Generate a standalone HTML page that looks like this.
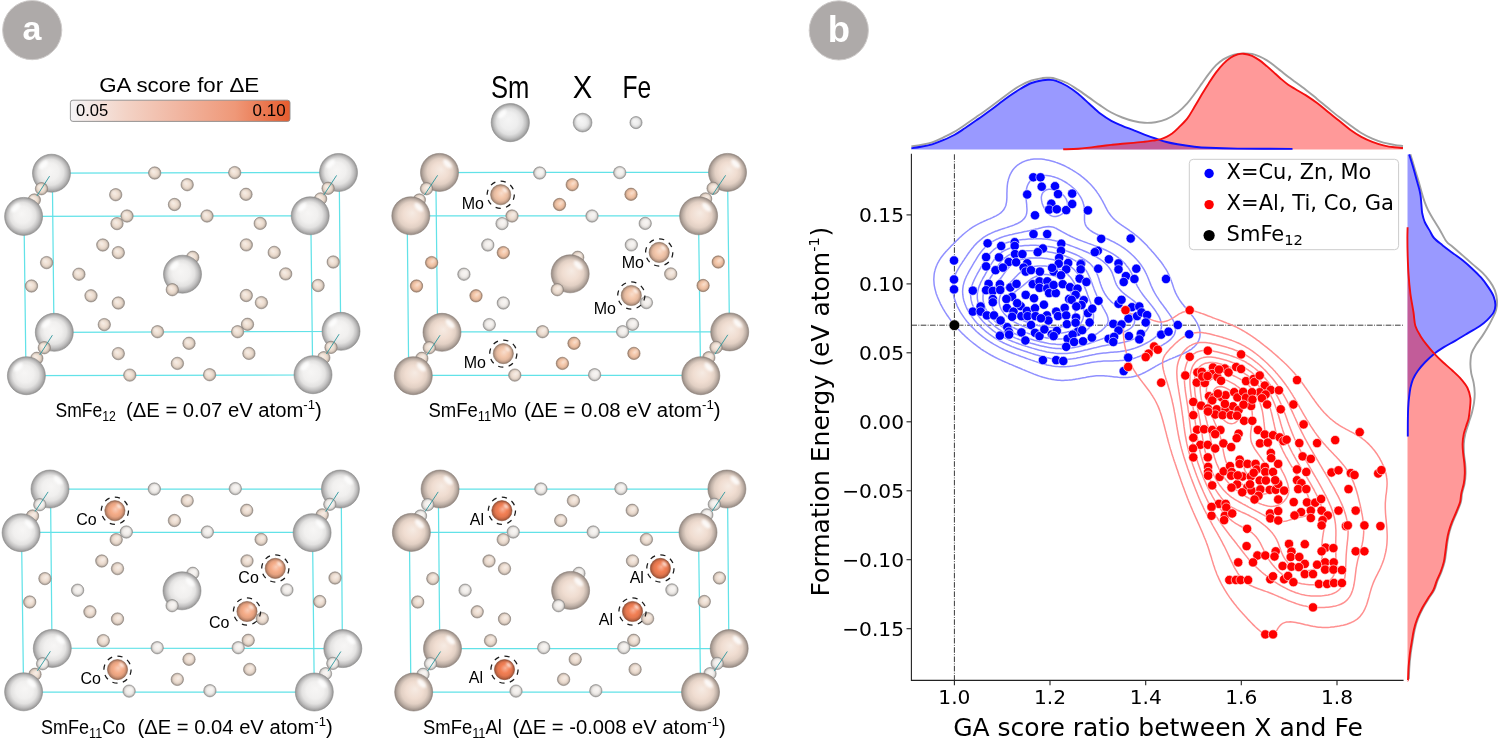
<!DOCTYPE html>
<html><head><meta charset="utf-8"><title>SmFe12 GA score figure</title>
<style>
html,body{margin:0;padding:0;background:#fff;}
body{width:1502px;height:742px;overflow:hidden;}
svg{display:block;}
.cm{font-family:"Liberation Sans","DejaVu Sans",sans-serif;fill:#000;}
.mpl{font-family:"DejaVu Sans","Liberation Sans",sans-serif;fill:#000;}
</style></head><body>
<svg width="1502" height="742" viewBox="0 0 1502 742">
<defs>
<clipPath id="axclip"><rect x="911.4" y="154.3" width="491.6" height="526.1"/></clipPath>
<filter id="blur1" x="-50%" y="-50%" width="200%" height="200%"><feGaussianBlur stdDeviation="0.8"/></filter>
<linearGradient id="cbar" x1="0" y1="0" x2="1" y2="0">
<stop offset="0" stop-color="#f5f5f7"/><stop offset="0.25" stop-color="#f3d3c6"/>
<stop offset="0.5" stop-color="#f1b5a0"/><stop offset="0.75" stop-color="#ef9878"/>
<stop offset="1" stop-color="#e65c2e"/></linearGradient>
<radialGradient id="g0" cx="0.5" cy="0.5" r="0.5" fx="0.44" fy="0.42"><stop offset="0" stop-color="#f7f6f5"/><stop offset="0.45" stop-color="#f1f0ef"/><stop offset="0.68" stop-color="#e3e2e1"/><stop offset="0.84" stop-color="#c3c2c2"/><stop offset="0.95" stop-color="#a4a3a3"/><stop offset="1" stop-color="#91908f"/></radialGradient>
<radialGradient id="g1" cx="0.5" cy="0.5" r="0.5" fx="0.44" fy="0.42"><stop offset="0" stop-color="#f5ece4"/><stop offset="0.45" stop-color="#efdfd2"/><stop offset="0.68" stop-color="#e1d2c5"/><stop offset="0.84" stop-color="#c2b5aa"/><stop offset="0.95" stop-color="#a3988f"/><stop offset="1" stop-color="#8f867e"/></radialGradient>
<radialGradient id="g2" cx="0.5" cy="0.5" r="0.5" fx="0.54" fy="0.42"><stop offset="0" stop-color="#f6ebe3"/><stop offset="0.45" stop-color="#f0ddd1"/><stop offset="0.68" stop-color="#e2d0c4"/><stop offset="0.84" stop-color="#c2b3a9"/><stop offset="0.95" stop-color="#a3968e"/><stop offset="1" stop-color="#90857d"/></radialGradient>
<radialGradient id="g3" cx="0.5" cy="0.5" r="0.5" fx="0.54" fy="0.42"><stop offset="0" stop-color="#f7f5f3"/><stop offset="0.45" stop-color="#f2eeeb"/><stop offset="0.68" stop-color="#e3e0dd"/><stop offset="0.84" stop-color="#c4c1be"/><stop offset="0.95" stop-color="#a5a2a0"/><stop offset="1" stop-color="#918f8d"/></radialGradient>
<radialGradient id="g4" cx="0.5" cy="0.5" r="0.5" fx="0.54" fy="0.42"><stop offset="0" stop-color="#f8ddcb"/><stop offset="0.45" stop-color="#f4c6a8"/><stop offset="0.68" stop-color="#e5ba9e"/><stop offset="0.84" stop-color="#c6a088"/><stop offset="0.95" stop-color="#a68772"/><stop offset="1" stop-color="#927765"/></radialGradient>
<radialGradient id="g5" cx="0.5" cy="0.5" r="0.5" fx="0.54" fy="0.42"><stop offset="0" stop-color="#f8ddcc"/><stop offset="0.45" stop-color="#f3c6aa"/><stop offset="0.68" stop-color="#e4baa0"/><stop offset="0.84" stop-color="#c5a08a"/><stop offset="0.95" stop-color="#a58774"/><stop offset="1" stop-color="#927766"/></radialGradient>
<radialGradient id="g6" cx="0.5" cy="0.5" r="0.5" fx="0.54" fy="0.42"><stop offset="0" stop-color="#f5ece5"/><stop offset="0.45" stop-color="#efdfd3"/><stop offset="0.68" stop-color="#e1d2c6"/><stop offset="0.84" stop-color="#c2b5ab"/><stop offset="0.95" stop-color="#a3988f"/><stop offset="1" stop-color="#8f867f"/></radialGradient>
<radialGradient id="g7" cx="0.5" cy="0.5" r="0.5" fx="0.54" fy="0.42"><stop offset="0" stop-color="#f7f6f5"/><stop offset="0.45" stop-color="#f1f0ef"/><stop offset="0.68" stop-color="#e3e2e1"/><stop offset="0.84" stop-color="#c3c2c2"/><stop offset="0.95" stop-color="#a4a3a3"/><stop offset="1" stop-color="#91908f"/></radialGradient>
<radialGradient id="g8" cx="0.5" cy="0.5" r="0.5" fx="0.54" fy="0.42"><stop offset="0" stop-color="#f9cdb8"/><stop offset="0.45" stop-color="#f5ac88"/><stop offset="0.68" stop-color="#e6a280"/><stop offset="0.84" stop-color="#c68b6e"/><stop offset="0.95" stop-color="#a7755c"/><stop offset="1" stop-color="#936752"/></radialGradient>
<radialGradient id="g9" cx="0.5" cy="0.5" r="0.5" fx="0.54" fy="0.42"><stop offset="0" stop-color="#f7b298"/><stop offset="0.45" stop-color="#f27f54"/><stop offset="0.68" stop-color="#e3774f"/><stop offset="0.84" stop-color="#c46744"/><stop offset="0.95" stop-color="#a55639"/><stop offset="1" stop-color="#914c32"/></radialGradient>
<radialGradient id="g10" cx="0.5" cy="0.5" r="0.5" fx="0.44" fy="0.42"><stop offset="0" stop-color="#f5f5f5"/><stop offset="0.45" stop-color="#eeeeee"/><stop offset="0.68" stop-color="#e0e0e0"/><stop offset="0.84" stop-color="#c1c1c1"/><stop offset="0.95" stop-color="#a2a2a2"/><stop offset="1" stop-color="#8f8f8f"/></radialGradient>
</defs>
<!-- panel labels -->
<circle cx="32.2" cy="30.1" r="29.6" fill="#aeaaa9" stroke="#cfcccb" stroke-width="1"/>
<text x="32" y="40" text-anchor="middle" font-family="Liberation Sans, DejaVu Sans, sans-serif" font-weight="bold" font-size="34" fill="#fff">a</text>
<circle cx="838.8" cy="30.4" r="29.6" fill="#aeaaa9" stroke="#cfcccb" stroke-width="1"/>
<text x="838.8" y="42.4" text-anchor="middle" font-family="Liberation Sans, DejaVu Sans, sans-serif" font-weight="bold" font-size="36.5" fill="#fff">b</text>
<!-- colorbar -->
<text x="99.2" y="91.6" class="cm" font-size="20.3" textLength="160" lengthAdjust="spacingAndGlyphs">GA score for ΔE</text>
<rect x="70.4" y="100.2" width="219.6" height="21.2" rx="2.5" fill="url(#cbar)" stroke="#8a8a8a" stroke-width="0.9"/>
<text x="76" y="116.3" class="cm" font-size="16.5" textLength="32.3" lengthAdjust="spacingAndGlyphs">0.05</text>
<text x="252.6" y="116.3" class="cm" font-size="16.5" textLength="33" lengthAdjust="spacingAndGlyphs">0.10</text>
<!-- element legend -->
<text x="491" y="97.7" class="cm" font-size="31.5" textLength="38.4" lengthAdjust="spacingAndGlyphs">Sm</text>
<text x="572.8" y="97.7" class="cm" font-size="31.5" textLength="19.5" lengthAdjust="spacingAndGlyphs">X</text>
<text x="622.4" y="97.7" class="cm" font-size="31.5" textLength="28.7" lengthAdjust="spacingAndGlyphs">Fe</text>

<path d="M52.3,173.0 L339.2,172.5 L340.7,331.5 L54.0,332.3 Z" fill="none" stroke="#62e2e8" stroke-width="1.25"/>
<path d="M24.0,216.3 L310.8,215.8 L312.7,375.0 L26.0,375.5 Z" fill="none" stroke="#62e2e8" stroke-width="1.25"/>
<circle cx="51.5" cy="173.2" r="19.0" fill="url(#g0)" stroke="#8c8b8b" stroke-width="0.6"/><ellipse cx="43.5" cy="164.6" rx="5.7" ry="2.9" transform="rotate(-45 43.5 164.6)" fill="#ffffff" opacity="0.85" filter="url(#blur1)"/>
<circle cx="338.5" cy="172.5" r="19.0" fill="url(#g0)" stroke="#8c8b8b" stroke-width="0.6"/><ellipse cx="330.5" cy="163.9" rx="5.7" ry="2.9" transform="rotate(-45 330.5 163.9)" fill="#ffffff" opacity="0.85" filter="url(#blur1)"/>
<circle cx="54.3" cy="332.3" r="19.0" fill="url(#g0)" stroke="#8c8b8b" stroke-width="0.6"/><ellipse cx="46.3" cy="323.8" rx="5.7" ry="2.9" transform="rotate(-45 46.3 323.8)" fill="#ffffff" opacity="0.85" filter="url(#blur1)"/>
<circle cx="341.0" cy="331.3" r="19.0" fill="url(#g0)" stroke="#8c8b8b" stroke-width="0.6"/><ellipse cx="333.0" cy="322.8" rx="5.7" ry="2.9" transform="rotate(-45 333.0 322.8)" fill="#ffffff" opacity="0.85" filter="url(#blur1)"/>
<circle cx="154.7" cy="173.0" r="6.2" fill="url(#g1)" stroke="#8b817a" stroke-width="0.6"/><circle cx="152.2" cy="170.5" r="1.4" fill="#ffffff" opacity="0.55" filter="url(#blur1)"/>
<circle cx="234.7" cy="172.6" r="6.2" fill="url(#g1)" stroke="#8b817a" stroke-width="0.6"/><circle cx="232.2" cy="170.1" r="1.4" fill="#ffffff" opacity="0.55" filter="url(#blur1)"/>
<circle cx="187.2" cy="184.7" r="6.2" fill="url(#g1)" stroke="#8b817a" stroke-width="0.6"/><circle cx="184.7" cy="182.2" r="1.4" fill="#ffffff" opacity="0.55" filter="url(#blur1)"/>
<circle cx="115.7" cy="194.7" r="6.2" fill="url(#g1)" stroke="#8b817a" stroke-width="0.6"/><circle cx="113.2" cy="192.2" r="1.4" fill="#ffffff" opacity="0.55" filter="url(#blur1)"/>
<circle cx="246.0" cy="194.3" r="6.2" fill="url(#g1)" stroke="#8b817a" stroke-width="0.6"/><circle cx="243.5" cy="191.8" r="1.4" fill="#ffffff" opacity="0.55" filter="url(#blur1)"/>
<circle cx="174.5" cy="204.5" r="6.2" fill="url(#g1)" stroke="#8b817a" stroke-width="0.6"/><circle cx="172.0" cy="202.0" r="1.4" fill="#ffffff" opacity="0.55" filter="url(#blur1)"/>
<circle cx="117.0" cy="223.6" r="6.2" fill="url(#g1)" stroke="#8b817a" stroke-width="0.6"/><circle cx="114.5" cy="221.1" r="1.4" fill="#ffffff" opacity="0.55" filter="url(#blur1)"/>
<circle cx="127.0" cy="216.0" r="6.2" fill="url(#g1)" stroke="#8b817a" stroke-width="0.6"/><circle cx="124.5" cy="213.5" r="1.4" fill="#ffffff" opacity="0.55" filter="url(#blur1)"/>
<circle cx="207.0" cy="216.0" r="6.2" fill="url(#g1)" stroke="#8b817a" stroke-width="0.6"/><circle cx="204.5" cy="213.5" r="1.4" fill="#ffffff" opacity="0.55" filter="url(#blur1)"/>
<circle cx="260.2" cy="223.4" r="6.2" fill="url(#g1)" stroke="#8b817a" stroke-width="0.6"/><circle cx="257.7" cy="220.9" r="1.4" fill="#ffffff" opacity="0.55" filter="url(#blur1)"/>
<circle cx="102.8" cy="245.0" r="6.2" fill="url(#g1)" stroke="#8b817a" stroke-width="0.6"/><circle cx="100.3" cy="242.5" r="1.4" fill="#ffffff" opacity="0.55" filter="url(#blur1)"/>
<circle cx="118.3" cy="252.6" r="6.2" fill="url(#g1)" stroke="#8b817a" stroke-width="0.6"/><circle cx="115.8" cy="250.1" r="1.4" fill="#ffffff" opacity="0.55" filter="url(#blur1)"/>
<circle cx="246.3" cy="244.9" r="6.2" fill="url(#g1)" stroke="#8b817a" stroke-width="0.6"/><circle cx="243.8" cy="242.4" r="1.4" fill="#ffffff" opacity="0.55" filter="url(#blur1)"/>
<circle cx="274.2" cy="252.4" r="6.2" fill="url(#g1)" stroke="#8b817a" stroke-width="0.6"/><circle cx="271.7" cy="249.9" r="1.4" fill="#ffffff" opacity="0.55" filter="url(#blur1)"/>
<circle cx="192.7" cy="257.3" r="6.2" fill="url(#g1)" stroke="#8b817a" stroke-width="0.6"/><circle cx="190.2" cy="254.8" r="1.4" fill="#ffffff" opacity="0.55" filter="url(#blur1)"/>
<circle cx="182.5" cy="274.2" r="19.0" fill="url(#g0)" stroke="#8c8b8b" stroke-width="0.6"/><ellipse cx="174.5" cy="265.6" rx="5.7" ry="2.9" transform="rotate(-45 174.5 265.6)" fill="#ffffff" opacity="0.85" filter="url(#blur1)"/>
<circle cx="172.3" cy="289.7" r="6.2" fill="url(#g1)" stroke="#8b817a" stroke-width="0.6"/><circle cx="169.8" cy="287.2" r="1.4" fill="#ffffff" opacity="0.55" filter="url(#blur1)"/>
<circle cx="46.6" cy="262.6" r="6.2" fill="url(#g1)" stroke="#8b817a" stroke-width="0.6"/><circle cx="44.1" cy="260.1" r="1.4" fill="#ffffff" opacity="0.55" filter="url(#blur1)"/>
<circle cx="333.2" cy="262.0" r="6.2" fill="url(#g1)" stroke="#8b817a" stroke-width="0.6"/><circle cx="330.7" cy="259.5" r="1.4" fill="#ffffff" opacity="0.55" filter="url(#blur1)"/>
<circle cx="78.9" cy="274.2" r="6.2" fill="url(#g1)" stroke="#8b817a" stroke-width="0.6"/><circle cx="76.4" cy="271.7" r="1.4" fill="#ffffff" opacity="0.55" filter="url(#blur1)"/>
<circle cx="285.7" cy="273.9" r="6.2" fill="url(#g1)" stroke="#8b817a" stroke-width="0.6"/><circle cx="283.2" cy="271.4" r="1.4" fill="#ffffff" opacity="0.55" filter="url(#blur1)"/>
<circle cx="31.5" cy="286.0" r="6.2" fill="url(#g1)" stroke="#8b817a" stroke-width="0.6"/><circle cx="29.0" cy="283.5" r="1.4" fill="#ffffff" opacity="0.55" filter="url(#blur1)"/>
<circle cx="318.1" cy="285.5" r="6.2" fill="url(#g1)" stroke="#8b817a" stroke-width="0.6"/><circle cx="315.6" cy="283.0" r="1.4" fill="#ffffff" opacity="0.55" filter="url(#blur1)"/>
<circle cx="91.0" cy="295.8" r="6.2" fill="url(#g1)" stroke="#8b817a" stroke-width="0.6"/><circle cx="88.5" cy="293.3" r="1.4" fill="#ffffff" opacity="0.55" filter="url(#blur1)"/>
<circle cx="118.3" cy="303.0" r="6.2" fill="url(#g1)" stroke="#8b817a" stroke-width="0.6"/><circle cx="115.8" cy="300.5" r="1.4" fill="#ffffff" opacity="0.55" filter="url(#blur1)"/>
<circle cx="246.3" cy="295.5" r="6.2" fill="url(#g1)" stroke="#8b817a" stroke-width="0.6"/><circle cx="243.8" cy="293.0" r="1.4" fill="#ffffff" opacity="0.55" filter="url(#blur1)"/>
<circle cx="261.4" cy="302.6" r="6.2" fill="url(#g1)" stroke="#8b817a" stroke-width="0.6"/><circle cx="258.9" cy="300.1" r="1.4" fill="#ffffff" opacity="0.55" filter="url(#blur1)"/>
<circle cx="104.3" cy="324.6" r="6.2" fill="url(#g1)" stroke="#8b817a" stroke-width="0.6"/><circle cx="101.8" cy="322.1" r="1.4" fill="#ffffff" opacity="0.55" filter="url(#blur1)"/>
<circle cx="247.5" cy="324.3" r="6.2" fill="url(#g1)" stroke="#8b817a" stroke-width="0.6"/><circle cx="245.0" cy="321.8" r="1.4" fill="#ffffff" opacity="0.55" filter="url(#blur1)"/>
<circle cx="237.6" cy="331.7" r="6.2" fill="url(#g1)" stroke="#8b817a" stroke-width="0.6"/><circle cx="235.1" cy="329.2" r="1.4" fill="#ffffff" opacity="0.55" filter="url(#blur1)"/>
<circle cx="157.5" cy="331.7" r="6.2" fill="url(#g1)" stroke="#8b817a" stroke-width="0.6"/><circle cx="155.0" cy="329.2" r="1.4" fill="#ffffff" opacity="0.55" filter="url(#blur1)"/>
<circle cx="189.0" cy="343.3" r="6.2" fill="url(#g1)" stroke="#8b817a" stroke-width="0.6"/><circle cx="186.5" cy="340.8" r="1.4" fill="#ffffff" opacity="0.55" filter="url(#blur1)"/>
<circle cx="118.3" cy="353.6" r="6.2" fill="url(#g1)" stroke="#8b817a" stroke-width="0.6"/><circle cx="115.8" cy="351.1" r="1.4" fill="#ffffff" opacity="0.55" filter="url(#blur1)"/>
<circle cx="248.9" cy="353.4" r="6.2" fill="url(#g1)" stroke="#8b817a" stroke-width="0.6"/><circle cx="246.4" cy="350.9" r="1.4" fill="#ffffff" opacity="0.55" filter="url(#blur1)"/>
<circle cx="177.4" cy="363.4" r="6.2" fill="url(#g1)" stroke="#8b817a" stroke-width="0.6"/><circle cx="174.9" cy="360.9" r="1.4" fill="#ffffff" opacity="0.55" filter="url(#blur1)"/>
<circle cx="129.8" cy="375.1" r="6.2" fill="url(#g1)" stroke="#8b817a" stroke-width="0.6"/><circle cx="127.3" cy="372.6" r="1.4" fill="#ffffff" opacity="0.55" filter="url(#blur1)"/>
<circle cx="209.6" cy="374.7" r="6.2" fill="url(#g1)" stroke="#8b817a" stroke-width="0.6"/><circle cx="207.1" cy="372.2" r="1.4" fill="#ffffff" opacity="0.55" filter="url(#blur1)"/>
<circle cx="34.3" cy="200.0" r="6.2" fill="url(#g1)" stroke="#8b817a" stroke-width="0.6"/><circle cx="31.8" cy="197.5" r="1.4" fill="#ffffff" opacity="0.55" filter="url(#blur1)"/>
<circle cx="41.5" cy="188.7" r="6.2" fill="url(#g1)" stroke="#8b817a" stroke-width="0.6"/><circle cx="39.0" cy="186.2" r="1.4" fill="#ffffff" opacity="0.55" filter="url(#blur1)"/>
<line x1="49.6" y1="176.1" x2="36.9" y2="195.9" stroke="#2a959c" stroke-width="0.9"/>
<circle cx="23.6" cy="216.4" r="19.0" fill="url(#g0)" stroke="#8c8b8b" stroke-width="0.6"/><ellipse cx="15.6" cy="207.8" rx="5.7" ry="2.9" transform="rotate(-45 15.6 207.8)" fill="#ffffff" opacity="0.85" filter="url(#blur1)"/>
<circle cx="320.6" cy="198.9" r="6.2" fill="url(#g1)" stroke="#8b817a" stroke-width="0.6"/><circle cx="318.1" cy="196.4" r="1.4" fill="#ffffff" opacity="0.55" filter="url(#blur1)"/>
<circle cx="328.1" cy="188.3" r="6.2" fill="url(#g1)" stroke="#8b817a" stroke-width="0.6"/><circle cx="325.6" cy="185.8" r="1.4" fill="#ffffff" opacity="0.55" filter="url(#blur1)"/>
<line x1="336.6" y1="175.4" x2="323.7" y2="195.1" stroke="#2a959c" stroke-width="0.9"/>
<circle cx="310.2" cy="215.8" r="19.0" fill="url(#g0)" stroke="#8c8b8b" stroke-width="0.6"/><ellipse cx="302.2" cy="207.2" rx="5.7" ry="2.9" transform="rotate(-45 302.2 207.2)" fill="#ffffff" opacity="0.85" filter="url(#blur1)"/>
<circle cx="36.8" cy="358.3" r="6.2" fill="url(#g1)" stroke="#8b817a" stroke-width="0.6"/><circle cx="34.3" cy="355.8" r="1.4" fill="#ffffff" opacity="0.55" filter="url(#blur1)"/>
<circle cx="44.3" cy="347.7" r="6.2" fill="url(#g1)" stroke="#8b817a" stroke-width="0.6"/><circle cx="41.8" cy="345.2" r="1.4" fill="#ffffff" opacity="0.55" filter="url(#blur1)"/>
<line x1="52.4" y1="335.2" x2="39.7" y2="355.0" stroke="#2a959c" stroke-width="0.9"/>
<circle cx="26.4" cy="375.7" r="19.0" fill="url(#g0)" stroke="#8c8b8b" stroke-width="0.6"/><ellipse cx="18.4" cy="367.1" rx="5.7" ry="2.9" transform="rotate(-45 18.4 367.1)" fill="#ffffff" opacity="0.85" filter="url(#blur1)"/>
<circle cx="323.8" cy="357.7" r="6.2" fill="url(#g1)" stroke="#8b817a" stroke-width="0.6"/><circle cx="321.3" cy="355.2" r="1.4" fill="#ffffff" opacity="0.55" filter="url(#blur1)"/>
<circle cx="331.0" cy="347.4" r="6.2" fill="url(#g1)" stroke="#8b817a" stroke-width="0.6"/><circle cx="328.5" cy="344.9" r="1.4" fill="#ffffff" opacity="0.55" filter="url(#blur1)"/>
<line x1="339.1" y1="334.2" x2="326.4" y2="354.0" stroke="#2a959c" stroke-width="0.9"/>
<circle cx="313.0" cy="374.7" r="19.0" fill="url(#g0)" stroke="#8c8b8b" stroke-width="0.6"/><ellipse cx="305.0" cy="366.1" rx="5.7" ry="2.9" transform="rotate(-45 305.0 366.1)" fill="#ffffff" opacity="0.85" filter="url(#blur1)"/>
<path d="M435.8,172.5 L727.5,172.3 L729.5,331.8 L437.6,331.9 Z" fill="none" stroke="#62e2e8" stroke-width="1.25"/>
<path d="M407.2,215.8 L698.5,215.8 L700.6,375.3 L408.7,375.3 Z" fill="none" stroke="#62e2e8" stroke-width="1.25"/>
<circle cx="439.5" cy="172.4" r="19.0" fill="url(#g2)" stroke="#8b8079" stroke-width="0.6"/><ellipse cx="447.5" cy="163.8" rx="5.7" ry="2.9" transform="rotate(45 447.5 163.8)" fill="#ffffff" opacity="0.85" filter="url(#blur1)"/>
<circle cx="727.5" cy="172.4" r="19.0" fill="url(#g2)" stroke="#8b8079" stroke-width="0.6"/><ellipse cx="735.5" cy="163.8" rx="5.7" ry="2.9" transform="rotate(45 735.5 163.8)" fill="#ffffff" opacity="0.85" filter="url(#blur1)"/>
<circle cx="442.0" cy="332.3" r="19.0" fill="url(#g2)" stroke="#8b8079" stroke-width="0.6"/><ellipse cx="450.0" cy="323.8" rx="5.7" ry="2.9" transform="rotate(45 450.0 323.8)" fill="#ffffff" opacity="0.85" filter="url(#blur1)"/>
<circle cx="729.7" cy="331.9" r="19.0" fill="url(#g2)" stroke="#8b8079" stroke-width="0.6"/><ellipse cx="737.7" cy="323.3" rx="5.7" ry="2.9" transform="rotate(45 737.7 323.3)" fill="#ffffff" opacity="0.85" filter="url(#blur1)"/>
<circle cx="539.7" cy="173.0" r="6.2" fill="url(#g3)" stroke="#8c8a88" stroke-width="0.6"/><circle cx="542.2" cy="170.5" r="1.4" fill="#ffffff" opacity="0.55" filter="url(#blur1)"/>
<circle cx="619.7" cy="172.6" r="6.2" fill="url(#g3)" stroke="#8c8a88" stroke-width="0.6"/><circle cx="622.2" cy="170.1" r="1.4" fill="#ffffff" opacity="0.55" filter="url(#blur1)"/>
<circle cx="572.2" cy="184.7" r="6.2" fill="url(#g4)" stroke="#8e7361" stroke-width="0.6"/><circle cx="574.7" cy="182.2" r="1.4" fill="#ffffff" opacity="0.55" filter="url(#blur1)"/>
<circle cx="500.7" cy="194.7" r="10.1" fill="url(#g5)" stroke="#8d7363" stroke-width="0.6"/><ellipse cx="504.9" cy="190.2" rx="3.0" ry="1.5" transform="rotate(45 504.9 190.2)" fill="#ffffff" opacity="0.85" filter="url(#blur1)"/>
<circle cx="631.0" cy="194.3" r="6.2" fill="url(#g4)" stroke="#8e7361" stroke-width="0.6"/><circle cx="633.5" cy="191.8" r="1.4" fill="#ffffff" opacity="0.55" filter="url(#blur1)"/>
<circle cx="559.5" cy="204.5" r="6.2" fill="url(#g4)" stroke="#8e7361" stroke-width="0.6"/><circle cx="562.0" cy="202.0" r="1.4" fill="#ffffff" opacity="0.55" filter="url(#blur1)"/>
<circle cx="502.0" cy="223.6" r="6.2" fill="url(#g3)" stroke="#8c8a88" stroke-width="0.6"/><circle cx="504.5" cy="221.1" r="1.4" fill="#ffffff" opacity="0.55" filter="url(#blur1)"/>
<circle cx="512.0" cy="216.0" r="6.2" fill="url(#g6)" stroke="#8b817a" stroke-width="0.6"/><circle cx="514.5" cy="213.5" r="1.4" fill="#ffffff" opacity="0.55" filter="url(#blur1)"/>
<circle cx="592.0" cy="216.0" r="6.2" fill="url(#g3)" stroke="#8c8a88" stroke-width="0.6"/><circle cx="594.5" cy="213.5" r="1.4" fill="#ffffff" opacity="0.55" filter="url(#blur1)"/>
<circle cx="645.2" cy="223.4" r="6.2" fill="url(#g3)" stroke="#8c8a88" stroke-width="0.6"/><circle cx="647.7" cy="220.9" r="1.4" fill="#ffffff" opacity="0.55" filter="url(#blur1)"/>
<circle cx="487.8" cy="245.0" r="6.2" fill="url(#g3)" stroke="#8c8a88" stroke-width="0.6"/><circle cx="490.3" cy="242.5" r="1.4" fill="#ffffff" opacity="0.55" filter="url(#blur1)"/>
<circle cx="503.3" cy="252.6" r="6.2" fill="url(#g4)" stroke="#8e7361" stroke-width="0.6"/><circle cx="505.8" cy="250.1" r="1.4" fill="#ffffff" opacity="0.55" filter="url(#blur1)"/>
<circle cx="631.3" cy="244.9" r="6.2" fill="url(#g3)" stroke="#8c8a88" stroke-width="0.6"/><circle cx="633.8" cy="242.4" r="1.4" fill="#ffffff" opacity="0.55" filter="url(#blur1)"/>
<circle cx="659.2" cy="252.4" r="10.1" fill="url(#g5)" stroke="#8d7363" stroke-width="0.6"/><ellipse cx="663.4" cy="247.9" rx="3.0" ry="1.5" transform="rotate(45 663.4 247.9)" fill="#ffffff" opacity="0.85" filter="url(#blur1)"/>
<circle cx="577.7" cy="257.3" r="6.2" fill="url(#g6)" stroke="#8b817a" stroke-width="0.6"/><circle cx="580.2" cy="254.8" r="1.4" fill="#ffffff" opacity="0.55" filter="url(#blur1)"/>
<circle cx="570.2" cy="273.8" r="19.0" fill="url(#g2)" stroke="#8b8079" stroke-width="0.6"/><ellipse cx="578.2" cy="265.2" rx="5.7" ry="2.9" transform="rotate(45 578.2 265.2)" fill="#ffffff" opacity="0.85" filter="url(#blur1)"/>
<circle cx="557.3" cy="289.7" r="6.2" fill="url(#g6)" stroke="#8b817a" stroke-width="0.6"/><circle cx="559.8" cy="287.2" r="1.4" fill="#ffffff" opacity="0.55" filter="url(#blur1)"/>
<circle cx="431.6" cy="262.6" r="6.2" fill="url(#g4)" stroke="#8e7361" stroke-width="0.6"/><circle cx="434.1" cy="260.1" r="1.4" fill="#ffffff" opacity="0.55" filter="url(#blur1)"/>
<circle cx="718.2" cy="262.0" r="6.2" fill="url(#g4)" stroke="#8e7361" stroke-width="0.6"/><circle cx="720.7" cy="259.5" r="1.4" fill="#ffffff" opacity="0.55" filter="url(#blur1)"/>
<circle cx="463.9" cy="274.2" r="6.2" fill="url(#g3)" stroke="#8c8a88" stroke-width="0.6"/><circle cx="466.4" cy="271.7" r="1.4" fill="#ffffff" opacity="0.55" filter="url(#blur1)"/>
<circle cx="670.7" cy="273.9" r="6.2" fill="url(#g6)" stroke="#8b817a" stroke-width="0.6"/><circle cx="673.2" cy="271.4" r="1.4" fill="#ffffff" opacity="0.55" filter="url(#blur1)"/>
<circle cx="416.5" cy="286.0" r="6.2" fill="url(#g4)" stroke="#8e7361" stroke-width="0.6"/><circle cx="419.0" cy="283.5" r="1.4" fill="#ffffff" opacity="0.55" filter="url(#blur1)"/>
<circle cx="703.1" cy="285.5" r="6.2" fill="url(#g4)" stroke="#8e7361" stroke-width="0.6"/><circle cx="705.6" cy="283.0" r="1.4" fill="#ffffff" opacity="0.55" filter="url(#blur1)"/>
<circle cx="476.0" cy="295.8" r="6.2" fill="url(#g4)" stroke="#8e7361" stroke-width="0.6"/><circle cx="478.5" cy="293.3" r="1.4" fill="#ffffff" opacity="0.55" filter="url(#blur1)"/>
<circle cx="503.3" cy="303.0" r="6.2" fill="url(#g3)" stroke="#8c8a88" stroke-width="0.6"/><circle cx="505.8" cy="300.5" r="1.4" fill="#ffffff" opacity="0.55" filter="url(#blur1)"/>
<circle cx="631.3" cy="295.5" r="10.1" fill="url(#g5)" stroke="#8d7363" stroke-width="0.6"/><ellipse cx="635.5" cy="291.0" rx="3.0" ry="1.5" transform="rotate(45 635.5 291.0)" fill="#ffffff" opacity="0.85" filter="url(#blur1)"/>
<circle cx="646.4" cy="302.6" r="6.2" fill="url(#g3)" stroke="#8c8a88" stroke-width="0.6"/><circle cx="648.9" cy="300.1" r="1.4" fill="#ffffff" opacity="0.55" filter="url(#blur1)"/>
<circle cx="489.3" cy="324.6" r="6.2" fill="url(#g3)" stroke="#8c8a88" stroke-width="0.6"/><circle cx="491.8" cy="322.1" r="1.4" fill="#ffffff" opacity="0.55" filter="url(#blur1)"/>
<circle cx="632.5" cy="324.3" r="6.2" fill="url(#g3)" stroke="#8c8a88" stroke-width="0.6"/><circle cx="635.0" cy="321.8" r="1.4" fill="#ffffff" opacity="0.55" filter="url(#blur1)"/>
<circle cx="622.6" cy="331.7" r="6.2" fill="url(#g3)" stroke="#8c8a88" stroke-width="0.6"/><circle cx="625.1" cy="329.2" r="1.4" fill="#ffffff" opacity="0.55" filter="url(#blur1)"/>
<circle cx="542.5" cy="331.7" r="6.2" fill="url(#g6)" stroke="#8b817a" stroke-width="0.6"/><circle cx="545.0" cy="329.2" r="1.4" fill="#ffffff" opacity="0.55" filter="url(#blur1)"/>
<circle cx="574.0" cy="343.3" r="6.2" fill="url(#g4)" stroke="#8e7361" stroke-width="0.6"/><circle cx="576.5" cy="340.8" r="1.4" fill="#ffffff" opacity="0.55" filter="url(#blur1)"/>
<circle cx="503.3" cy="353.6" r="10.1" fill="url(#g5)" stroke="#8d7363" stroke-width="0.6"/><ellipse cx="507.5" cy="349.1" rx="3.0" ry="1.5" transform="rotate(45 507.5 349.1)" fill="#ffffff" opacity="0.85" filter="url(#blur1)"/>
<circle cx="633.9" cy="353.4" r="6.2" fill="url(#g4)" stroke="#8e7361" stroke-width="0.6"/><circle cx="636.4" cy="350.9" r="1.4" fill="#ffffff" opacity="0.55" filter="url(#blur1)"/>
<circle cx="562.4" cy="363.4" r="6.2" fill="url(#g4)" stroke="#8e7361" stroke-width="0.6"/><circle cx="564.9" cy="360.9" r="1.4" fill="#ffffff" opacity="0.55" filter="url(#blur1)"/>
<circle cx="514.8" cy="375.1" r="6.2" fill="url(#g6)" stroke="#8b817a" stroke-width="0.6"/><circle cx="517.3" cy="372.6" r="1.4" fill="#ffffff" opacity="0.55" filter="url(#blur1)"/>
<circle cx="594.6" cy="374.7" r="6.2" fill="url(#g3)" stroke="#8c8a88" stroke-width="0.6"/><circle cx="597.1" cy="372.2" r="1.4" fill="#ffffff" opacity="0.55" filter="url(#blur1)"/>
<circle cx="419.3" cy="200.0" r="6.2" fill="url(#g6)" stroke="#8b817a" stroke-width="0.6"/><circle cx="421.8" cy="197.5" r="1.4" fill="#ffffff" opacity="0.55" filter="url(#blur1)"/>
<circle cx="426.5" cy="188.7" r="6.2" fill="url(#g6)" stroke="#8b817a" stroke-width="0.6"/><circle cx="429.0" cy="186.2" r="1.4" fill="#ffffff" opacity="0.55" filter="url(#blur1)"/>
<line x1="437.6" y1="175.3" x2="424.6" y2="194.9" stroke="#2a959c" stroke-width="0.9"/>
<circle cx="410.8" cy="215.8" r="19.0" fill="url(#g2)" stroke="#8b8079" stroke-width="0.6"/><ellipse cx="418.8" cy="207.2" rx="5.7" ry="2.9" transform="rotate(45 418.8 207.2)" fill="#ffffff" opacity="0.85" filter="url(#blur1)"/>
<circle cx="705.6" cy="198.9" r="6.2" fill="url(#g6)" stroke="#8b817a" stroke-width="0.6"/><circle cx="708.1" cy="196.4" r="1.4" fill="#ffffff" opacity="0.55" filter="url(#blur1)"/>
<circle cx="713.1" cy="188.3" r="6.2" fill="url(#g6)" stroke="#8b817a" stroke-width="0.6"/><circle cx="715.6" cy="185.8" r="1.4" fill="#ffffff" opacity="0.55" filter="url(#blur1)"/>
<line x1="725.6" y1="175.3" x2="712.5" y2="194.9" stroke="#2a959c" stroke-width="0.9"/>
<circle cx="698.6" cy="215.8" r="19.0" fill="url(#g2)" stroke="#8b8079" stroke-width="0.6"/><ellipse cx="706.6" cy="207.2" rx="5.7" ry="2.9" transform="rotate(45 706.6 207.2)" fill="#ffffff" opacity="0.85" filter="url(#blur1)"/>
<circle cx="421.8" cy="358.3" r="6.2" fill="url(#g6)" stroke="#8b817a" stroke-width="0.6"/><circle cx="424.3" cy="355.8" r="1.4" fill="#ffffff" opacity="0.55" filter="url(#blur1)"/>
<circle cx="429.3" cy="347.7" r="6.2" fill="url(#g6)" stroke="#8b817a" stroke-width="0.6"/><circle cx="431.8" cy="345.2" r="1.4" fill="#ffffff" opacity="0.55" filter="url(#blur1)"/>
<line x1="440.1" y1="335.2" x2="427.1" y2="354.8" stroke="#2a959c" stroke-width="0.9"/>
<circle cx="413.3" cy="375.7" r="19.0" fill="url(#g2)" stroke="#8b8079" stroke-width="0.6"/><ellipse cx="421.3" cy="367.1" rx="5.7" ry="2.9" transform="rotate(45 421.3 367.1)" fill="#ffffff" opacity="0.85" filter="url(#blur1)"/>
<circle cx="708.8" cy="357.7" r="6.2" fill="url(#g6)" stroke="#8b817a" stroke-width="0.6"/><circle cx="711.3" cy="355.2" r="1.4" fill="#ffffff" opacity="0.55" filter="url(#blur1)"/>
<circle cx="716.0" cy="347.4" r="6.2" fill="url(#g6)" stroke="#8b817a" stroke-width="0.6"/><circle cx="718.5" cy="344.9" r="1.4" fill="#ffffff" opacity="0.55" filter="url(#blur1)"/>
<line x1="727.8" y1="334.8" x2="714.8" y2="354.4" stroke="#2a959c" stroke-width="0.9"/>
<circle cx="700.8" cy="375.7" r="19.0" fill="url(#g2)" stroke="#8b8079" stroke-width="0.6"/><ellipse cx="708.8" cy="367.1" rx="5.7" ry="2.9" transform="rotate(45 708.8 367.1)" fill="#ffffff" opacity="0.85" filter="url(#blur1)"/>
<circle cx="500.7" cy="194.7" r="13.6" fill="none" stroke="#1a1a1a" stroke-width="1.25" stroke-dasharray="5.2,5.4"/>
<circle cx="659.2" cy="252.4" r="13.6" fill="none" stroke="#1a1a1a" stroke-width="1.25" stroke-dasharray="5.2,5.4"/>
<circle cx="631.3" cy="295.5" r="13.6" fill="none" stroke="#1a1a1a" stroke-width="1.25" stroke-dasharray="5.2,5.4"/>
<circle cx="503.3" cy="353.6" r="13.6" fill="none" stroke="#1a1a1a" stroke-width="1.25" stroke-dasharray="5.2,5.4"/>
<path d="M50.5,489.0 L341.2,489.0 L342.4,648.6 L52.0,648.2 Z" fill="none" stroke="#62e2e8" stroke-width="1.25"/>
<path d="M21.5,532.4 L312.5,532.4 L314.3,692.0 L23.6,692.0 Z" fill="none" stroke="#62e2e8" stroke-width="1.25"/>
<circle cx="50.0" cy="489.0" r="19.0" fill="url(#g7)" stroke="#8c8b8b" stroke-width="0.6"/><ellipse cx="58.0" cy="480.4" rx="5.7" ry="2.9" transform="rotate(45 58.0 480.4)" fill="#ffffff" opacity="0.85" filter="url(#blur1)"/>
<circle cx="340.4" cy="489.0" r="19.0" fill="url(#g7)" stroke="#8c8b8b" stroke-width="0.6"/><ellipse cx="348.4" cy="480.4" rx="5.7" ry="2.9" transform="rotate(45 348.4 480.4)" fill="#ffffff" opacity="0.85" filter="url(#blur1)"/>
<circle cx="52.3" cy="648.4" r="19.0" fill="url(#g7)" stroke="#8c8b8b" stroke-width="0.6"/><ellipse cx="60.3" cy="639.9" rx="5.7" ry="2.9" transform="rotate(45 60.3 639.9)" fill="#ffffff" opacity="0.85" filter="url(#blur1)"/>
<circle cx="342.8" cy="648.6" r="19.0" fill="url(#g7)" stroke="#8c8b8b" stroke-width="0.6"/><ellipse cx="350.8" cy="640.1" rx="5.7" ry="2.9" transform="rotate(45 350.8 640.1)" fill="#ffffff" opacity="0.85" filter="url(#blur1)"/>
<circle cx="154.3" cy="489.0" r="6.2" fill="url(#g3)" stroke="#8c8a88" stroke-width="0.6"/><circle cx="156.8" cy="486.5" r="1.4" fill="#ffffff" opacity="0.55" filter="url(#blur1)"/>
<circle cx="235.3" cy="488.6" r="6.2" fill="url(#g3)" stroke="#8c8a88" stroke-width="0.6"/><circle cx="237.8" cy="486.1" r="1.4" fill="#ffffff" opacity="0.55" filter="url(#blur1)"/>
<circle cx="187.2" cy="500.7" r="6.2" fill="url(#g6)" stroke="#8b817a" stroke-width="0.6"/><circle cx="189.7" cy="498.2" r="1.4" fill="#ffffff" opacity="0.55" filter="url(#blur1)"/>
<circle cx="114.9" cy="510.7" r="10.1" fill="url(#g8)" stroke="#8e644f" stroke-width="0.6"/><ellipse cx="119.1" cy="506.2" rx="3.0" ry="1.5" transform="rotate(45 119.1 506.2)" fill="#ffffff" opacity="0.85" filter="url(#blur1)"/>
<circle cx="246.7" cy="510.3" r="6.2" fill="url(#g6)" stroke="#8b817a" stroke-width="0.6"/><circle cx="249.2" cy="507.8" r="1.4" fill="#ffffff" opacity="0.55" filter="url(#blur1)"/>
<circle cx="174.4" cy="520.5" r="6.2" fill="url(#g6)" stroke="#8b817a" stroke-width="0.6"/><circle cx="176.9" cy="518.0" r="1.4" fill="#ffffff" opacity="0.55" filter="url(#blur1)"/>
<circle cx="116.2" cy="539.6" r="6.2" fill="url(#g6)" stroke="#8b817a" stroke-width="0.6"/><circle cx="118.7" cy="537.1" r="1.4" fill="#ffffff" opacity="0.55" filter="url(#blur1)"/>
<circle cx="126.3" cy="532.0" r="6.2" fill="url(#g3)" stroke="#8c8a88" stroke-width="0.6"/><circle cx="128.8" cy="529.5" r="1.4" fill="#ffffff" opacity="0.55" filter="url(#blur1)"/>
<circle cx="207.3" cy="532.0" r="6.2" fill="url(#g3)" stroke="#8c8a88" stroke-width="0.6"/><circle cx="209.7" cy="529.5" r="1.4" fill="#ffffff" opacity="0.55" filter="url(#blur1)"/>
<circle cx="261.1" cy="539.4" r="6.2" fill="url(#g6)" stroke="#8b817a" stroke-width="0.6"/><circle cx="263.6" cy="536.9" r="1.4" fill="#ffffff" opacity="0.55" filter="url(#blur1)"/>
<circle cx="101.8" cy="561.0" r="6.2" fill="url(#g6)" stroke="#8b817a" stroke-width="0.6"/><circle cx="104.3" cy="558.5" r="1.4" fill="#ffffff" opacity="0.55" filter="url(#blur1)"/>
<circle cx="117.5" cy="568.6" r="6.2" fill="url(#g6)" stroke="#8b817a" stroke-width="0.6"/><circle cx="120.0" cy="566.1" r="1.4" fill="#ffffff" opacity="0.55" filter="url(#blur1)"/>
<circle cx="247.0" cy="560.9" r="6.2" fill="url(#g6)" stroke="#8b817a" stroke-width="0.6"/><circle cx="249.5" cy="558.4" r="1.4" fill="#ffffff" opacity="0.55" filter="url(#blur1)"/>
<circle cx="275.3" cy="568.4" r="10.1" fill="url(#g8)" stroke="#8e644f" stroke-width="0.6"/><ellipse cx="279.5" cy="563.9" rx="3.0" ry="1.5" transform="rotate(45 279.5 563.9)" fill="#ffffff" opacity="0.85" filter="url(#blur1)"/>
<circle cx="192.8" cy="573.3" r="6.2" fill="url(#g3)" stroke="#8c8a88" stroke-width="0.6"/><circle cx="195.3" cy="570.8" r="1.4" fill="#ffffff" opacity="0.55" filter="url(#blur1)"/>
<circle cx="182.0" cy="590.8" r="19.0" fill="url(#g7)" stroke="#8c8b8b" stroke-width="0.6"/><ellipse cx="190.0" cy="582.2" rx="5.7" ry="2.9" transform="rotate(45 190.0 582.2)" fill="#ffffff" opacity="0.85" filter="url(#blur1)"/>
<circle cx="172.1" cy="605.7" r="6.2" fill="url(#g3)" stroke="#8c8a88" stroke-width="0.6"/><circle cx="174.6" cy="603.2" r="1.4" fill="#ffffff" opacity="0.55" filter="url(#blur1)"/>
<circle cx="44.9" cy="578.6" r="6.2" fill="url(#g6)" stroke="#8b817a" stroke-width="0.6"/><circle cx="47.4" cy="576.1" r="1.4" fill="#ffffff" opacity="0.55" filter="url(#blur1)"/>
<circle cx="335.0" cy="578.0" r="6.2" fill="url(#g6)" stroke="#8b817a" stroke-width="0.6"/><circle cx="337.5" cy="575.5" r="1.4" fill="#ffffff" opacity="0.55" filter="url(#blur1)"/>
<circle cx="77.6" cy="590.2" r="6.2" fill="url(#g3)" stroke="#8c8a88" stroke-width="0.6"/><circle cx="80.1" cy="587.7" r="1.4" fill="#ffffff" opacity="0.55" filter="url(#blur1)"/>
<circle cx="286.9" cy="589.9" r="6.2" fill="url(#g3)" stroke="#8c8a88" stroke-width="0.6"/><circle cx="289.4" cy="587.4" r="1.4" fill="#ffffff" opacity="0.55" filter="url(#blur1)"/>
<circle cx="29.7" cy="602.0" r="6.2" fill="url(#g6)" stroke="#8b817a" stroke-width="0.6"/><circle cx="32.1" cy="599.5" r="1.4" fill="#ffffff" opacity="0.55" filter="url(#blur1)"/>
<circle cx="319.7" cy="601.5" r="6.2" fill="url(#g6)" stroke="#8b817a" stroke-width="0.6"/><circle cx="322.2" cy="599.0" r="1.4" fill="#ffffff" opacity="0.55" filter="url(#blur1)"/>
<circle cx="89.9" cy="611.8" r="6.2" fill="url(#g6)" stroke="#8b817a" stroke-width="0.6"/><circle cx="92.4" cy="609.3" r="1.4" fill="#ffffff" opacity="0.55" filter="url(#blur1)"/>
<circle cx="117.5" cy="619.0" r="6.2" fill="url(#g6)" stroke="#8b817a" stroke-width="0.6"/><circle cx="120.0" cy="616.5" r="1.4" fill="#ffffff" opacity="0.55" filter="url(#blur1)"/>
<circle cx="247.0" cy="611.5" r="10.1" fill="url(#g8)" stroke="#8e644f" stroke-width="0.6"/><ellipse cx="251.3" cy="607.0" rx="3.0" ry="1.5" transform="rotate(45 251.3 607.0)" fill="#ffffff" opacity="0.85" filter="url(#blur1)"/>
<circle cx="262.3" cy="618.6" r="6.2" fill="url(#g6)" stroke="#8b817a" stroke-width="0.6"/><circle cx="264.8" cy="616.1" r="1.4" fill="#ffffff" opacity="0.55" filter="url(#blur1)"/>
<circle cx="103.3" cy="640.6" r="6.2" fill="url(#g6)" stroke="#8b817a" stroke-width="0.6"/><circle cx="105.8" cy="638.1" r="1.4" fill="#ffffff" opacity="0.55" filter="url(#blur1)"/>
<circle cx="248.2" cy="640.3" r="6.2" fill="url(#g6)" stroke="#8b817a" stroke-width="0.6"/><circle cx="250.7" cy="637.8" r="1.4" fill="#ffffff" opacity="0.55" filter="url(#blur1)"/>
<circle cx="238.2" cy="647.7" r="6.2" fill="url(#g3)" stroke="#8c8a88" stroke-width="0.6"/><circle cx="240.7" cy="645.2" r="1.4" fill="#ffffff" opacity="0.55" filter="url(#blur1)"/>
<circle cx="157.2" cy="647.7" r="6.2" fill="url(#g3)" stroke="#8c8a88" stroke-width="0.6"/><circle cx="159.6" cy="645.2" r="1.4" fill="#ffffff" opacity="0.55" filter="url(#blur1)"/>
<circle cx="189.0" cy="659.3" r="6.2" fill="url(#g6)" stroke="#8b817a" stroke-width="0.6"/><circle cx="191.5" cy="656.8" r="1.4" fill="#ffffff" opacity="0.55" filter="url(#blur1)"/>
<circle cx="117.5" cy="669.6" r="10.1" fill="url(#g8)" stroke="#8e644f" stroke-width="0.6"/><ellipse cx="121.7" cy="665.1" rx="3.0" ry="1.5" transform="rotate(45 121.7 665.1)" fill="#ffffff" opacity="0.85" filter="url(#blur1)"/>
<circle cx="249.7" cy="669.4" r="6.2" fill="url(#g6)" stroke="#8b817a" stroke-width="0.6"/><circle cx="252.1" cy="666.9" r="1.4" fill="#ffffff" opacity="0.55" filter="url(#blur1)"/>
<circle cx="177.3" cy="679.4" r="6.2" fill="url(#g6)" stroke="#8b817a" stroke-width="0.6"/><circle cx="179.8" cy="676.9" r="1.4" fill="#ffffff" opacity="0.55" filter="url(#blur1)"/>
<circle cx="129.1" cy="691.1" r="6.2" fill="url(#g3)" stroke="#8c8a88" stroke-width="0.6"/><circle cx="131.6" cy="688.6" r="1.4" fill="#ffffff" opacity="0.55" filter="url(#blur1)"/>
<circle cx="209.9" cy="690.7" r="6.2" fill="url(#g3)" stroke="#8c8a88" stroke-width="0.6"/><circle cx="212.4" cy="688.2" r="1.4" fill="#ffffff" opacity="0.55" filter="url(#blur1)"/>
<circle cx="32.5" cy="516.0" r="6.2" fill="url(#g6)" stroke="#8b817a" stroke-width="0.6"/><circle cx="35.0" cy="513.5" r="1.4" fill="#ffffff" opacity="0.55" filter="url(#blur1)"/>
<circle cx="39.8" cy="504.7" r="6.2" fill="url(#g3)" stroke="#8c8a88" stroke-width="0.6"/><circle cx="42.3" cy="502.2" r="1.4" fill="#ffffff" opacity="0.55" filter="url(#blur1)"/>
<line x1="48.1" y1="491.9" x2="35.1" y2="511.5" stroke="#2a959c" stroke-width="0.9"/>
<circle cx="21.1" cy="532.7" r="19.0" fill="url(#g7)" stroke="#8c8b8b" stroke-width="0.6"/><ellipse cx="29.1" cy="524.2" rx="5.7" ry="2.9" transform="rotate(45 29.1 524.2)" fill="#ffffff" opacity="0.85" filter="url(#blur1)"/>
<circle cx="322.2" cy="514.9" r="6.2" fill="url(#g6)" stroke="#8b817a" stroke-width="0.6"/><circle cx="324.7" cy="512.4" r="1.4" fill="#ffffff" opacity="0.55" filter="url(#blur1)"/>
<circle cx="329.8" cy="504.3" r="6.2" fill="url(#g3)" stroke="#8c8a88" stroke-width="0.6"/><circle cx="332.3" cy="501.8" r="1.4" fill="#ffffff" opacity="0.55" filter="url(#blur1)"/>
<line x1="338.5" y1="491.9" x2="325.7" y2="511.7" stroke="#2a959c" stroke-width="0.9"/>
<circle cx="312.1" cy="532.7" r="19.0" fill="url(#g7)" stroke="#8c8b8b" stroke-width="0.6"/><ellipse cx="320.1" cy="524.2" rx="5.7" ry="2.9" transform="rotate(45 320.1 524.2)" fill="#ffffff" opacity="0.85" filter="url(#blur1)"/>
<circle cx="35.0" cy="674.3" r="6.2" fill="url(#g6)" stroke="#8b817a" stroke-width="0.6"/><circle cx="37.5" cy="671.8" r="1.4" fill="#ffffff" opacity="0.55" filter="url(#blur1)"/>
<circle cx="42.6" cy="663.7" r="6.2" fill="url(#g3)" stroke="#8c8a88" stroke-width="0.6"/><circle cx="45.1" cy="661.2" r="1.4" fill="#ffffff" opacity="0.55" filter="url(#blur1)"/>
<line x1="50.4" y1="651.3" x2="37.4" y2="670.9" stroke="#2a959c" stroke-width="0.9"/>
<circle cx="23.6" cy="691.8" r="19.0" fill="url(#g7)" stroke="#8c8b8b" stroke-width="0.6"/><ellipse cx="31.6" cy="683.2" rx="5.7" ry="2.9" transform="rotate(45 31.6 683.2)" fill="#ffffff" opacity="0.85" filter="url(#blur1)"/>
<circle cx="325.5" cy="673.7" r="6.2" fill="url(#g3)" stroke="#8c8a88" stroke-width="0.6"/><circle cx="327.9" cy="671.2" r="1.4" fill="#ffffff" opacity="0.55" filter="url(#blur1)"/>
<circle cx="332.8" cy="663.4" r="6.2" fill="url(#g3)" stroke="#8c8a88" stroke-width="0.6"/><circle cx="335.2" cy="660.9" r="1.4" fill="#ffffff" opacity="0.55" filter="url(#blur1)"/>
<line x1="340.9" y1="651.5" x2="328.0" y2="671.2" stroke="#2a959c" stroke-width="0.9"/>
<circle cx="314.3" cy="692.0" r="19.0" fill="url(#g7)" stroke="#8c8b8b" stroke-width="0.6"/><ellipse cx="322.3" cy="683.5" rx="5.7" ry="2.9" transform="rotate(45 322.3 683.5)" fill="#ffffff" opacity="0.85" filter="url(#blur1)"/>
<circle cx="114.9" cy="510.7" r="13.6" fill="none" stroke="#1a1a1a" stroke-width="1.25" stroke-dasharray="5.2,5.4"/>
<circle cx="275.3" cy="568.4" r="13.6" fill="none" stroke="#1a1a1a" stroke-width="1.25" stroke-dasharray="5.2,5.4"/>
<circle cx="247.0" cy="611.5" r="13.6" fill="none" stroke="#1a1a1a" stroke-width="1.25" stroke-dasharray="5.2,5.4"/>
<circle cx="117.5" cy="669.6" r="13.6" fill="none" stroke="#1a1a1a" stroke-width="1.25" stroke-dasharray="5.2,5.4"/>
<path d="M438.3,489.0 L727.5,489.0 L728.9,648.6 L439.8,648.6 Z" fill="none" stroke="#62e2e8" stroke-width="1.25"/>
<path d="M409.4,532.4 L698.5,532.4 L700.6,692.2 L410.9,692.2 Z" fill="none" stroke="#62e2e8" stroke-width="1.25"/>
<circle cx="440.1" cy="489.0" r="19.0" fill="url(#g2)" stroke="#8b8079" stroke-width="0.6"/><ellipse cx="448.1" cy="480.4" rx="5.7" ry="2.9" transform="rotate(45 448.1 480.4)" fill="#ffffff" opacity="0.85" filter="url(#blur1)"/>
<circle cx="726.9" cy="489.0" r="19.0" fill="url(#g2)" stroke="#8b8079" stroke-width="0.6"/><ellipse cx="734.9" cy="480.4" rx="5.7" ry="2.9" transform="rotate(45 734.9 480.4)" fill="#ffffff" opacity="0.85" filter="url(#blur1)"/>
<circle cx="442.5" cy="648.6" r="19.0" fill="url(#g2)" stroke="#8b8079" stroke-width="0.6"/><ellipse cx="450.5" cy="640.1" rx="5.7" ry="2.9" transform="rotate(45 450.5 640.1)" fill="#ffffff" opacity="0.85" filter="url(#blur1)"/>
<circle cx="729.2" cy="648.6" r="19.0" fill="url(#g2)" stroke="#8b8079" stroke-width="0.6"/><ellipse cx="737.2" cy="640.1" rx="5.7" ry="2.9" transform="rotate(45 737.2 640.1)" fill="#ffffff" opacity="0.85" filter="url(#blur1)"/>
<circle cx="540.9" cy="489.0" r="6.2" fill="url(#g3)" stroke="#8c8a88" stroke-width="0.6"/><circle cx="543.4" cy="486.5" r="1.4" fill="#ffffff" opacity="0.55" filter="url(#blur1)"/>
<circle cx="620.9" cy="488.6" r="6.2" fill="url(#g3)" stroke="#8c8a88" stroke-width="0.6"/><circle cx="623.4" cy="486.1" r="1.4" fill="#ffffff" opacity="0.55" filter="url(#blur1)"/>
<circle cx="573.4" cy="500.7" r="6.2" fill="url(#g6)" stroke="#8b817a" stroke-width="0.6"/><circle cx="575.9" cy="498.2" r="1.4" fill="#ffffff" opacity="0.55" filter="url(#blur1)"/>
<circle cx="501.9" cy="510.7" r="10.1" fill="url(#g9)" stroke="#8c4a31" stroke-width="0.6"/><ellipse cx="506.1" cy="506.2" rx="3.0" ry="1.5" transform="rotate(45 506.1 506.2)" fill="#ffffff" opacity="0.85" filter="url(#blur1)"/>
<circle cx="632.2" cy="510.3" r="6.2" fill="url(#g6)" stroke="#8b817a" stroke-width="0.6"/><circle cx="634.7" cy="507.8" r="1.4" fill="#ffffff" opacity="0.55" filter="url(#blur1)"/>
<circle cx="560.7" cy="520.5" r="6.2" fill="url(#g6)" stroke="#8b817a" stroke-width="0.6"/><circle cx="563.2" cy="518.0" r="1.4" fill="#ffffff" opacity="0.55" filter="url(#blur1)"/>
<circle cx="503.2" cy="539.6" r="6.2" fill="url(#g6)" stroke="#8b817a" stroke-width="0.6"/><circle cx="505.7" cy="537.1" r="1.4" fill="#ffffff" opacity="0.55" filter="url(#blur1)"/>
<circle cx="513.2" cy="532.0" r="6.2" fill="url(#g3)" stroke="#8c8a88" stroke-width="0.6"/><circle cx="515.7" cy="529.5" r="1.4" fill="#ffffff" opacity="0.55" filter="url(#blur1)"/>
<circle cx="593.2" cy="532.0" r="6.2" fill="url(#g3)" stroke="#8c8a88" stroke-width="0.6"/><circle cx="595.7" cy="529.5" r="1.4" fill="#ffffff" opacity="0.55" filter="url(#blur1)"/>
<circle cx="646.4" cy="539.4" r="6.2" fill="url(#g6)" stroke="#8b817a" stroke-width="0.6"/><circle cx="648.9" cy="536.9" r="1.4" fill="#ffffff" opacity="0.55" filter="url(#blur1)"/>
<circle cx="489.0" cy="561.0" r="6.2" fill="url(#g6)" stroke="#8b817a" stroke-width="0.6"/><circle cx="491.5" cy="558.5" r="1.4" fill="#ffffff" opacity="0.55" filter="url(#blur1)"/>
<circle cx="504.5" cy="568.6" r="6.2" fill="url(#g6)" stroke="#8b817a" stroke-width="0.6"/><circle cx="507.0" cy="566.1" r="1.4" fill="#ffffff" opacity="0.55" filter="url(#blur1)"/>
<circle cx="632.5" cy="560.9" r="6.2" fill="url(#g6)" stroke="#8b817a" stroke-width="0.6"/><circle cx="635.0" cy="558.4" r="1.4" fill="#ffffff" opacity="0.55" filter="url(#blur1)"/>
<circle cx="660.4" cy="568.4" r="10.1" fill="url(#g9)" stroke="#8c4a31" stroke-width="0.6"/><ellipse cx="664.6" cy="563.9" rx="3.0" ry="1.5" transform="rotate(45 664.6 563.9)" fill="#ffffff" opacity="0.85" filter="url(#blur1)"/>
<circle cx="578.9" cy="573.3" r="6.2" fill="url(#g3)" stroke="#8c8a88" stroke-width="0.6"/><circle cx="581.4" cy="570.8" r="1.4" fill="#ffffff" opacity="0.55" filter="url(#blur1)"/>
<circle cx="570.6" cy="590.4" r="19.0" fill="url(#g2)" stroke="#8b8079" stroke-width="0.6"/><ellipse cx="578.6" cy="581.9" rx="5.7" ry="2.9" transform="rotate(45 578.6 581.9)" fill="#ffffff" opacity="0.85" filter="url(#blur1)"/>
<circle cx="558.5" cy="605.7" r="6.2" fill="url(#g3)" stroke="#8c8a88" stroke-width="0.6"/><circle cx="561.0" cy="603.2" r="1.4" fill="#ffffff" opacity="0.55" filter="url(#blur1)"/>
<circle cx="432.8" cy="578.6" r="6.2" fill="url(#g6)" stroke="#8b817a" stroke-width="0.6"/><circle cx="435.3" cy="576.1" r="1.4" fill="#ffffff" opacity="0.55" filter="url(#blur1)"/>
<circle cx="719.4" cy="578.0" r="6.2" fill="url(#g6)" stroke="#8b817a" stroke-width="0.6"/><circle cx="721.9" cy="575.5" r="1.4" fill="#ffffff" opacity="0.55" filter="url(#blur1)"/>
<circle cx="465.1" cy="590.2" r="6.2" fill="url(#g3)" stroke="#8c8a88" stroke-width="0.6"/><circle cx="467.6" cy="587.7" r="1.4" fill="#ffffff" opacity="0.55" filter="url(#blur1)"/>
<circle cx="671.9" cy="589.9" r="6.2" fill="url(#g3)" stroke="#8c8a88" stroke-width="0.6"/><circle cx="674.4" cy="587.4" r="1.4" fill="#ffffff" opacity="0.55" filter="url(#blur1)"/>
<circle cx="417.7" cy="602.0" r="6.2" fill="url(#g6)" stroke="#8b817a" stroke-width="0.6"/><circle cx="420.2" cy="599.5" r="1.4" fill="#ffffff" opacity="0.55" filter="url(#blur1)"/>
<circle cx="704.3" cy="601.5" r="6.2" fill="url(#g6)" stroke="#8b817a" stroke-width="0.6"/><circle cx="706.8" cy="599.0" r="1.4" fill="#ffffff" opacity="0.55" filter="url(#blur1)"/>
<circle cx="477.2" cy="611.8" r="6.2" fill="url(#g6)" stroke="#8b817a" stroke-width="0.6"/><circle cx="479.7" cy="609.3" r="1.4" fill="#ffffff" opacity="0.55" filter="url(#blur1)"/>
<circle cx="504.5" cy="619.0" r="6.2" fill="url(#g6)" stroke="#8b817a" stroke-width="0.6"/><circle cx="507.0" cy="616.5" r="1.4" fill="#ffffff" opacity="0.55" filter="url(#blur1)"/>
<circle cx="632.5" cy="611.5" r="10.1" fill="url(#g9)" stroke="#8c4a31" stroke-width="0.6"/><ellipse cx="636.7" cy="607.0" rx="3.0" ry="1.5" transform="rotate(45 636.7 607.0)" fill="#ffffff" opacity="0.85" filter="url(#blur1)"/>
<circle cx="647.6" cy="618.6" r="6.2" fill="url(#g6)" stroke="#8b817a" stroke-width="0.6"/><circle cx="650.1" cy="616.1" r="1.4" fill="#ffffff" opacity="0.55" filter="url(#blur1)"/>
<circle cx="490.5" cy="640.6" r="6.2" fill="url(#g6)" stroke="#8b817a" stroke-width="0.6"/><circle cx="493.0" cy="638.1" r="1.4" fill="#ffffff" opacity="0.55" filter="url(#blur1)"/>
<circle cx="633.7" cy="640.3" r="6.2" fill="url(#g6)" stroke="#8b817a" stroke-width="0.6"/><circle cx="636.2" cy="637.8" r="1.4" fill="#ffffff" opacity="0.55" filter="url(#blur1)"/>
<circle cx="623.8" cy="647.7" r="6.2" fill="url(#g3)" stroke="#8c8a88" stroke-width="0.6"/><circle cx="626.3" cy="645.2" r="1.4" fill="#ffffff" opacity="0.55" filter="url(#blur1)"/>
<circle cx="543.7" cy="647.7" r="6.2" fill="url(#g3)" stroke="#8c8a88" stroke-width="0.6"/><circle cx="546.2" cy="645.2" r="1.4" fill="#ffffff" opacity="0.55" filter="url(#blur1)"/>
<circle cx="575.2" cy="659.3" r="6.2" fill="url(#g6)" stroke="#8b817a" stroke-width="0.6"/><circle cx="577.7" cy="656.8" r="1.4" fill="#ffffff" opacity="0.55" filter="url(#blur1)"/>
<circle cx="504.5" cy="669.6" r="10.1" fill="url(#g9)" stroke="#8c4a31" stroke-width="0.6"/><ellipse cx="508.7" cy="665.1" rx="3.0" ry="1.5" transform="rotate(45 508.7 665.1)" fill="#ffffff" opacity="0.85" filter="url(#blur1)"/>
<circle cx="635.1" cy="669.4" r="6.2" fill="url(#g6)" stroke="#8b817a" stroke-width="0.6"/><circle cx="637.6" cy="666.9" r="1.4" fill="#ffffff" opacity="0.55" filter="url(#blur1)"/>
<circle cx="563.6" cy="679.4" r="6.2" fill="url(#g6)" stroke="#8b817a" stroke-width="0.6"/><circle cx="566.1" cy="676.9" r="1.4" fill="#ffffff" opacity="0.55" filter="url(#blur1)"/>
<circle cx="516.0" cy="691.1" r="6.2" fill="url(#g3)" stroke="#8c8a88" stroke-width="0.6"/><circle cx="518.5" cy="688.6" r="1.4" fill="#ffffff" opacity="0.55" filter="url(#blur1)"/>
<circle cx="595.8" cy="690.7" r="6.2" fill="url(#g3)" stroke="#8c8a88" stroke-width="0.6"/><circle cx="598.3" cy="688.2" r="1.4" fill="#ffffff" opacity="0.55" filter="url(#blur1)"/>
<circle cx="420.5" cy="516.0" r="6.2" fill="url(#g3)" stroke="#8c8a88" stroke-width="0.6"/><circle cx="423.0" cy="513.5" r="1.4" fill="#ffffff" opacity="0.55" filter="url(#blur1)"/>
<circle cx="427.7" cy="504.7" r="6.2" fill="url(#g3)" stroke="#8c8a88" stroke-width="0.6"/><circle cx="430.2" cy="502.2" r="1.4" fill="#ffffff" opacity="0.55" filter="url(#blur1)"/>
<line x1="438.2" y1="491.9" x2="425.2" y2="511.5" stroke="#2a959c" stroke-width="0.9"/>
<circle cx="411.4" cy="532.4" r="19.0" fill="url(#g2)" stroke="#8b8079" stroke-width="0.6"/><ellipse cx="419.4" cy="523.9" rx="5.7" ry="2.9" transform="rotate(45 419.4 523.9)" fill="#ffffff" opacity="0.85" filter="url(#blur1)"/>
<circle cx="706.8" cy="514.9" r="6.2" fill="url(#g3)" stroke="#8c8a88" stroke-width="0.6"/><circle cx="709.3" cy="512.4" r="1.4" fill="#ffffff" opacity="0.55" filter="url(#blur1)"/>
<circle cx="714.3" cy="504.3" r="6.2" fill="url(#g3)" stroke="#8c8a88" stroke-width="0.6"/><circle cx="716.8" cy="501.8" r="1.4" fill="#ffffff" opacity="0.55" filter="url(#blur1)"/>
<line x1="725.0" y1="491.9" x2="711.9" y2="511.5" stroke="#2a959c" stroke-width="0.9"/>
<circle cx="698.0" cy="532.4" r="19.0" fill="url(#g2)" stroke="#8b8079" stroke-width="0.6"/><ellipse cx="706.0" cy="523.9" rx="5.7" ry="2.9" transform="rotate(45 706.0 523.9)" fill="#ffffff" opacity="0.85" filter="url(#blur1)"/>
<circle cx="423.0" cy="674.3" r="6.2" fill="url(#g3)" stroke="#8c8a88" stroke-width="0.6"/><circle cx="425.5" cy="671.8" r="1.4" fill="#ffffff" opacity="0.55" filter="url(#blur1)"/>
<circle cx="430.5" cy="663.7" r="6.2" fill="url(#g3)" stroke="#8c8a88" stroke-width="0.6"/><circle cx="433.0" cy="661.2" r="1.4" fill="#ffffff" opacity="0.55" filter="url(#blur1)"/>
<line x1="440.6" y1="651.5" x2="427.6" y2="671.1" stroke="#2a959c" stroke-width="0.9"/>
<circle cx="413.7" cy="692.0" r="19.0" fill="url(#g2)" stroke="#8b8079" stroke-width="0.6"/><ellipse cx="421.7" cy="683.5" rx="5.7" ry="2.9" transform="rotate(45 421.7 683.5)" fill="#ffffff" opacity="0.85" filter="url(#blur1)"/>
<circle cx="710.0" cy="673.7" r="6.2" fill="url(#g3)" stroke="#8c8a88" stroke-width="0.6"/><circle cx="712.5" cy="671.2" r="1.4" fill="#ffffff" opacity="0.55" filter="url(#blur1)"/>
<circle cx="717.2" cy="663.4" r="6.2" fill="url(#g3)" stroke="#8c8a88" stroke-width="0.6"/><circle cx="719.7" cy="660.9" r="1.4" fill="#ffffff" opacity="0.55" filter="url(#blur1)"/>
<line x1="727.3" y1="651.5" x2="714.3" y2="671.1" stroke="#2a959c" stroke-width="0.9"/>
<circle cx="700.5" cy="692.0" r="19.0" fill="url(#g2)" stroke="#8b8079" stroke-width="0.6"/><ellipse cx="708.5" cy="683.5" rx="5.7" ry="2.9" transform="rotate(45 708.5 683.5)" fill="#ffffff" opacity="0.85" filter="url(#blur1)"/>
<circle cx="501.9" cy="510.7" r="13.6" fill="none" stroke="#1a1a1a" stroke-width="1.25" stroke-dasharray="5.2,5.4"/>
<circle cx="660.4" cy="568.4" r="13.6" fill="none" stroke="#1a1a1a" stroke-width="1.25" stroke-dasharray="5.2,5.4"/>
<circle cx="632.5" cy="611.5" r="13.6" fill="none" stroke="#1a1a1a" stroke-width="1.25" stroke-dasharray="5.2,5.4"/>
<circle cx="504.5" cy="669.6" r="13.6" fill="none" stroke="#1a1a1a" stroke-width="1.25" stroke-dasharray="5.2,5.4"/>
<text x="484.0" y="208.5" text-anchor="end" class="cm" font-size="16">Mo</text>
<text x="644.0" y="268.0" text-anchor="end" class="cm" font-size="16">Mo</text>
<text x="616.0" y="313.6" text-anchor="end" class="cm" font-size="16">Mo</text>
<text x="485.9" y="368.1" text-anchor="end" class="cm" font-size="16">Mo</text>
<text x="96.6" y="524.8" text-anchor="end" class="cm" font-size="16">Co</text>
<text x="258.8" y="583.0" text-anchor="end" class="cm" font-size="16">Co</text>
<text x="229.4" y="628.0" text-anchor="end" class="cm" font-size="16">Co</text>
<text x="101.0" y="684.2" text-anchor="end" class="cm" font-size="16">Co</text>
<text x="484.0" y="524.8" text-anchor="end" class="cm" font-size="16">Al</text>
<text x="643.9" y="583.0" text-anchor="end" class="cm" font-size="16">Al</text>
<text x="613.1" y="624.6" text-anchor="end" class="cm" font-size="16">Al</text>
<text x="483.1" y="683.1" text-anchor="end" class="cm" font-size="16">Al</text>
<circle cx="510.3" cy="122.6" r="19.1" fill="url(#g10)" stroke="#8a8a8a" stroke-width="0.6"/><ellipse cx="502.3" cy="114.0" rx="5.7" ry="2.9" transform="rotate(-45 502.3 114.0)" fill="#ffffff" opacity="0.85" filter="url(#blur1)"/><circle cx="582.6" cy="122.6" r="9.4" fill="url(#g10)" stroke="#8a8a8a" stroke-width="0.6"/><ellipse cx="578.7" cy="118.4" rx="2.8" ry="1.4" transform="rotate(-45 578.7 118.4)" fill="#ffffff" opacity="0.85" filter="url(#blur1)"/><circle cx="636.0" cy="122.6" r="6.1" fill="url(#g10)" stroke="#8a8a8a" stroke-width="0.6"/><circle cx="633.6" cy="120.2" r="1.3" fill="#ffffff" opacity="0.55" filter="url(#blur1)"/>
<!-- captions -->
<text x="55.6" y="417.0" class="cm" font-size="20" textLength="60.3" lengthAdjust="spacingAndGlyphs">SmFe<tspan font-size="14" dy="4">12</tspan><tspan dy="-4"></tspan></text><text x="126.0" y="417.0" class="cm" font-size="20" textLength="195.8" lengthAdjust="spacingAndGlyphs">(ΔE = 0.07 eV atom<tspan font-size="13" dy="-8">-1</tspan><tspan dy="8">)</tspan></text>
<text x="428.5" y="417.3" class="cm" font-size="20" textLength="88.4" lengthAdjust="spacingAndGlyphs">SmFe<tspan font-size="14" dy="4">11</tspan><tspan dy="-4">Mo</tspan></text><text x="524.0" y="417.3" class="cm" font-size="20" textLength="196.6" lengthAdjust="spacingAndGlyphs">(ΔE = 0.08 eV atom<tspan font-size="13" dy="-8">-1</tspan><tspan dy="8">)</tspan></text>
<text x="41.1" y="733.8" class="cm" font-size="20" textLength="84.1" lengthAdjust="spacingAndGlyphs">SmFe<tspan font-size="14" dy="4">11</tspan><tspan dy="-4">Co</tspan></text><text x="137.6" y="733.8" class="cm" font-size="20" textLength="195.1" lengthAdjust="spacingAndGlyphs">(ΔE = 0.04 eV atom<tspan font-size="13" dy="-8">-1</tspan><tspan dy="8">)</tspan></text>
<text x="423.1" y="734.4" class="cm" font-size="20" textLength="78.8" lengthAdjust="spacingAndGlyphs">SmFe<tspan font-size="14" dy="4">11</tspan><tspan dy="-4">Al</tspan></text><text x="512.5" y="734.4" class="cm" font-size="20" textLength="213.2" lengthAdjust="spacingAndGlyphs">(ΔE = -0.008 eV atom<tspan font-size="13" dy="-8">-1</tspan><tspan dy="8">)</tspan></text>
<path d="M911.4,146.5 C913.0,146.2 917.5,145.6 921.0,144.9 C924.5,144.2 928.4,143.6 932.1,142.4 C935.8,141.2 939.4,139.3 943.1,137.6 C946.8,135.8 950.5,134.1 954.2,131.9 C957.9,129.8 961.5,127.2 965.2,124.7 C968.9,122.2 972.6,119.6 976.3,117.0 C980.0,114.4 983.6,111.9 987.3,109.2 C991.0,106.5 994.7,103.7 998.4,100.9 C1002.1,98.2 1005.7,95.3 1009.4,92.7 C1013.1,90.1 1016.8,87.5 1020.5,85.5 C1024.2,83.5 1027.8,81.8 1031.5,80.5 C1035.2,79.2 1039.6,78.5 1042.6,78.0 C1045.6,77.5 1047.2,77.7 1049.4,77.8 C1051.6,77.9 1053.0,77.9 1056.0,78.8 C1059.0,79.7 1063.4,81.2 1067.1,83.0 C1070.8,84.8 1074.4,87.5 1078.1,89.9 C1081.8,92.3 1085.5,95.0 1089.2,97.6 C1092.9,100.2 1096.5,102.9 1100.2,105.4 C1103.9,107.9 1107.6,110.5 1111.3,112.5 C1115.0,114.5 1118.6,116.1 1122.3,117.5 C1126.0,118.9 1129.7,120.1 1133.4,121.0 C1137.1,121.9 1140.7,122.6 1144.4,122.8 C1148.1,123.0 1151.8,122.8 1155.5,122.2 C1159.2,121.6 1162.8,120.8 1166.5,119.2 C1170.2,117.6 1174.1,115.1 1177.6,112.5 C1181.0,109.9 1184.4,106.5 1187.2,103.4 C1190.0,100.3 1192.0,97.2 1194.4,94.0 C1196.8,90.8 1199.2,87.3 1201.6,83.9 C1204.0,80.5 1206.4,76.9 1208.8,73.8 C1211.2,70.7 1213.7,67.6 1216.1,65.2 C1218.5,62.8 1220.9,61.0 1223.3,59.4 C1225.7,57.8 1228.1,56.7 1230.5,55.8 C1232.9,54.9 1235.3,54.3 1237.7,53.9 C1240.1,53.5 1242.5,53.4 1244.9,53.4 C1247.3,53.4 1249.7,53.4 1252.1,53.9 C1254.5,54.4 1256.9,55.3 1259.3,56.3 C1261.7,57.3 1264.1,58.6 1266.5,60.1 C1268.9,61.6 1271.4,63.4 1273.8,65.2 C1276.2,67.0 1278.6,69.1 1281.0,71.0 C1283.4,72.9 1285.8,74.9 1288.2,76.7 C1290.6,78.5 1292.4,79.8 1295.4,82.0 C1298.4,84.2 1302.4,87.1 1306.0,89.9 C1309.6,92.7 1313.4,95.9 1317.1,98.9 C1320.8,101.9 1324.4,105.1 1328.1,108.1 C1331.8,111.1 1335.5,114.2 1339.2,117.0 C1342.9,119.8 1346.5,122.5 1350.2,125.2 C1353.9,127.9 1357.6,130.8 1361.3,133.0 C1365.0,135.2 1368.6,137.1 1372.3,138.7 C1376.0,140.3 1379.7,141.7 1383.4,142.7 C1387.1,143.7 1391.1,144.3 1394.4,144.9 C1397.7,145.5 1401.6,145.8 1403.0,146.0" fill="none" stroke="#a0a0a0" stroke-width="1.9" stroke-linejoin="round" stroke-linecap="butt"/>
<path d="M911.4,148.2 C913.0,148.0 917.5,147.5 921.0,146.8 C924.5,146.2 928.4,145.4 932.1,144.3 C935.8,143.2 939.4,141.8 943.1,140.2 C946.8,138.6 950.5,137.0 954.2,135.0 C957.9,133.0 961.5,130.4 965.2,128.0 C968.9,125.5 972.6,122.9 976.3,120.3 C980.0,117.7 983.6,115.2 987.3,112.5 C991.0,109.8 994.7,107.0 998.4,104.3 C1002.1,101.5 1005.7,98.6 1009.4,96.0 C1013.1,93.4 1016.8,91.0 1020.5,88.8 C1024.2,86.6 1027.8,84.4 1031.5,83.0 C1035.2,81.6 1039.6,80.7 1042.6,80.2 C1045.6,79.7 1047.2,79.7 1049.4,79.8 C1051.6,79.9 1053.0,79.8 1056.0,80.8 C1059.0,81.8 1063.4,83.8 1067.1,86.0 C1070.8,88.2 1074.4,90.8 1078.1,93.8 C1081.8,96.8 1085.5,100.4 1089.2,103.7 C1092.9,107.0 1096.5,110.8 1100.2,113.6 C1103.9,116.4 1107.6,118.8 1111.3,120.8 C1115.0,122.8 1118.6,124.2 1122.3,125.8 C1126.0,127.4 1129.7,128.7 1133.4,130.2 C1137.1,131.7 1140.7,133.2 1144.4,134.6 C1148.1,136.0 1151.8,137.3 1155.5,138.5 C1159.2,139.7 1162.8,141.0 1166.5,142.0 C1170.2,143.0 1172.9,143.5 1177.6,144.3 C1182.2,145.1 1189.2,146.1 1194.4,146.7 C1199.6,147.3 1201.6,147.5 1208.8,147.8 C1216.0,148.1 1223.8,148.4 1237.7,148.6 C1251.7,148.8 1283.4,148.8 1292.5,148.9 L1292.5,149.6 L911.4,149.6 Z" fill="#0000ff" fill-opacity="0.4" stroke="none"/>
<path d="M1063.2,149.3 C1065.7,149.2 1073.8,149.0 1078.1,148.7 C1082.4,148.4 1085.5,148.0 1089.2,147.6 C1092.9,147.2 1096.5,146.6 1100.2,146.2 C1103.9,145.8 1107.6,145.3 1111.3,144.9 C1115.0,144.5 1118.6,144.1 1122.3,143.8 C1126.0,143.5 1129.7,143.2 1133.4,142.9 C1137.1,142.6 1140.7,142.2 1144.4,141.8 C1148.1,141.4 1152.7,140.6 1155.5,140.2 C1158.3,139.8 1159.2,139.6 1161.0,139.1 C1162.8,138.6 1164.7,137.8 1166.5,136.9 C1168.3,136.0 1170.2,134.9 1172.1,133.5 C1173.9,132.1 1175.1,131.1 1177.6,128.6 C1180.1,126.1 1184.4,122.2 1187.2,118.6 C1190.0,115.0 1192.0,111.0 1194.4,107.0 C1196.8,103.0 1199.2,98.8 1201.6,94.8 C1204.0,90.8 1206.4,86.9 1208.8,83.2 C1211.2,79.5 1213.7,75.6 1216.1,72.4 C1218.5,69.2 1220.9,66.2 1223.3,63.8 C1225.7,61.3 1228.1,59.3 1230.5,57.7 C1232.9,56.1 1235.5,55.1 1237.7,54.4 C1239.9,53.7 1241.1,53.5 1243.5,53.7 C1245.9,53.9 1249.5,54.7 1252.1,55.8 C1254.7,56.9 1256.9,58.4 1259.3,60.1 C1261.7,61.8 1264.1,63.9 1266.5,65.9 C1268.9,68.0 1271.4,70.2 1273.8,72.4 C1276.2,74.6 1278.6,76.9 1281.0,78.9 C1283.4,81.0 1285.8,83.0 1288.2,84.7 C1290.6,86.4 1292.2,87.2 1295.2,89.0 C1298.2,90.8 1302.3,93.1 1306.0,95.4 C1309.7,97.8 1313.4,100.3 1317.1,103.1 C1320.8,105.9 1324.4,109.0 1328.1,112.0 C1331.8,115.0 1335.5,117.8 1339.2,120.8 C1342.9,123.8 1346.5,127.0 1350.2,129.7 C1353.9,132.4 1357.6,134.8 1361.3,136.8 C1365.0,138.8 1368.6,140.4 1372.3,141.8 C1376.0,143.2 1379.7,144.4 1383.4,145.3 C1387.1,146.2 1391.1,146.9 1394.4,147.3 C1397.7,147.8 1401.6,147.9 1403.0,148.0 L1403.0,149.6 L1063.2,149.6 Z" fill="#ff0000" fill-opacity="0.4" stroke="none"/>
<path d="M911.4,148.2 C913.0,148.0 917.5,147.5 921.0,146.8 C924.5,146.2 928.4,145.4 932.1,144.3 C935.8,143.2 939.4,141.8 943.1,140.2 C946.8,138.6 950.5,137.0 954.2,135.0 C957.9,133.0 961.5,130.4 965.2,128.0 C968.9,125.5 972.6,122.9 976.3,120.3 C980.0,117.7 983.6,115.2 987.3,112.5 C991.0,109.8 994.7,107.0 998.4,104.3 C1002.1,101.5 1005.7,98.6 1009.4,96.0 C1013.1,93.4 1016.8,91.0 1020.5,88.8 C1024.2,86.6 1027.8,84.4 1031.5,83.0 C1035.2,81.6 1039.6,80.7 1042.6,80.2 C1045.6,79.7 1047.2,79.7 1049.4,79.8 C1051.6,79.9 1053.0,79.8 1056.0,80.8 C1059.0,81.8 1063.4,83.8 1067.1,86.0 C1070.8,88.2 1074.4,90.8 1078.1,93.8 C1081.8,96.8 1085.5,100.4 1089.2,103.7 C1092.9,107.0 1096.5,110.8 1100.2,113.6 C1103.9,116.4 1107.6,118.8 1111.3,120.8 C1115.0,122.8 1118.6,124.2 1122.3,125.8 C1126.0,127.4 1129.7,128.7 1133.4,130.2 C1137.1,131.7 1140.7,133.2 1144.4,134.6 C1148.1,136.0 1151.8,137.3 1155.5,138.5 C1159.2,139.7 1162.8,141.0 1166.5,142.0 C1170.2,143.0 1172.9,143.5 1177.6,144.3 C1182.2,145.1 1189.2,146.1 1194.4,146.7 C1199.6,147.3 1201.6,147.5 1208.8,147.8 C1216.0,148.1 1223.8,148.4 1237.7,148.6 C1251.7,148.8 1283.4,148.8 1292.5,148.9" fill="none" stroke="#1010ff" stroke-width="1.9" stroke-linejoin="round" stroke-linecap="butt"/>
<path d="M1063.2,149.3 C1065.7,149.2 1073.8,149.0 1078.1,148.7 C1082.4,148.4 1085.5,148.0 1089.2,147.6 C1092.9,147.2 1096.5,146.6 1100.2,146.2 C1103.9,145.8 1107.6,145.3 1111.3,144.9 C1115.0,144.5 1118.6,144.1 1122.3,143.8 C1126.0,143.5 1129.7,143.2 1133.4,142.9 C1137.1,142.6 1140.7,142.2 1144.4,141.8 C1148.1,141.4 1152.7,140.6 1155.5,140.2 C1158.3,139.8 1159.2,139.6 1161.0,139.1 C1162.8,138.6 1164.7,137.8 1166.5,136.9 C1168.3,136.0 1170.2,134.9 1172.1,133.5 C1173.9,132.1 1175.1,131.1 1177.6,128.6 C1180.1,126.1 1184.4,122.2 1187.2,118.6 C1190.0,115.0 1192.0,111.0 1194.4,107.0 C1196.8,103.0 1199.2,98.8 1201.6,94.8 C1204.0,90.8 1206.4,86.9 1208.8,83.2 C1211.2,79.5 1213.7,75.6 1216.1,72.4 C1218.5,69.2 1220.9,66.2 1223.3,63.8 C1225.7,61.3 1228.1,59.3 1230.5,57.7 C1232.9,56.1 1235.5,55.1 1237.7,54.4 C1239.9,53.7 1241.1,53.5 1243.5,53.7 C1245.9,53.9 1249.5,54.7 1252.1,55.8 C1254.7,56.9 1256.9,58.4 1259.3,60.1 C1261.7,61.8 1264.1,63.9 1266.5,65.9 C1268.9,68.0 1271.4,70.2 1273.8,72.4 C1276.2,74.6 1278.6,76.9 1281.0,78.9 C1283.4,81.0 1285.8,83.0 1288.2,84.7 C1290.6,86.4 1292.2,87.2 1295.2,89.0 C1298.2,90.8 1302.3,93.1 1306.0,95.4 C1309.7,97.8 1313.4,100.3 1317.1,103.1 C1320.8,105.9 1324.4,109.0 1328.1,112.0 C1331.8,115.0 1335.5,117.8 1339.2,120.8 C1342.9,123.8 1346.5,127.0 1350.2,129.7 C1353.9,132.4 1357.6,134.8 1361.3,136.8 C1365.0,138.8 1368.6,140.4 1372.3,141.8 C1376.0,143.2 1379.7,144.4 1383.4,145.3 C1387.1,146.2 1391.1,146.9 1394.4,147.3 C1397.7,147.8 1401.6,147.9 1403.0,148.0" fill="none" stroke="#f41010" stroke-width="1.9" stroke-linejoin="round" stroke-linecap="butt"/>
<path d="M1410.4,154.4 C1410.8,155.7 1412.1,159.6 1412.9,162.4 C1413.7,165.2 1414.5,168.0 1415.4,171.1 C1416.3,174.2 1417.5,177.5 1418.5,181.0 C1419.5,184.5 1420.6,188.7 1421.6,192.2 C1422.6,195.7 1423.6,199.0 1424.7,202.1 C1425.8,205.2 1427.0,207.9 1428.4,210.8 C1429.9,213.7 1431.5,216.4 1433.4,219.5 C1435.3,222.6 1437.4,225.8 1439.6,229.4 C1441.8,233.0 1444.1,238.3 1446.3,241.2 C1448.5,244.1 1449.9,244.3 1452.6,246.7 C1455.3,249.1 1459.3,252.5 1462.6,255.4 C1465.9,258.3 1469.2,261.2 1472.5,264.1 C1475.8,267.0 1479.5,269.8 1482.4,272.7 C1485.3,275.6 1487.7,278.5 1489.8,281.4 C1491.9,284.3 1493.6,287.0 1494.8,290.1 C1496.0,293.2 1496.8,296.7 1497.0,300.0 C1497.2,303.3 1496.9,306.9 1496.1,310.0 C1495.3,313.1 1493.8,315.5 1492.3,318.6 C1490.8,321.7 1488.7,325.7 1487.0,328.6 C1485.3,331.5 1484.2,333.2 1482.4,335.9 C1480.6,338.6 1478.0,341.7 1476.2,344.6 C1474.4,347.5 1472.6,350.2 1471.6,353.3 C1470.6,356.4 1470.5,359.9 1470.4,363.2 C1470.3,366.5 1470.7,369.8 1471.2,373.1 C1471.8,376.4 1473.1,379.8 1473.7,383.1 C1474.3,386.4 1474.7,389.7 1474.7,393.0 C1474.8,396.3 1474.5,399.6 1474.0,402.9 C1473.5,406.2 1472.5,410.3 1471.9,412.8 C1471.3,415.3 1470.8,416.2 1470.2,418.1 C1469.6,420.0 1469.2,421.3 1468.4,423.9 C1467.6,426.5 1466.1,430.6 1465.3,433.9 C1464.5,437.2 1464.0,440.5 1463.8,443.8 C1463.6,447.1 1463.8,450.4 1464.0,453.7 C1464.2,457.0 1464.9,460.3 1465.2,463.6 C1465.5,466.9 1465.7,470.3 1465.6,473.6 C1465.5,476.9 1465.2,480.2 1464.6,483.5 C1464.0,486.8 1462.7,490.3 1462.1,493.4 C1461.5,496.5 1461.7,498.9 1460.9,502.0 C1460.1,505.1 1458.4,508.6 1457.1,511.9 C1455.8,515.2 1454.1,518.6 1452.8,521.9 C1451.5,525.2 1450.4,528.5 1449.5,531.8 C1448.6,535.1 1448.0,538.4 1447.5,541.7 C1447.0,545.0 1446.7,548.3 1446.2,551.6 C1445.7,554.9 1445.5,558.3 1444.7,561.6 C1443.9,564.9 1442.8,568.2 1441.6,571.5 C1440.4,574.8 1438.5,578.3 1437.3,581.4 C1436.1,584.5 1435.7,587.1 1434.2,590.0 C1432.8,592.9 1430.5,595.7 1428.6,598.7 C1426.7,601.7 1424.8,604.7 1423.0,608.0 C1421.2,611.3 1419.5,614.9 1418.1,618.5 C1416.7,622.1 1415.6,625.8 1414.7,629.7 C1413.8,633.6 1413.2,638.0 1412.5,642.1 C1411.8,646.2 1411.1,650.4 1410.6,654.5 C1410.1,658.6 1409.7,662.8 1409.4,666.9 C1409.1,671.0 1408.9,677.2 1408.8,679.3" fill="none" stroke="#a0a0a0" stroke-width="1.9" stroke-linejoin="round" stroke-linecap="butt"/>
<path d="M1409.2,154.4 C1409.6,155.7 1410.9,159.6 1411.7,162.4 C1412.5,165.2 1413.4,168.2 1414.2,171.1 C1415.0,174.0 1415.8,176.9 1416.6,179.8 C1417.4,182.7 1418.4,185.8 1419.1,188.5 C1419.8,191.2 1420.2,193.2 1420.6,195.9 C1421.0,198.6 1421.1,201.7 1421.4,204.6 C1421.7,207.5 1421.7,210.4 1422.2,213.3 C1422.8,216.2 1423.5,219.1 1424.7,222.0 C1426.0,224.9 1428.2,227.9 1429.7,230.6 C1431.2,233.3 1431.8,235.5 1434.0,238.0 C1436.2,240.5 1439.6,242.9 1442.7,245.4 C1445.8,247.9 1449.3,250.4 1452.6,252.9 C1455.9,255.4 1459.3,257.6 1462.6,260.3 C1465.9,263.0 1469.4,266.1 1472.5,269.0 C1475.6,271.9 1478.5,274.6 1481.2,277.7 C1483.9,280.8 1486.5,284.5 1488.6,287.6 C1490.7,290.7 1492.5,293.4 1493.6,296.3 C1494.7,299.2 1495.4,302.3 1495.4,305.0 C1495.4,307.7 1494.9,309.9 1493.6,312.4 C1492.3,314.9 1489.7,317.6 1487.4,319.9 C1485.1,322.2 1483.2,323.8 1479.9,326.0 C1476.6,328.2 1471.6,330.9 1467.5,333.4 C1463.4,335.9 1459.0,338.6 1455.1,340.9 C1451.2,343.2 1447.4,344.9 1443.9,347.1 C1440.4,349.3 1437.1,351.4 1434.0,353.9 C1430.9,356.4 1428.0,359.2 1425.3,362.0 C1422.6,364.8 1420.0,367.8 1417.9,370.7 C1415.8,373.6 1414.2,376.4 1412.9,379.3 C1411.7,382.2 1411.1,384.9 1410.4,388.0 C1409.8,391.1 1409.4,394.7 1409.0,398.0 C1408.6,401.3 1408.4,404.5 1408.2,407.9 C1408.0,411.2 1408.0,413.3 1407.9,418.1 C1407.8,422.9 1407.8,433.5 1407.8,436.6 L1407.5,436.6 L1407.5,154.4 Z" fill="#0000ff" fill-opacity="0.4" stroke="none"/>
<path d="M1407.6,227.2 C1407.6,229.0 1407.4,233.1 1407.4,238.0 C1407.4,242.9 1407.5,250.4 1407.7,256.6 C1407.9,262.8 1408.1,269.0 1408.6,275.2 C1409.0,281.4 1409.6,287.6 1410.4,293.8 C1411.2,300.0 1412.7,307.0 1413.5,312.4 C1414.3,317.8 1414.2,322.1 1415.4,326.0 C1416.6,329.9 1418.5,332.8 1420.4,335.9 C1422.3,339.0 1424.3,341.7 1426.6,344.6 C1428.9,347.5 1431.3,350.4 1434.0,353.3 C1436.7,356.2 1439.6,359.1 1442.7,362.0 C1445.8,364.9 1449.5,367.8 1452.6,370.7 C1455.7,373.6 1458.8,376.4 1461.3,379.3 C1463.8,382.2 1466.0,384.9 1467.5,388.0 C1469.0,391.1 1470.0,394.7 1470.4,398.0 C1470.8,401.3 1470.3,404.5 1470.0,407.9 C1469.7,411.2 1469.2,415.4 1468.7,418.1 C1468.2,420.8 1467.7,421.3 1466.9,423.9 C1466.1,426.5 1464.5,430.6 1463.8,433.9 C1463.1,437.2 1462.7,440.5 1462.6,443.8 C1462.5,447.1 1462.9,450.4 1463.2,453.7 C1463.5,457.0 1464.1,460.3 1464.4,463.6 C1464.7,466.9 1464.9,470.3 1464.8,473.6 C1464.7,476.9 1464.4,480.2 1463.8,483.5 C1463.2,486.8 1461.9,490.3 1461.3,493.4 C1460.7,496.5 1460.9,498.9 1460.1,502.0 C1459.3,505.1 1457.6,508.6 1456.3,511.9 C1455.0,515.2 1453.3,518.6 1452.0,521.9 C1450.7,525.2 1449.6,528.5 1448.7,531.8 C1447.8,535.1 1447.2,538.4 1446.7,541.7 C1446.2,545.0 1445.9,548.3 1445.4,551.6 C1444.9,554.9 1444.7,558.3 1443.9,561.6 C1443.1,564.9 1442.0,568.2 1440.8,571.5 C1439.6,574.8 1437.7,578.3 1436.5,581.4 C1435.3,584.5 1434.9,587.1 1433.4,590.0 C1432.0,592.9 1429.7,595.7 1427.8,598.7 C1425.9,601.7 1424.0,604.7 1422.2,608.0 C1420.5,611.3 1418.7,614.9 1417.3,618.5 C1415.9,622.1 1414.8,625.8 1413.9,629.7 C1413.0,633.6 1412.4,638.0 1411.7,642.1 C1411.0,646.2 1410.3,650.4 1409.8,654.5 C1409.3,658.6 1408.9,662.8 1408.6,666.9 C1408.3,671.0 1408.2,677.1 1408.0,679.3 C1407.8,681.5 1407.8,680.1 1407.7,680.3 L1407.5,680.3 L1407.5,227.2 Z" fill="#ff0000" fill-opacity="0.4" stroke="none"/>
<path d="M1409.2,154.4 C1409.6,155.7 1410.9,159.6 1411.7,162.4 C1412.5,165.2 1413.4,168.2 1414.2,171.1 C1415.0,174.0 1415.8,176.9 1416.6,179.8 C1417.4,182.7 1418.4,185.8 1419.1,188.5 C1419.8,191.2 1420.2,193.2 1420.6,195.9 C1421.0,198.6 1421.1,201.7 1421.4,204.6 C1421.7,207.5 1421.7,210.4 1422.2,213.3 C1422.8,216.2 1423.5,219.1 1424.7,222.0 C1426.0,224.9 1428.2,227.9 1429.7,230.6 C1431.2,233.3 1431.8,235.5 1434.0,238.0 C1436.2,240.5 1439.6,242.9 1442.7,245.4 C1445.8,247.9 1449.3,250.4 1452.6,252.9 C1455.9,255.4 1459.3,257.6 1462.6,260.3 C1465.9,263.0 1469.4,266.1 1472.5,269.0 C1475.6,271.9 1478.5,274.6 1481.2,277.7 C1483.9,280.8 1486.5,284.5 1488.6,287.6 C1490.7,290.7 1492.5,293.4 1493.6,296.3 C1494.7,299.2 1495.4,302.3 1495.4,305.0 C1495.4,307.7 1494.9,309.9 1493.6,312.4 C1492.3,314.9 1489.7,317.6 1487.4,319.9 C1485.1,322.2 1483.2,323.8 1479.9,326.0 C1476.6,328.2 1471.6,330.9 1467.5,333.4 C1463.4,335.9 1459.0,338.6 1455.1,340.9 C1451.2,343.2 1447.4,344.9 1443.9,347.1 C1440.4,349.3 1437.1,351.4 1434.0,353.9 C1430.9,356.4 1428.0,359.2 1425.3,362.0 C1422.6,364.8 1420.0,367.8 1417.9,370.7 C1415.8,373.6 1414.2,376.4 1412.9,379.3 C1411.7,382.2 1411.1,384.9 1410.4,388.0 C1409.8,391.1 1409.4,394.7 1409.0,398.0 C1408.6,401.3 1408.4,404.5 1408.2,407.9 C1408.0,411.2 1408.0,413.3 1407.9,418.1 C1407.8,422.9 1407.8,433.5 1407.8,436.6" fill="none" stroke="#1010ff" stroke-width="1.9" stroke-linejoin="round" stroke-linecap="butt"/>
<path d="M1407.6,227.2 C1407.6,229.0 1407.4,233.1 1407.4,238.0 C1407.4,242.9 1407.5,250.4 1407.7,256.6 C1407.9,262.8 1408.1,269.0 1408.6,275.2 C1409.0,281.4 1409.6,287.6 1410.4,293.8 C1411.2,300.0 1412.7,307.0 1413.5,312.4 C1414.3,317.8 1414.2,322.1 1415.4,326.0 C1416.6,329.9 1418.5,332.8 1420.4,335.9 C1422.3,339.0 1424.3,341.7 1426.6,344.6 C1428.9,347.5 1431.3,350.4 1434.0,353.3 C1436.7,356.2 1439.6,359.1 1442.7,362.0 C1445.8,364.9 1449.5,367.8 1452.6,370.7 C1455.7,373.6 1458.8,376.4 1461.3,379.3 C1463.8,382.2 1466.0,384.9 1467.5,388.0 C1469.0,391.1 1470.0,394.7 1470.4,398.0 C1470.8,401.3 1470.3,404.5 1470.0,407.9 C1469.7,411.2 1469.2,415.4 1468.7,418.1 C1468.2,420.8 1467.7,421.3 1466.9,423.9 C1466.1,426.5 1464.5,430.6 1463.8,433.9 C1463.1,437.2 1462.7,440.5 1462.6,443.8 C1462.5,447.1 1462.9,450.4 1463.2,453.7 C1463.5,457.0 1464.1,460.3 1464.4,463.6 C1464.7,466.9 1464.9,470.3 1464.8,473.6 C1464.7,476.9 1464.4,480.2 1463.8,483.5 C1463.2,486.8 1461.9,490.3 1461.3,493.4 C1460.7,496.5 1460.9,498.9 1460.1,502.0 C1459.3,505.1 1457.6,508.6 1456.3,511.9 C1455.0,515.2 1453.3,518.6 1452.0,521.9 C1450.7,525.2 1449.6,528.5 1448.7,531.8 C1447.8,535.1 1447.2,538.4 1446.7,541.7 C1446.2,545.0 1445.9,548.3 1445.4,551.6 C1444.9,554.9 1444.7,558.3 1443.9,561.6 C1443.1,564.9 1442.0,568.2 1440.8,571.5 C1439.6,574.8 1437.7,578.3 1436.5,581.4 C1435.3,584.5 1434.9,587.1 1433.4,590.0 C1432.0,592.9 1429.7,595.7 1427.8,598.7 C1425.9,601.7 1424.0,604.7 1422.2,608.0 C1420.5,611.3 1418.7,614.9 1417.3,618.5 C1415.9,622.1 1414.8,625.8 1413.9,629.7 C1413.0,633.6 1412.4,638.0 1411.7,642.1 C1411.0,646.2 1410.3,650.4 1409.8,654.5 C1409.3,658.6 1408.9,662.8 1408.6,666.9 C1408.3,671.0 1408.2,677.1 1408.0,679.3 C1407.8,681.5 1407.8,680.1 1407.7,680.3" fill="none" stroke="#f41010" stroke-width="1.9" stroke-linejoin="round" stroke-linecap="butt"/>
<line x1="954.4" y1="154.3" x2="954.4" y2="680.4" stroke="#222" stroke-width="0.9" stroke-dasharray="5.6,1.4,0.9,1.4"/>
<line x1="911.4" y1="325.2" x2="1403.0" y2="325.2" stroke="#222" stroke-width="0.9" stroke-dasharray="5.6,1.4,0.9,1.4"/>
<g clip-path="url(#axclip)">
<path d="M1054.2,379.8 L1056.0,380.0 L1057.8,380.2 L1059.7,380.3 L1061.5,380.4 L1063.3,380.4 L1065.2,380.3 L1067.0,380.2 L1068.8,380.1 L1070.7,379.9 L1072.5,379.7 L1073.1,379.6 L1074.4,379.4 L1076.2,379.1 L1078.0,378.8 L1079.9,378.4 L1081.7,378.1 L1081.7,378.1 L1083.5,377.7 L1085.4,377.4 L1087.2,377.0 L1089.0,376.7 L1090.0,376.6 L1090.9,376.4 L1092.7,376.2 L1094.5,376.0 L1096.4,375.8 L1098.2,375.8 L1100.0,375.7 L1101.9,375.7 L1103.7,375.8 L1105.5,375.9 L1107.4,376.1 L1109.2,376.2 L1111.0,376.4 L1112.1,376.6 L1112.9,376.7 L1114.7,376.9 L1116.5,377.1 L1118.4,377.3 L1120.2,377.4 L1122.0,377.5 L1123.9,377.6 L1125.7,377.6 L1127.6,377.5 L1129.4,377.3 L1131.2,377.1 L1133.1,376.7 L1133.8,376.6 L1134.9,376.3 L1136.7,375.8 L1138.6,375.2 L1138.9,375.0 L1140.4,374.5 L1142.2,373.7 L1142.5,373.5 L1144.1,372.8 L1145.6,372.0 L1145.9,371.9 L1147.7,370.9 L1148.4,370.5 L1149.6,369.8 L1151.0,369.0 L1151.4,368.8 L1153.2,367.7 L1153.7,367.5 L1155.1,366.7 L1156.3,365.9 L1156.9,365.6 L1158.7,364.6 L1159.1,364.4 L1160.6,363.7 L1162.0,362.9 L1162.4,362.7 L1164.2,361.8 L1165.1,361.4 L1166.1,361.0 L1167.9,360.1 L1168.5,359.9 L1169.7,359.3 L1171.6,358.6 L1172.1,358.4 L1173.4,357.8 L1175.2,357.1 L1175.8,356.8 L1177.1,356.3 L1178.9,355.5 L1179.4,355.3 L1180.8,354.8 L1182.6,354.0 L1182.9,353.8 L1184.4,353.1 L1186.0,352.3 L1186.3,352.2 L1188.1,351.2 L1188.7,350.8 L1189.9,350.0 L1191.1,349.3 L1191.8,348.8 L1193.0,347.7 L1193.6,347.3 L1194.7,346.2 L1195.4,345.4 L1196.1,344.7 L1197.2,343.2 L1197.3,343.1 L1198.1,341.7 L1198.8,340.2 L1199.1,339.4 L1199.4,338.6 L1199.8,337.1 L1200.0,335.6 L1200.1,334.1 L1200.0,332.6 L1199.9,331.1 L1199.6,329.5 L1199.2,328.0 L1199.1,327.9 L1198.7,326.5 L1198.0,325.0 L1197.3,323.5 L1197.3,323.4 L1196.5,322.0 L1195.6,320.5 L1195.4,320.3 L1194.6,318.9 L1193.6,317.6 L1193.5,317.4 L1192.4,315.9 L1191.8,315.2 L1191.2,314.4 L1189.9,312.9 L1189.9,312.9 L1188.6,311.4 L1188.1,310.7 L1187.4,309.8 L1186.3,308.6 L1186.1,308.3 L1184.8,306.8 L1184.4,306.4 L1183.6,305.3 L1182.6,304.1 L1182.3,303.8 L1181.2,302.3 L1180.8,301.6 L1180.1,300.7 L1179.1,299.2 L1178.9,299.0 L1178.2,297.7 L1177.3,296.2 L1177.1,295.8 L1176.5,294.7 L1175.7,293.2 L1175.2,292.1 L1175.1,291.6 L1174.5,290.1 L1173.9,288.6 L1173.4,287.2 L1173.4,287.1 L1172.9,285.6 L1172.4,284.1 L1171.9,282.5 L1171.6,281.7 L1171.4,281.0 L1170.8,279.5 L1170.3,278.0 L1169.7,276.8 L1169.6,276.5 L1169.0,275.0 L1168.2,273.4 L1167.9,272.8 L1167.5,271.9 L1166.6,270.4 L1166.1,269.5 L1165.7,268.9 L1164.7,267.4 L1164.2,266.6 L1163.7,265.9 L1162.7,264.3 L1162.4,264.0 L1161.6,262.8 L1160.6,261.6 L1160.4,261.3 L1159.2,259.8 L1158.7,259.2 L1158.0,258.3 L1156.9,257.0 L1156.7,256.8 L1155.5,255.2 L1155.1,254.8 L1154.2,253.7 L1153.2,252.6 L1152.9,252.2 L1151.5,250.7 L1151.4,250.5 L1150.2,249.2 L1149.6,248.5 L1148.8,247.7 L1147.7,246.5 L1147.4,246.1 L1146.0,244.6 L1145.9,244.5 L1144.5,243.1 L1144.1,242.7 L1143.0,241.6 L1142.2,240.9 L1141.4,240.1 L1140.4,239.1 L1139.8,238.6 L1138.6,237.5 L1138.0,237.0 L1136.7,235.9 L1136.2,235.5 L1134.9,234.5 L1134.3,234.0 L1133.1,233.1 L1132.3,232.5 L1131.2,231.7 L1130.2,231.0 L1129.4,230.4 L1128.0,229.5 L1127.6,229.2 L1125.7,227.9 L1125.7,227.9 L1123.9,226.7 L1123.5,226.4 L1122.0,225.4 L1121.3,224.9 L1120.2,224.2 L1119.2,223.4 L1118.4,222.8 L1117.2,221.9 L1116.5,221.4 L1115.4,220.4 L1114.7,219.8 L1113.8,218.9 L1112.9,217.9 L1112.3,217.3 L1111.0,215.8 L1111.0,215.8 L1109.9,214.3 L1109.2,213.3 L1108.9,212.8 L1107.9,211.3 L1107.4,210.3 L1107.1,209.8 L1106.2,208.2 L1105.5,206.9 L1105.4,206.7 L1104.7,205.2 L1103.9,203.7 L1103.7,203.4 L1103.1,202.2 L1102.3,200.7 L1101.9,200.0 L1101.4,199.1 L1100.6,197.6 L1100.0,196.8 L1099.6,196.1 L1098.7,194.6 L1098.2,193.9 L1097.6,193.1 L1096.6,191.6 L1096.4,191.3 L1095.4,190.0 L1094.5,188.9 L1094.2,188.5 L1092.9,187.0 L1092.7,186.7 L1091.6,185.5 L1090.9,184.7 L1090.2,184.0 L1089.0,182.8 L1088.6,182.5 L1087.2,181.1 L1087.0,180.9 L1085.4,179.4 L1085.3,179.4 L1083.5,177.9 L1083.5,177.9 L1081.7,176.4 L1081.6,176.4 L1079.9,175.0 L1079.6,174.9 L1078.0,173.7 L1077.5,173.4 L1076.2,172.5 L1075.2,171.8 L1074.4,171.3 L1072.8,170.3 L1072.5,170.1 L1070.7,169.1 L1070.2,168.8 L1068.8,168.0 L1067.4,167.3 L1067.0,167.1 L1065.2,166.2 L1064.4,165.8 L1063.3,165.3 L1061.5,164.5 L1061.0,164.3 L1059.7,163.7 L1057.8,163.0 L1057.1,162.7 L1056.0,162.4 L1054.2,161.7 L1052.4,161.2 L1052.3,161.2 L1050.5,160.7 L1048.7,160.3 L1046.8,159.9 L1045.7,159.7 L1045.0,159.6 L1043.2,159.3 L1041.3,159.1 L1039.5,159.0 L1037.7,159.0 L1035.8,159.0 L1034.0,159.1 L1032.2,159.3 L1030.3,159.6 L1029.9,159.7 L1028.5,160.0 L1026.7,160.5 L1024.8,161.1 L1024.6,161.2 L1023.0,161.9 L1021.3,162.7 L1021.2,162.8 L1019.3,163.9 L1018.8,164.3 L1017.5,165.2 L1016.8,165.8 L1015.6,166.9 L1015.2,167.3 L1013.8,168.8 L1013.8,168.8 L1012.6,170.3 L1012.0,171.3 L1011.6,171.8 L1010.8,173.4 L1010.1,174.7 L1010.0,174.9 L1009.4,176.4 L1008.9,177.9 L1008.4,179.4 L1008.3,179.9 L1008.1,180.9 L1007.7,182.5 L1007.5,184.0 L1007.3,185.5 L1007.2,187.0 L1007.1,188.5 L1007.0,190.0 L1007.0,191.6 L1006.9,193.1 L1006.9,194.6 L1006.9,196.1 L1006.9,197.6 L1006.8,199.1 L1006.7,200.7 L1006.5,202.2 L1006.5,202.4 L1006.2,203.7 L1005.9,205.2 L1005.3,206.7 L1004.6,208.2 L1004.6,208.2 L1003.7,209.8 L1002.8,210.8 L1002.4,211.3 L1001.0,212.6 L1000.8,212.8 L999.1,214.0 L998.7,214.3 L997.3,215.1 L996.1,215.8 L995.5,216.1 L993.6,217.0 L993.0,217.3 L991.8,217.9 L990.0,218.7 L989.6,218.9 L988.1,219.4 L986.3,220.2 L986.0,220.4 L984.5,221.0 L982.6,221.9 L982.6,221.9 L980.8,222.7 L979.5,223.4 L979.0,223.6 L977.1,224.6 L976.6,224.9 L975.3,225.6 L974.0,226.4 L973.5,226.7 L971.6,227.9 L971.6,227.9 L969.8,229.2 L969.4,229.5 L968.0,230.5 L967.4,231.0 L966.1,232.0 L965.5,232.5 L964.3,233.5 L963.7,234.0 L962.4,235.1 L962.0,235.5 L960.6,236.8 L960.3,237.0 L958.8,238.5 L958.7,238.6 L957.2,240.1 L956.9,240.3 L955.6,241.6 L955.1,242.1 L954.1,243.1 L953.3,244.0 L952.6,244.6 L951.4,245.8 L951.1,246.1 L949.7,247.7 L949.6,247.7 L948.2,249.2 L947.8,249.6 L946.8,250.7 L945.9,251.6 L945.4,252.2 L944.1,253.7 L944.1,253.8 L942.9,255.2 L942.3,256.0 L941.7,256.8 L940.6,258.3 L940.4,258.6 L939.6,259.8 L938.7,261.3 L938.6,261.6 L937.9,262.8 L937.2,264.3 L936.8,265.3 L936.5,265.9 L935.9,267.4 L935.4,268.9 L935.0,270.4 L934.9,270.7 L934.6,271.9 L934.3,273.4 L934.1,275.0 L934.0,276.5 L933.9,278.0 L933.8,279.5 L933.9,281.0 L934.0,282.5 L934.1,284.1 L934.3,285.6 L934.6,287.1 L934.9,288.6 L934.9,288.7 L935.3,290.1 L935.7,291.6 L936.1,293.2 L936.6,294.7 L936.8,295.0 L937.2,296.2 L937.8,297.7 L938.4,299.2 L938.6,299.6 L939.1,300.7 L939.8,302.3 L940.4,303.6 L940.5,303.8 L941.3,305.3 L942.1,306.8 L942.3,307.1 L942.9,308.3 L943.8,309.8 L944.1,310.3 L944.7,311.4 L945.6,312.9 L945.9,313.3 L946.6,314.4 L947.6,315.9 L947.8,316.1 L948.7,317.4 L949.6,318.7 L949.8,318.9 L950.9,320.5 L951.4,321.2 L952.0,322.0 L953.3,323.5 L953.3,323.5 L954.5,325.0 L955.1,325.7 L955.8,326.5 L956.9,327.8 L957.1,328.0 L958.5,329.5 L958.8,329.8 L960.0,331.1 L960.6,331.7 L961.4,332.6 L962.4,333.6 L963.0,334.1 L964.3,335.3 L964.6,335.6 L966.1,337.0 L966.2,337.1 L967.9,338.6 L968.0,338.7 L969.7,340.2 L969.8,340.3 L971.5,341.7 L971.6,341.8 L973.3,343.2 L973.5,343.3 L975.3,344.7 L975.3,344.7 L977.1,346.1 L977.3,346.2 L979.0,347.5 L979.4,347.7 L980.8,348.8 L981.5,349.3 L982.6,350.0 L983.8,350.8 L984.5,351.2 L986.2,352.3 L986.3,352.3 L988.1,353.4 L988.8,353.8 L990.0,354.5 L991.4,355.3 L991.8,355.5 L993.6,356.5 L994.3,356.8 L995.5,357.5 L997.3,358.4 L997.3,358.4 L999.1,359.3 L1000.5,359.9 L1001.0,360.1 L1002.8,361.0 L1003.8,361.4 L1004.6,361.8 L1006.5,362.6 L1007.2,362.9 L1008.3,363.4 L1010.1,364.2 L1010.8,364.4 L1012.0,364.9 L1013.8,365.7 L1014.4,365.9 L1015.6,366.5 L1017.5,367.2 L1018.0,367.5 L1019.3,368.0 L1021.2,368.8 L1021.6,369.0 L1023.0,369.6 L1024.8,370.3 L1025.2,370.5 L1026.7,371.1 L1028.5,371.9 L1028.8,372.0 L1030.3,372.6 L1032.2,373.4 L1032.6,373.5 L1034.0,374.1 L1035.8,374.8 L1036.5,375.0 L1037.7,375.5 L1039.5,376.1 L1040.8,376.6 L1041.3,376.7 L1043.2,377.3 L1045.0,377.8 L1046.0,378.1 L1046.8,378.3 L1048.7,378.8 L1050.5,379.1 L1052.3,379.5 L1053.2,379.6 L1054.2,379.8" fill="none" stroke="#9090ff" stroke-width="1.5"/>
<path d="M1052.3,365.9 L1054.2,366.2 L1056.0,366.4 L1057.8,366.6 L1059.7,366.7 L1061.5,366.8 L1063.3,366.8 L1065.2,366.7 L1067.0,366.6 L1068.8,366.4 L1070.7,366.2 L1072.5,366.0 L1072.8,365.9 L1074.4,365.7 L1076.2,365.4 L1078.0,365.1 L1079.9,364.7 L1081.3,364.4 L1081.7,364.4 L1083.5,364.0 L1085.4,363.6 L1087.2,363.3 L1089.0,362.9 L1089.0,362.9 L1090.9,362.6 L1092.7,362.3 L1094.5,362.0 L1096.4,361.8 L1098.2,361.5 L1099.7,361.4 L1100.0,361.4 L1101.9,361.2 L1103.7,361.1 L1105.5,361.0 L1107.4,361.0 L1109.2,360.9 L1111.0,360.9 L1112.9,360.9 L1114.7,360.8 L1116.5,360.8 L1118.4,360.7 L1120.2,360.6 L1122.0,360.5 L1123.9,360.3 L1125.7,360.1 L1126.9,359.9 L1127.6,359.8 L1129.4,359.4 L1131.2,359.0 L1133.1,358.5 L1133.6,358.4 L1134.9,358.0 L1136.7,357.4 L1138.1,356.8 L1138.6,356.7 L1140.4,356.0 L1141.9,355.3 L1142.2,355.2 L1144.1,354.4 L1145.4,353.8 L1145.9,353.6 L1147.7,352.7 L1148.6,352.3 L1149.6,351.9 L1151.4,351.0 L1151.8,350.8 L1153.2,350.0 L1154.8,349.3 L1155.1,349.1 L1156.9,348.2 L1157.7,347.7 L1158.7,347.2 L1160.5,346.2 L1160.6,346.2 L1162.4,345.1 L1163.2,344.7 L1164.2,344.0 L1165.6,343.2 L1166.1,342.9 L1167.7,341.7 L1167.9,341.6 L1169.6,340.2 L1169.7,340.1 L1171.3,338.6 L1171.6,338.3 L1172.6,337.1 L1173.4,336.0 L1173.7,335.6 L1174.5,334.1 L1175.0,332.6 L1175.2,331.7 L1175.4,331.1 L1175.6,329.5 L1175.5,328.0 L1175.3,326.5 L1175.2,326.1 L1175.0,325.0 L1174.5,323.5 L1173.9,322.0 L1173.4,320.9 L1173.2,320.5 L1172.4,318.9 L1171.6,317.5 L1171.5,317.4 L1170.6,315.9 L1169.7,314.6 L1169.6,314.4 L1168.5,312.9 L1167.9,312.0 L1167.4,311.4 L1166.3,309.8 L1166.1,309.5 L1165.2,308.3 L1164.2,307.0 L1164.1,306.8 L1163.0,305.3 L1162.4,304.6 L1161.8,303.8 L1160.7,302.3 L1160.6,302.0 L1159.6,300.7 L1158.7,299.4 L1158.6,299.2 L1157.6,297.7 L1156.9,296.6 L1156.6,296.2 L1155.7,294.7 L1155.1,293.6 L1154.8,293.2 L1154.0,291.6 L1153.2,290.2 L1153.2,290.1 L1152.5,288.6 L1151.8,287.1 L1151.4,286.2 L1151.1,285.6 L1150.5,284.1 L1149.9,282.5 L1149.6,281.7 L1149.3,281.0 L1148.7,279.5 L1148.1,278.0 L1147.7,277.1 L1147.5,276.5 L1146.8,275.0 L1146.1,273.4 L1145.9,273.1 L1145.3,271.9 L1144.5,270.4 L1144.1,269.7 L1143.6,268.9 L1142.7,267.4 L1142.2,266.7 L1141.7,265.9 L1140.6,264.3 L1140.4,264.1 L1139.4,262.8 L1138.6,261.8 L1138.2,261.3 L1136.9,259.8 L1136.7,259.6 L1135.5,258.3 L1134.9,257.6 L1134.1,256.8 L1133.1,255.8 L1132.5,255.2 L1131.2,254.1 L1130.9,253.7 L1129.4,252.4 L1129.1,252.2 L1127.6,250.9 L1127.3,250.7 L1125.7,249.5 L1125.3,249.2 L1123.9,248.2 L1123.2,247.7 L1122.0,246.9 L1120.9,246.1 L1120.2,245.7 L1118.4,244.6 L1118.4,244.6 L1116.5,243.5 L1115.7,243.1 L1114.7,242.5 L1112.9,241.6 L1112.9,241.6 L1111.0,240.7 L1109.8,240.1 L1109.2,239.8 L1107.4,239.0 L1106.5,238.6 L1105.5,238.1 L1103.7,237.3 L1103.1,237.0 L1101.9,236.5 L1100.0,235.7 L1099.7,235.5 L1098.2,234.8 L1096.5,234.0 L1096.4,234.0 L1094.5,233.0 L1093.6,232.5 L1092.7,232.0 L1091.1,231.0 L1090.9,230.8 L1089.1,229.5 L1089.0,229.4 L1087.5,227.9 L1087.2,227.6 L1086.3,226.4 L1085.5,224.9 L1085.4,224.5 L1085.0,223.4 L1084.7,221.9 L1084.5,220.4 L1084.5,218.9 L1084.5,217.3 L1084.5,215.8 L1084.6,214.3 L1084.6,212.8 L1084.6,211.3 L1084.5,209.8 L1084.4,208.2 L1084.1,206.7 L1083.8,205.2 L1083.5,204.0 L1083.4,203.7 L1083.0,202.2 L1082.4,200.7 L1081.7,199.1 L1081.7,199.1 L1080.9,197.6 L1080.0,196.1 L1079.9,195.8 L1079.0,194.6 L1078.0,193.2 L1077.9,193.1 L1076.7,191.6 L1076.2,191.0 L1075.3,190.0 L1074.4,189.1 L1073.8,188.5 L1072.5,187.4 L1072.1,187.0 L1070.7,185.8 L1070.3,185.5 L1068.8,184.4 L1068.2,184.0 L1067.0,183.1 L1066.0,182.5 L1065.2,182.0 L1063.4,180.9 L1063.3,180.9 L1061.5,179.9 L1060.4,179.4 L1059.7,179.1 L1057.8,178.3 L1056.8,177.9 L1056.0,177.6 L1054.2,177.0 L1052.3,176.5 L1052.0,176.4 L1050.5,176.0 L1048.7,175.7 L1046.8,175.5 L1045.0,175.4 L1043.2,175.4 L1041.3,175.5 L1039.5,175.8 L1037.7,176.3 L1037.4,176.4 L1035.8,177.0 L1034.0,177.9 L1033.9,177.9 L1032.2,179.1 L1031.8,179.4 L1030.3,180.9 L1030.3,180.9 L1029.1,182.5 L1028.5,183.5 L1028.2,184.0 L1027.5,185.5 L1027.0,187.0 L1026.7,188.1 L1026.6,188.5 L1026.3,190.0 L1026.1,191.6 L1026.0,193.1 L1025.9,194.6 L1025.9,196.1 L1026.0,197.6 L1026.1,199.1 L1026.3,200.7 L1026.4,202.2 L1026.6,203.7 L1026.7,204.6 L1026.7,205.2 L1026.8,206.7 L1026.9,208.2 L1027.0,209.8 L1026.9,211.3 L1026.7,212.8 L1026.7,213.1 L1026.4,214.3 L1025.9,215.8 L1025.1,217.3 L1024.8,217.7 L1023.9,218.9 L1023.0,219.8 L1022.4,220.4 L1021.2,221.3 L1020.4,221.9 L1019.3,222.5 L1017.7,223.4 L1017.5,223.5 L1015.6,224.3 L1014.2,224.9 L1013.8,225.1 L1012.0,225.8 L1010.1,226.4 L1010.1,226.4 L1008.3,227.0 L1006.5,227.6 L1005.4,227.9 L1004.6,228.2 L1002.8,228.8 L1001.0,229.4 L1000.7,229.5 L999.1,230.0 L997.3,230.7 L996.4,231.0 L995.5,231.3 L993.6,232.1 L992.7,232.5 L991.8,232.9 L990.0,233.8 L989.5,234.0 L988.1,234.7 L986.7,235.5 L986.3,235.7 L984.5,236.9 L984.2,237.0 L982.6,238.2 L982.1,238.6 L980.8,239.6 L980.1,240.1 L979.0,241.1 L978.4,241.6 L977.1,242.8 L976.8,243.1 L975.3,244.6 L975.3,244.7 L974.0,246.1 L973.5,246.8 L972.7,247.7 L971.6,249.0 L971.5,249.2 L970.3,250.7 L969.8,251.4 L969.2,252.2 L968.1,253.7 L968.0,254.0 L967.1,255.2 L966.1,256.6 L966.0,256.8 L965.0,258.3 L964.3,259.3 L964.0,259.8 L963.0,261.3 L962.4,262.1 L962.0,262.8 L961.0,264.3 L960.6,264.9 L960.0,265.9 L959.1,267.4 L958.8,267.9 L958.2,268.9 L957.4,270.4 L956.9,271.2 L956.6,271.9 L955.8,273.4 L955.2,275.0 L955.1,275.2 L954.6,276.5 L954.1,278.0 L953.7,279.5 L953.3,281.0 L953.3,281.4 L953.1,282.5 L952.9,284.1 L952.8,285.6 L952.7,287.1 L952.7,288.6 L952.8,290.1 L953.0,291.6 L953.2,293.2 L953.3,293.5 L953.5,294.7 L953.8,296.2 L954.2,297.7 L954.7,299.2 L955.1,300.6 L955.2,300.7 L955.7,302.3 L956.3,303.8 L956.9,305.3 L956.9,305.3 L957.6,306.8 L958.4,308.3 L958.8,309.1 L959.2,309.8 L960.0,311.4 L960.6,312.3 L960.9,312.9 L961.9,314.4 L962.4,315.2 L962.9,315.9 L963.9,317.4 L964.3,317.9 L965.0,318.9 L966.1,320.3 L966.2,320.5 L967.4,322.0 L968.0,322.6 L968.7,323.5 L969.8,324.7 L970.1,325.0 L971.5,326.5 L971.6,326.6 L973.0,328.0 L973.5,328.5 L974.5,329.5 L975.3,330.3 L976.1,331.1 L977.1,332.0 L977.8,332.6 L979.0,333.6 L979.5,334.1 L980.8,335.1 L981.4,335.6 L982.6,336.6 L983.3,337.1 L984.5,338.0 L985.3,338.6 L986.3,339.4 L987.4,340.2 L988.1,340.6 L989.7,341.7 L990.0,341.9 L991.8,343.0 L992.1,343.2 L993.6,344.2 L994.6,344.7 L995.5,345.2 L997.3,346.2 L997.3,346.2 L999.1,347.2 L1000.2,347.7 L1001.0,348.1 L1002.8,349.0 L1003.3,349.3 L1004.6,349.9 L1006.5,350.7 L1006.7,350.8 L1008.3,351.5 L1010.1,352.2 L1010.3,352.3 L1012.0,353.0 L1013.8,353.7 L1014.1,353.8 L1015.6,354.4 L1017.5,355.1 L1018.1,355.3 L1019.3,355.8 L1021.2,356.5 L1022.2,356.8 L1023.0,357.1 L1024.8,357.8 L1026.4,358.4 L1026.7,358.4 L1028.5,359.1 L1030.3,359.7 L1030.7,359.9 L1032.2,360.4 L1034.0,361.0 L1035.1,361.4 L1035.8,361.6 L1037.7,362.2 L1039.5,362.8 L1039.8,362.9 L1041.3,363.4 L1043.2,363.9 L1045.0,364.4 L1045.2,364.4 L1046.8,364.9 L1048.7,365.3 L1050.5,365.6 L1052.3,365.9 L1052.3,365.9" fill="none" stroke="#9090ff" stroke-width="1.5"/>
<path d="M1050.5,358.4 L1052.3,358.7 L1054.2,359.0 L1056.0,359.2 L1057.8,359.3 L1059.7,359.4 L1061.5,359.5 L1063.3,359.5 L1065.2,359.4 L1067.0,359.3 L1068.8,359.2 L1070.7,359.0 L1072.5,358.8 L1074.4,358.5 L1075.0,358.4 L1076.2,358.2 L1078.0,357.8 L1079.9,357.5 L1081.7,357.1 L1082.9,356.8 L1083.5,356.7 L1085.4,356.3 L1087.2,355.9 L1089.0,355.5 L1090.1,355.3 L1090.9,355.2 L1092.7,354.8 L1094.5,354.5 L1096.4,354.1 L1098.2,353.8 L1098.2,353.8 L1100.0,353.5 L1101.9,353.3 L1103.7,353.1 L1105.5,352.9 L1107.4,352.7 L1109.2,352.5 L1111.0,352.3 L1111.5,352.3 L1112.9,352.2 L1114.7,352.0 L1116.5,351.9 L1118.4,351.7 L1120.2,351.5 L1122.0,351.2 L1123.9,350.9 L1124.7,350.8 L1125.7,350.6 L1127.6,350.2 L1129.4,349.8 L1131.2,349.3 L1131.3,349.3 L1133.1,348.7 L1134.9,348.1 L1135.9,347.7 L1136.7,347.5 L1138.6,346.7 L1139.8,346.2 L1140.4,346.0 L1142.2,345.2 L1143.2,344.7 L1144.1,344.3 L1145.9,343.3 L1146.2,343.2 L1147.7,342.3 L1148.9,341.7 L1149.6,341.3 L1151.3,340.2 L1151.4,340.1 L1153.2,338.9 L1153.5,338.6 L1155.1,337.4 L1155.4,337.1 L1156.9,335.7 L1157.0,335.6 L1158.4,334.1 L1158.7,333.6 L1159.5,332.6 L1160.3,331.1 L1160.6,330.5 L1160.9,329.5 L1161.3,328.0 L1161.5,326.5 L1161.5,325.0 L1161.4,323.5 L1161.0,322.0 L1160.6,320.5 L1160.6,320.4 L1160.0,318.9 L1159.4,317.4 L1158.7,316.2 L1158.6,315.9 L1157.7,314.4 L1156.9,313.1 L1156.8,312.9 L1155.8,311.4 L1155.1,310.3 L1154.7,309.8 L1153.6,308.3 L1153.2,307.8 L1152.5,306.8 L1151.4,305.4 L1151.3,305.3 L1150.1,303.8 L1149.6,303.1 L1148.9,302.3 L1147.7,300.8 L1147.6,300.7 L1146.4,299.2 L1145.9,298.6 L1145.2,297.7 L1144.1,296.2 L1144.0,296.2 L1142.9,294.7 L1142.2,293.8 L1141.8,293.2 L1140.7,291.6 L1140.4,291.1 L1139.7,290.1 L1138.8,288.6 L1138.6,288.2 L1137.9,287.1 L1137.1,285.6 L1136.7,284.7 L1136.4,284.1 L1135.7,282.5 L1135.0,281.0 L1134.9,280.7 L1134.4,279.5 L1133.7,278.0 L1133.1,276.5 L1133.1,276.5 L1132.3,275.0 L1131.6,273.4 L1131.2,272.7 L1130.8,271.9 L1129.9,270.4 L1129.4,269.6 L1129.0,268.9 L1127.9,267.4 L1127.6,266.9 L1126.7,265.9 L1125.7,264.6 L1125.5,264.3 L1124.1,262.8 L1123.9,262.6 L1122.6,261.3 L1122.0,260.8 L1120.9,259.8 L1120.2,259.2 L1119.1,258.3 L1118.4,257.7 L1117.2,256.8 L1116.5,256.3 L1115.0,255.2 L1114.7,255.1 L1112.9,253.9 L1112.6,253.7 L1111.0,252.8 L1109.9,252.2 L1109.2,251.8 L1107.4,250.9 L1107.0,250.7 L1105.5,250.0 L1103.7,249.2 L1103.7,249.2 L1101.9,248.4 L1100.1,247.7 L1100.0,247.6 L1098.2,246.9 L1096.4,246.2 L1096.1,246.1 L1094.5,245.6 L1092.7,244.9 L1091.9,244.6 L1090.9,244.3 L1089.0,243.6 L1087.6,243.1 L1087.2,242.9 L1085.4,242.3 L1083.5,241.6 L1083.5,241.6 L1081.7,240.9 L1079.9,240.2 L1079.5,240.1 L1078.0,239.5 L1076.2,238.7 L1075.9,238.6 L1074.4,237.9 L1072.5,237.1 L1072.5,237.0 L1070.7,236.2 L1069.3,235.5 L1068.8,235.3 L1067.0,234.3 L1066.4,234.0 L1065.2,233.3 L1063.6,232.5 L1063.3,232.4 L1061.5,231.3 L1060.9,231.0 L1059.7,230.3 L1058.1,229.5 L1057.8,229.3 L1056.0,228.3 L1055.0,227.9 L1054.2,227.5 L1052.3,226.9 L1050.5,226.7 L1048.7,226.6 L1046.8,226.7 L1045.0,227.0 L1043.2,227.3 L1041.3,227.8 L1040.7,227.9 L1039.5,228.2 L1037.7,228.7 L1035.8,229.1 L1034.5,229.5 L1034.0,229.6 L1032.2,230.0 L1030.3,230.4 L1028.5,230.9 L1027.9,231.0 L1026.7,231.3 L1024.8,231.6 L1023.0,232.0 L1021.2,232.4 L1020.8,232.5 L1019.3,232.8 L1017.5,233.2 L1015.6,233.6 L1013.8,234.0 L1013.6,234.0 L1012.0,234.4 L1010.1,234.8 L1008.3,235.3 L1007.4,235.5 L1006.5,235.8 L1004.6,236.3 L1002.8,236.9 L1002.4,237.0 L1001.0,237.5 L999.1,238.2 L998.4,238.6 L997.3,239.0 L995.5,239.9 L995.1,240.1 L993.6,240.9 L992.4,241.6 L991.8,242.0 L990.1,243.1 L990.0,243.2 L988.1,244.6 L988.1,244.6 L986.3,246.1 L986.3,246.1 L984.7,247.7 L984.5,247.9 L983.3,249.2 L982.6,250.0 L982.0,250.7 L980.8,252.2 L980.8,252.2 L979.7,253.7 L979.0,254.8 L978.6,255.2 L977.6,256.8 L977.1,257.6 L976.7,258.3 L975.8,259.8 L975.3,260.6 L974.8,261.3 L973.9,262.8 L973.5,263.7 L973.0,264.3 L972.2,265.9 L971.6,266.8 L971.3,267.4 L970.4,268.9 L969.8,270.0 L969.5,270.4 L968.7,271.9 L968.0,273.3 L967.9,273.4 L967.1,275.0 L966.3,276.5 L966.1,277.0 L965.7,278.0 L965.0,279.5 L964.5,281.0 L964.3,281.6 L964.0,282.5 L963.6,284.1 L963.2,285.6 L963.0,287.1 L962.8,288.6 L962.7,290.1 L962.6,291.6 L962.7,293.2 L962.8,294.7 L963.0,296.2 L963.2,297.7 L963.5,299.2 L963.9,300.7 L964.3,301.9 L964.4,302.3 L964.9,303.8 L965.5,305.3 L966.1,306.8 L966.1,306.8 L966.8,308.3 L967.6,309.8 L968.0,310.5 L968.4,311.4 L969.3,312.9 L969.8,313.7 L970.2,314.4 L971.3,315.9 L971.6,316.4 L972.3,317.4 L973.5,318.9 L973.5,318.9 L974.7,320.5 L975.3,321.1 L976.0,322.0 L977.1,323.2 L977.4,323.5 L978.8,325.0 L979.0,325.1 L980.3,326.5 L980.8,326.9 L981.9,328.0 L982.6,328.7 L983.6,329.5 L984.5,330.3 L985.4,331.1 L986.3,331.8 L987.3,332.6 L988.1,333.2 L989.3,334.1 L990.0,334.6 L991.4,335.6 L991.8,335.9 L993.6,337.1 L993.6,337.2 L995.5,338.3 L996.0,338.6 L997.3,339.4 L998.6,340.2 L999.1,340.5 L1001.0,341.5 L1001.3,341.7 L1002.8,342.5 L1004.3,343.2 L1004.6,343.4 L1006.5,344.2 L1007.6,344.7 L1008.3,345.0 L1010.1,345.8 L1011.1,346.2 L1012.0,346.6 L1013.8,347.3 L1015.0,347.7 L1015.6,348.0 L1017.5,348.7 L1019.1,349.3 L1019.3,349.3 L1021.2,350.0 L1023.0,350.6 L1023.5,350.8 L1024.8,351.2 L1026.7,351.8 L1028.0,352.3 L1028.5,352.4 L1030.3,353.0 L1032.2,353.6 L1032.8,353.8 L1034.0,354.2 L1035.8,354.8 L1037.7,355.3 L1037.8,355.3 L1039.5,355.8 L1041.3,356.3 L1043.2,356.8 L1043.3,356.8 L1045.0,357.3 L1046.8,357.7 L1048.7,358.1 L1050.2,358.4 L1050.5,358.4" fill="none" stroke="#9090ff" stroke-width="1.5"/>
<path d="M1052.3,216.2 L1054.2,216.6 L1056.0,216.5 L1057.8,216.1 L1058.5,215.8 L1059.7,215.4 L1061.5,214.3 L1061.5,214.3 L1063.3,212.9 L1063.5,212.8 L1064.9,211.3 L1065.2,210.9 L1066.0,209.8 L1066.7,208.2 L1067.0,207.5 L1067.2,206.7 L1067.5,205.2 L1067.5,203.7 L1067.3,202.2 L1067.0,201.3 L1066.8,200.7 L1066.2,199.1 L1065.3,197.6 L1065.2,197.4 L1064.1,196.1 L1063.3,195.2 L1062.7,194.6 L1061.5,193.5 L1060.9,193.1 L1059.7,192.2 L1058.6,191.6 L1057.8,191.2 L1056.0,190.3 L1055.1,190.0 L1054.2,189.7 L1052.3,189.4 L1050.5,189.2 L1048.7,189.3 L1046.8,189.7 L1046.0,190.0 L1045.0,190.6 L1043.8,191.6 L1043.2,192.2 L1042.6,193.1 L1041.9,194.6 L1041.5,196.1 L1041.3,197.6 L1041.4,199.1 L1041.6,200.7 L1041.9,202.2 L1042.3,203.7 L1042.9,205.2 L1043.2,206.0 L1043.5,206.7 L1044.3,208.2 L1045.0,209.4 L1045.2,209.8 L1046.3,211.3 L1046.8,212.0 L1047.6,212.8 L1048.7,213.9 L1049.2,214.3 L1050.5,215.3 L1051.5,215.8 L1052.3,216.2" fill="none" stroke="#9090ff" stroke-width="1.5"/>
<path d="M1050.5,352.6 L1052.3,352.8 L1054.2,353.1 L1056.0,353.3 L1057.8,353.4 L1059.7,353.5 L1061.5,353.6 L1063.3,353.6 L1065.2,353.5 L1067.0,353.4 L1068.8,353.2 L1070.7,353.0 L1072.5,352.8 L1074.4,352.5 L1075.5,352.3 L1076.2,352.2 L1078.0,351.8 L1079.9,351.4 L1081.7,351.0 L1082.7,350.8 L1083.5,350.6 L1085.4,350.1 L1087.2,349.7 L1088.8,349.3 L1089.0,349.2 L1090.9,348.7 L1092.7,348.3 L1094.5,347.8 L1094.8,347.7 L1096.4,347.4 L1098.2,346.9 L1100.0,346.5 L1101.4,346.2 L1101.9,346.1 L1103.7,345.7 L1105.5,345.4 L1107.4,345.1 L1109.2,344.8 L1109.5,344.7 L1111.0,344.5 L1112.9,344.2 L1114.7,343.9 L1116.5,343.6 L1118.4,343.3 L1118.8,343.2 L1120.2,342.9 L1122.0,342.6 L1123.9,342.2 L1125.7,341.7 L1125.9,341.7 L1127.6,341.2 L1129.4,340.7 L1130.9,340.2 L1131.2,340.1 L1133.1,339.4 L1134.8,338.6 L1134.9,338.6 L1136.7,337.8 L1138.0,337.1 L1138.6,336.8 L1140.4,335.7 L1140.6,335.6 L1142.2,334.5 L1142.8,334.1 L1144.1,333.0 L1144.6,332.6 L1145.9,331.2 L1146.0,331.1 L1147.2,329.5 L1147.7,328.6 L1148.1,328.0 L1148.7,326.5 L1149.0,325.0 L1149.2,323.5 L1149.1,322.0 L1148.9,320.5 L1148.5,318.9 L1147.9,317.4 L1147.7,317.0 L1147.2,315.9 L1146.4,314.4 L1145.9,313.6 L1145.4,312.9 L1144.3,311.4 L1144.1,311.0 L1143.1,309.8 L1142.2,308.8 L1141.8,308.3 L1140.4,306.9 L1140.3,306.8 L1138.8,305.3 L1138.6,305.1 L1137.1,303.8 L1136.7,303.4 L1135.3,302.3 L1134.9,301.9 L1133.5,300.7 L1133.1,300.4 L1131.5,299.2 L1131.2,299.0 L1129.5,297.7 L1129.4,297.6 L1127.6,296.3 L1127.4,296.2 L1125.7,294.9 L1125.4,294.7 L1123.9,293.4 L1123.5,293.2 L1122.0,291.8 L1121.8,291.6 L1120.3,290.1 L1120.2,290.0 L1119.0,288.6 L1118.4,287.8 L1117.9,287.1 L1117.0,285.6 L1116.5,284.8 L1116.2,284.1 L1115.5,282.5 L1115.0,281.0 L1114.7,280.3 L1114.4,279.5 L1114.0,278.0 L1113.5,276.5 L1112.9,275.0 L1112.9,274.8 L1112.4,273.4 L1111.7,271.9 L1111.0,270.7 L1110.9,270.4 L1110.0,268.9 L1109.2,267.8 L1108.9,267.4 L1107.7,265.9 L1107.4,265.5 L1106.3,264.3 L1105.5,263.6 L1104.7,262.8 L1103.7,262.0 L1102.9,261.3 L1101.9,260.5 L1100.9,259.8 L1100.0,259.2 L1098.6,258.3 L1098.2,258.0 L1096.4,256.9 L1096.1,256.8 L1094.5,255.9 L1093.4,255.2 L1092.7,254.9 L1090.9,254.0 L1090.3,253.7 L1089.0,253.1 L1087.2,252.3 L1087.0,252.2 L1085.4,251.5 L1083.5,250.7 L1083.5,250.7 L1081.7,249.9 L1079.9,249.2 L1079.8,249.2 L1078.0,248.5 L1076.2,247.8 L1075.9,247.7 L1074.4,247.1 L1072.5,246.4 L1071.9,246.1 L1070.7,245.7 L1068.8,245.0 L1067.6,244.6 L1067.0,244.4 L1065.2,243.8 L1063.3,243.2 L1063.1,243.1 L1061.5,242.6 L1059.7,242.0 L1058.1,241.6 L1057.8,241.5 L1056.0,241.0 L1054.2,240.6 L1052.3,240.2 L1051.8,240.1 L1050.5,239.8 L1048.7,239.5 L1046.8,239.3 L1045.0,239.1 L1043.2,238.9 L1041.3,238.8 L1039.5,238.8 L1037.7,238.7 L1035.8,238.8 L1034.0,238.8 L1032.2,238.9 L1030.3,239.0 L1028.5,239.1 L1026.7,239.2 L1024.8,239.4 L1023.0,239.6 L1021.2,239.8 L1019.3,240.0 L1019.0,240.1 L1017.5,240.3 L1015.6,240.6 L1013.8,240.9 L1012.0,241.3 L1010.9,241.6 L1010.1,241.8 L1008.3,242.3 L1006.5,242.8 L1005.7,243.1 L1004.6,243.5 L1002.8,244.2 L1001.9,244.6 L1001.0,245.1 L999.1,246.0 L998.9,246.1 L997.3,247.1 L996.5,247.7 L995.5,248.4 L994.4,249.2 L993.6,249.8 L992.7,250.7 L991.8,251.5 L991.1,252.2 L990.0,253.5 L989.8,253.7 L988.5,255.2 L988.1,255.8 L987.4,256.8 L986.4,258.3 L986.3,258.4 L985.4,259.8 L984.5,261.3 L984.4,261.3 L983.5,262.8 L982.7,264.3 L982.6,264.4 L981.8,265.9 L980.9,267.4 L980.8,267.6 L980.1,268.9 L979.2,270.4 L979.0,270.9 L978.4,271.9 L977.5,273.4 L977.1,274.2 L976.7,275.0 L975.9,276.5 L975.3,277.7 L975.1,278.0 L974.4,279.5 L973.7,281.0 L973.5,281.6 L973.0,282.5 L972.5,284.1 L972.0,285.6 L971.6,286.8 L971.5,287.1 L971.2,288.6 L970.9,290.1 L970.7,291.6 L970.6,293.2 L970.6,294.7 L970.7,296.2 L970.8,297.7 L971.0,299.2 L971.3,300.7 L971.6,301.9 L971.7,302.3 L972.1,303.8 L972.7,305.3 L973.3,306.8 L973.5,307.2 L973.9,308.3 L974.7,309.8 L975.3,311.0 L975.5,311.4 L976.4,312.9 L977.1,314.0 L977.4,314.4 L978.4,315.9 L979.0,316.6 L979.5,317.4 L980.8,318.9 L980.8,319.0 L982.1,320.5 L982.6,321.1 L983.4,322.0 L984.5,323.0 L984.9,323.5 L986.3,324.8 L986.5,325.0 L988.1,326.5 L988.1,326.5 L989.9,328.0 L990.0,328.1 L991.8,329.5 L991.8,329.6 L993.6,331.0 L993.8,331.1 L995.5,332.3 L995.9,332.6 L997.3,333.5 L998.2,334.1 L999.1,334.7 L1000.7,335.6 L1001.0,335.8 L1002.8,336.8 L1003.4,337.1 L1004.6,337.8 L1006.4,338.6 L1006.5,338.7 L1008.3,339.6 L1009.6,340.2 L1010.1,340.4 L1012.0,341.2 L1013.2,341.7 L1013.8,341.9 L1015.6,342.6 L1017.1,343.2 L1017.5,343.3 L1019.3,344.0 L1021.2,344.6 L1021.4,344.7 L1023.0,345.2 L1024.8,345.8 L1026.0,346.2 L1026.7,346.4 L1028.5,347.0 L1030.3,347.6 L1031.0,347.7 L1032.2,348.1 L1034.0,348.6 L1035.8,349.2 L1036.2,349.3 L1037.7,349.7 L1039.5,350.2 L1041.3,350.6 L1042.0,350.8 L1043.2,351.1 L1045.0,351.5 L1046.8,351.9 L1048.7,352.2 L1049.0,352.3 L1050.5,352.6" fill="none" stroke="#9090ff" stroke-width="1.5"/>
<path d="M1052.3,348.0 L1054.2,348.2 L1056.0,348.4 L1057.8,348.5 L1059.7,348.6 L1061.5,348.7 L1063.3,348.6 L1065.2,348.6 L1067.0,348.4 L1068.8,348.3 L1070.7,348.0 L1072.5,347.8 L1072.6,347.7 L1074.4,347.4 L1076.2,347.1 L1078.0,346.7 L1079.8,346.2 L1079.9,346.2 L1081.7,345.7 L1083.5,345.2 L1085.1,344.7 L1085.4,344.6 L1087.2,344.1 L1089.0,343.5 L1089.8,343.2 L1090.9,342.8 L1092.7,342.2 L1094.2,341.7 L1094.5,341.6 L1096.4,340.9 L1098.2,340.3 L1098.5,340.2 L1100.0,339.6 L1101.9,339.0 L1102.9,338.6 L1103.7,338.3 L1105.5,337.7 L1107.4,337.1 L1107.4,337.1 L1109.2,336.5 L1111.0,336.0 L1112.2,335.6 L1112.9,335.4 L1114.7,334.8 L1116.5,334.3 L1117.2,334.1 L1118.4,333.7 L1120.2,333.1 L1121.9,332.6 L1122.0,332.5 L1123.9,331.8 L1125.7,331.1 L1125.7,331.1 L1127.6,330.1 L1128.6,329.5 L1129.4,329.1 L1130.9,328.0 L1131.2,327.7 L1132.4,326.5 L1133.1,325.7 L1133.6,325.0 L1134.2,323.5 L1134.6,322.0 L1134.5,320.5 L1134.2,318.9 L1133.5,317.4 L1133.1,316.7 L1132.5,315.9 L1131.2,314.4 L1131.2,314.4 L1129.5,312.9 L1129.4,312.8 L1127.6,311.5 L1127.3,311.4 L1125.7,310.4 L1124.7,309.8 L1123.9,309.4 L1122.0,308.4 L1121.9,308.3 L1120.2,307.5 L1118.9,306.8 L1118.4,306.5 L1116.5,305.5 L1116.3,305.3 L1114.7,304.3 L1114.0,303.8 L1112.9,303.0 L1112.0,302.3 L1111.0,301.4 L1110.4,300.7 L1109.2,299.6 L1108.9,299.2 L1107.6,297.7 L1107.4,297.4 L1106.5,296.2 L1105.5,294.8 L1105.4,294.7 L1104.5,293.2 L1103.7,291.7 L1103.7,291.6 L1102.9,290.1 L1102.3,288.6 L1101.9,287.7 L1101.6,287.1 L1101.1,285.6 L1100.5,284.1 L1100.0,282.6 L1100.0,282.5 L1099.5,281.0 L1099.1,279.5 L1098.6,278.0 L1098.2,276.9 L1098.1,276.5 L1097.5,275.0 L1096.9,273.4 L1096.4,272.3 L1096.2,271.9 L1095.4,270.4 L1094.5,269.0 L1094.5,268.9 L1093.4,267.4 L1092.7,266.5 L1092.2,265.9 L1090.9,264.5 L1090.7,264.3 L1089.1,262.8 L1089.0,262.8 L1087.2,261.3 L1087.2,261.3 L1085.4,260.0 L1085.1,259.8 L1083.5,258.8 L1082.7,258.3 L1081.7,257.7 L1080.0,256.8 L1079.9,256.7 L1078.0,255.7 L1077.0,255.2 L1076.2,254.8 L1074.4,254.0 L1073.7,253.7 L1072.5,253.2 L1070.7,252.5 L1070.0,252.2 L1068.8,251.8 L1067.0,251.1 L1065.8,250.7 L1065.2,250.5 L1063.3,249.9 L1061.5,249.3 L1061.0,249.2 L1059.7,248.8 L1057.8,248.3 L1056.0,247.9 L1055.0,247.7 L1054.2,247.5 L1052.3,247.1 L1050.5,246.8 L1048.7,246.5 L1046.8,246.2 L1046.3,246.1 L1045.0,246.0 L1043.2,245.8 L1041.3,245.6 L1039.5,245.5 L1037.7,245.4 L1035.8,245.3 L1034.0,245.3 L1032.2,245.3 L1030.3,245.3 L1028.5,245.4 L1026.7,245.4 L1024.8,245.5 L1023.0,245.7 L1021.2,245.9 L1019.3,246.1 L1019.0,246.1 L1017.5,246.4 L1015.6,246.7 L1013.8,247.1 L1012.0,247.6 L1011.7,247.7 L1010.1,248.1 L1008.3,248.8 L1007.4,249.2 L1006.5,249.6 L1004.6,250.5 L1004.2,250.7 L1002.8,251.5 L1001.7,252.2 L1001.0,252.8 L999.7,253.7 L999.1,254.2 L998.0,255.2 L997.3,256.0 L996.5,256.8 L995.5,258.0 L995.2,258.3 L994.1,259.8 L993.6,260.4 L993.0,261.3 L992.0,262.8 L991.8,263.1 L991.0,264.3 L990.1,265.9 L990.0,266.1 L989.2,267.4 L988.4,268.9 L988.1,269.3 L987.5,270.4 L986.6,271.9 L986.3,272.5 L985.7,273.4 L984.9,275.0 L984.5,275.6 L984.0,276.5 L983.1,278.0 L982.6,278.9 L982.3,279.5 L981.5,281.0 L980.8,282.4 L980.7,282.5 L980.1,284.1 L979.4,285.6 L979.0,286.8 L978.9,287.1 L978.4,288.6 L978.0,290.1 L977.7,291.6 L977.4,293.2 L977.3,294.7 L977.3,296.2 L977.3,297.7 L977.4,299.2 L977.7,300.7 L978.0,302.3 L978.4,303.8 L978.8,305.3 L979.0,305.6 L979.4,306.8 L980.1,308.3 L980.8,309.8 L980.8,309.8 L981.6,311.4 L982.5,312.9 L982.6,313.0 L983.5,314.4 L984.5,315.7 L984.6,315.9 L985.8,317.4 L986.3,318.0 L987.1,318.9 L988.1,320.1 L988.5,320.5 L990.0,322.0 L990.0,322.0 L991.6,323.5 L991.8,323.7 L993.3,325.0 L993.6,325.3 L995.1,326.5 L995.5,326.8 L997.1,328.0 L997.3,328.2 L999.1,329.5 L999.3,329.5 L1001.0,330.7 L1001.6,331.1 L1002.8,331.8 L1004.1,332.6 L1004.6,332.9 L1006.5,333.9 L1006.9,334.1 L1008.3,334.8 L1010.0,335.6 L1010.1,335.7 L1012.0,336.5 L1013.4,337.1 L1013.8,337.3 L1015.6,338.1 L1017.1,338.6 L1017.5,338.8 L1019.3,339.5 L1021.2,340.1 L1021.3,340.2 L1023.0,340.7 L1024.8,341.3 L1026.0,341.7 L1026.7,341.9 L1028.5,342.5 L1030.3,343.0 L1031.0,343.2 L1032.2,343.5 L1034.0,344.0 L1035.8,344.5 L1036.5,344.7 L1037.7,345.0 L1039.5,345.5 L1041.3,345.9 L1042.7,346.2 L1043.2,346.3 L1045.0,346.7 L1046.8,347.1 L1048.7,347.4 L1050.5,347.7 L1050.5,347.7 L1052.3,348.0" fill="none" stroke="#9090ff" stroke-width="1.5"/>
<path d="M1048.7,343.4 L1050.5,343.7 L1052.3,343.9 L1054.2,344.1 L1056.0,344.3 L1057.8,344.4 L1059.7,344.4 L1061.5,344.5 L1063.3,344.4 L1065.2,344.3 L1067.0,344.2 L1068.8,343.9 L1070.7,343.7 L1072.5,343.3 L1073.2,343.2 L1074.4,343.0 L1076.2,342.5 L1078.0,342.0 L1079.2,341.7 L1079.9,341.5 L1081.7,340.9 L1083.5,340.2 L1083.6,340.2 L1085.4,339.5 L1087.2,338.7 L1087.3,338.6 L1089.0,337.9 L1090.6,337.1 L1090.9,337.0 L1092.7,336.0 L1093.5,335.6 L1094.5,335.0 L1096.1,334.1 L1096.4,334.0 L1098.2,332.8 L1098.5,332.6 L1100.0,331.5 L1100.7,331.1 L1101.9,330.1 L1102.6,329.5 L1103.7,328.5 L1104.2,328.0 L1105.5,326.6 L1105.6,326.5 L1106.7,325.0 L1107.4,323.7 L1107.5,323.5 L1108.0,322.0 L1108.2,320.5 L1108.1,318.9 L1107.8,317.4 L1107.4,316.2 L1107.3,315.9 L1106.7,314.4 L1105.9,312.9 L1105.5,312.2 L1105.1,311.4 L1104.3,309.8 L1103.7,308.8 L1103.4,308.3 L1102.6,306.8 L1101.9,305.5 L1101.7,305.3 L1100.9,303.8 L1100.1,302.3 L1100.0,302.2 L1099.3,300.7 L1098.5,299.2 L1098.2,298.5 L1097.8,297.7 L1097.1,296.2 L1096.4,294.7 L1096.4,294.6 L1095.8,293.2 L1095.1,291.6 L1094.5,290.2 L1094.5,290.1 L1093.9,288.6 L1093.4,287.1 L1092.8,285.6 L1092.7,285.3 L1092.3,284.1 L1091.7,282.5 L1091.1,281.0 L1090.9,280.3 L1090.6,279.5 L1090.0,278.0 L1089.3,276.5 L1089.0,275.8 L1088.6,275.0 L1087.8,273.4 L1087.2,272.3 L1087.0,271.9 L1086.0,270.4 L1085.4,269.6 L1084.8,268.9 L1083.5,267.4 L1083.5,267.4 L1082.1,265.9 L1081.7,265.5 L1080.3,264.3 L1079.9,263.9 L1078.4,262.8 L1078.0,262.6 L1076.2,261.3 L1076.1,261.3 L1074.4,260.2 L1073.6,259.8 L1072.5,259.2 L1070.7,258.3 L1070.6,258.3 L1068.8,257.5 L1067.1,256.8 L1067.0,256.7 L1065.2,256.0 L1063.3,255.4 L1062.9,255.2 L1061.5,254.8 L1059.7,254.3 L1057.8,253.8 L1057.7,253.7 L1056.0,253.3 L1054.2,252.9 L1052.3,252.5 L1050.6,252.2 L1050.5,252.2 L1048.7,251.9 L1046.8,251.6 L1045.0,251.4 L1043.2,251.2 L1041.3,251.1 L1039.5,250.9 L1037.7,250.8 L1035.8,250.7 L1034.0,250.7 L1034.0,250.7 L1032.2,250.7 L1030.3,250.7 L1030.0,250.7 L1028.5,250.7 L1026.7,250.8 L1024.8,251.0 L1023.0,251.1 L1021.2,251.4 L1019.3,251.7 L1017.5,252.0 L1016.7,252.2 L1015.6,252.5 L1013.8,253.0 L1012.0,253.7 L1011.9,253.7 L1010.1,254.5 L1008.7,255.2 L1008.3,255.5 L1006.5,256.6 L1006.3,256.8 L1004.6,258.0 L1004.4,258.3 L1002.8,259.7 L1002.7,259.8 L1001.3,261.3 L1001.0,261.7 L1000.1,262.8 L999.1,264.1 L999.0,264.3 L997.9,265.9 L997.3,266.8 L996.9,267.4 L996.0,268.9 L995.5,269.7 L995.0,270.4 L994.1,271.9 L993.6,272.7 L993.2,273.4 L992.2,275.0 L991.8,275.6 L991.3,276.5 L990.3,278.0 L990.0,278.6 L989.4,279.5 L988.5,281.0 L988.1,281.6 L987.6,282.5 L986.8,284.1 L986.3,285.0 L986.0,285.6 L985.3,287.1 L984.7,288.6 L984.5,289.4 L984.2,290.1 L983.8,291.6 L983.4,293.2 L983.2,294.7 L983.0,296.2 L983.0,297.7 L983.0,299.2 L983.2,300.7 L983.5,302.3 L983.8,303.8 L984.3,305.3 L984.5,305.9 L984.8,306.8 L985.4,308.3 L986.2,309.8 L986.3,310.0 L987.0,311.4 L988.0,312.9 L988.1,313.1 L989.0,314.4 L990.0,315.6 L990.2,315.9 L991.4,317.4 L991.8,317.8 L992.8,318.9 L993.6,319.8 L994.3,320.5 L995.5,321.6 L995.9,322.0 L997.3,323.2 L997.7,323.5 L999.1,324.7 L999.6,325.0 L1001.0,326.0 L1001.7,326.5 L1002.8,327.3 L1003.9,328.0 L1004.6,328.5 L1006.4,329.5 L1006.5,329.6 L1008.3,330.6 L1009.2,331.1 L1010.1,331.5 L1012.0,332.4 L1012.3,332.6 L1013.8,333.3 L1015.6,334.1 L1015.7,334.1 L1017.5,334.8 L1019.3,335.5 L1019.6,335.6 L1021.2,336.2 L1023.0,336.8 L1023.9,337.1 L1024.8,337.4 L1026.7,338.0 L1028.5,338.6 L1028.7,338.6 L1030.3,339.1 L1032.2,339.6 L1034.0,340.1 L1034.1,340.2 L1035.8,340.6 L1037.7,341.1 L1039.5,341.5 L1040.2,341.7 L1041.3,341.9 L1043.2,342.3 L1045.0,342.7 L1046.8,343.1 L1047.6,343.2 L1048.7,343.4" fill="none" stroke="#9090ff" stroke-width="1.5"/>
<path d="M1054.2,338.8 L1056.0,338.9 L1057.8,339.0 L1059.7,339.0 L1061.5,338.9 L1063.3,338.8 L1065.2,338.7 L1065.4,338.6 L1067.0,338.4 L1068.8,338.1 L1070.7,337.7 L1072.5,337.3 L1073.0,337.1 L1074.4,336.7 L1076.2,336.1 L1077.4,335.6 L1078.0,335.4 L1079.9,334.5 L1080.7,334.1 L1081.7,333.5 L1083.3,332.6 L1083.5,332.5 L1085.4,331.2 L1085.5,331.1 L1087.2,329.7 L1087.4,329.5 L1088.9,328.0 L1089.0,327.9 L1090.1,326.5 L1090.9,325.5 L1091.2,325.0 L1092.0,323.5 L1092.6,322.0 L1092.7,321.6 L1093.0,320.5 L1093.3,318.9 L1093.5,317.4 L1093.5,315.9 L1093.4,314.4 L1093.2,312.9 L1093.0,311.4 L1092.7,310.1 L1092.6,309.8 L1092.3,308.3 L1091.8,306.8 L1091.4,305.3 L1090.9,303.8 L1090.9,303.7 L1090.4,302.3 L1089.8,300.7 L1089.3,299.2 L1089.0,298.5 L1088.7,297.7 L1088.2,296.2 L1087.6,294.7 L1087.2,293.6 L1087.0,293.2 L1086.5,291.6 L1085.9,290.1 L1085.4,288.8 L1085.3,288.6 L1084.7,287.1 L1084.1,285.6 L1083.5,284.2 L1083.5,284.1 L1082.8,282.5 L1082.1,281.0 L1081.7,280.1 L1081.4,279.5 L1080.6,278.0 L1079.9,276.7 L1079.7,276.5 L1078.7,275.0 L1078.0,273.9 L1077.7,273.4 L1076.4,271.9 L1076.2,271.7 L1075.0,270.4 L1074.4,269.8 L1073.4,268.9 L1072.5,268.1 L1071.5,267.4 L1070.7,266.8 L1069.3,265.9 L1068.8,265.6 L1067.0,264.5 L1066.7,264.3 L1065.2,263.6 L1063.5,262.8 L1063.3,262.8 L1061.5,262.1 L1059.7,261.4 L1059.4,261.3 L1057.8,260.8 L1056.0,260.3 L1054.2,259.9 L1053.7,259.8 L1052.3,259.5 L1050.5,259.2 L1048.7,258.9 L1046.8,258.6 L1045.0,258.4 L1043.3,258.3 L1043.2,258.3 L1041.3,258.1 L1039.5,258.0 L1037.7,258.0 L1035.8,257.9 L1034.0,258.0 L1032.2,258.0 L1030.3,258.1 L1028.5,258.3 L1028.4,258.3 L1026.7,258.5 L1024.8,258.8 L1023.0,259.2 L1021.2,259.6 L1020.6,259.8 L1019.3,260.2 L1017.5,261.0 L1016.7,261.3 L1015.6,261.9 L1014.1,262.8 L1013.8,263.0 L1012.0,264.3 L1012.0,264.4 L1010.3,265.9 L1010.1,266.1 L1008.9,267.4 L1008.3,268.1 L1007.6,268.9 L1006.5,270.3 L1006.4,270.4 L1005.3,271.9 L1004.6,272.8 L1004.2,273.4 L1003.1,275.0 L1002.8,275.3 L1002.0,276.5 L1001.0,277.8 L1000.9,278.0 L999.7,279.5 L999.1,280.3 L998.6,281.0 L997.5,282.5 L997.3,282.8 L996.5,284.1 L995.5,285.5 L995.4,285.6 L994.5,287.1 L993.6,288.6 L993.6,288.6 L992.9,290.1 L992.2,291.6 L991.8,292.8 L991.7,293.2 L991.2,294.7 L990.9,296.2 L990.7,297.7 L990.7,299.2 L990.7,300.7 L990.9,302.3 L991.2,303.8 L991.6,305.3 L991.8,306.0 L992.1,306.8 L992.7,308.3 L993.5,309.8 L993.6,310.1 L994.4,311.4 L995.4,312.9 L995.5,313.0 L996.5,314.4 L997.3,315.4 L997.8,315.9 L999.1,317.4 L999.1,317.4 L1000.7,318.9 L1001.0,319.2 L1002.4,320.5 L1002.8,320.8 L1004.3,322.0 L1004.6,322.2 L1006.4,323.5 L1006.5,323.5 L1008.3,324.7 L1008.7,325.0 L1010.1,325.8 L1011.3,326.5 L1012.0,326.9 L1013.8,327.8 L1014.3,328.0 L1015.6,328.7 L1017.5,329.5 L1017.5,329.5 L1019.3,330.3 L1021.2,331.0 L1021.3,331.1 L1023.0,331.7 L1024.8,332.3 L1025.6,332.6 L1026.7,332.9 L1028.5,333.5 L1030.3,334.0 L1030.5,334.1 L1032.2,334.6 L1034.0,335.1 L1035.8,335.5 L1036.1,335.6 L1037.7,336.0 L1039.5,336.4 L1041.3,336.8 L1042.9,337.1 L1043.2,337.2 L1045.0,337.5 L1046.8,337.9 L1048.7,338.1 L1050.5,338.4 L1052.3,338.6 L1052.7,338.6 L1054.2,338.8" fill="none" stroke="#9090ff" stroke-width="1.5"/>
<path d="M1048.7,332.7 L1050.5,332.9 L1052.3,333.0 L1054.2,333.2 L1056.0,333.2 L1057.8,333.2 L1059.7,333.1 L1061.5,333.0 L1063.3,332.8 L1064.4,332.6 L1065.2,332.4 L1067.0,332.0 L1068.8,331.5 L1070.1,331.1 L1070.7,330.9 L1072.5,330.1 L1073.5,329.5 L1074.4,329.1 L1076.0,328.0 L1076.2,327.9 L1077.9,326.5 L1078.0,326.4 L1079.4,325.0 L1079.9,324.5 L1080.6,323.5 L1081.6,322.0 L1081.7,321.7 L1082.3,320.5 L1082.9,318.9 L1083.3,317.4 L1083.5,315.9 L1083.5,315.9 L1083.7,314.4 L1083.7,312.9 L1083.7,311.4 L1083.5,309.8 L1083.5,309.8 L1083.3,308.3 L1083.1,306.8 L1082.7,305.3 L1082.4,303.8 L1082.0,302.3 L1081.7,301.2 L1081.6,300.7 L1081.1,299.2 L1080.6,297.7 L1080.1,296.2 L1079.9,295.6 L1079.5,294.7 L1078.9,293.2 L1078.4,291.6 L1078.0,290.8 L1077.7,290.1 L1077.1,288.6 L1076.4,287.1 L1076.2,286.6 L1075.7,285.6 L1074.9,284.1 L1074.4,283.1 L1074.0,282.5 L1073.1,281.0 L1072.5,280.1 L1072.1,279.5 L1071.0,278.0 L1070.7,277.6 L1069.7,276.5 L1068.8,275.6 L1068.2,275.0 L1067.0,273.9 L1066.4,273.4 L1065.2,272.5 L1064.3,271.9 L1063.3,271.3 L1061.8,270.4 L1061.5,270.3 L1059.7,269.4 L1058.4,268.9 L1057.8,268.7 L1056.0,268.1 L1054.2,267.5 L1053.5,267.4 L1052.3,267.1 L1050.5,266.8 L1048.7,266.5 L1046.8,266.3 L1045.0,266.1 L1043.2,266.0 L1041.3,266.0 L1039.5,266.0 L1037.7,266.1 L1035.8,266.3 L1034.0,266.5 L1032.2,266.8 L1030.3,267.3 L1029.9,267.4 L1028.5,267.8 L1026.7,268.5 L1025.8,268.9 L1024.8,269.4 L1023.0,270.4 L1023.0,270.4 L1021.2,271.7 L1020.9,271.9 L1019.3,273.3 L1019.1,273.4 L1017.5,275.0 L1017.5,275.0 L1016.1,276.5 L1015.6,276.9 L1014.7,278.0 L1013.8,278.9 L1013.2,279.5 L1012.0,280.8 L1011.8,281.0 L1010.3,282.5 L1010.1,282.7 L1008.9,284.1 L1008.3,284.6 L1007.4,285.6 L1006.5,286.5 L1006.0,287.1 L1004.6,288.6 L1004.6,288.6 L1003.4,290.1 L1002.8,291.0 L1002.4,291.6 L1001.4,293.2 L1001.0,294.0 L1000.6,294.7 L1000.0,296.2 L999.6,297.7 L999.3,299.2 L999.1,300.7 L999.1,300.7 L999.1,300.9 L999.2,302.3 L999.3,303.8 L999.7,305.3 L1000.1,306.8 L1000.8,308.3 L1001.0,308.7 L1001.5,309.8 L1002.5,311.4 L1002.8,311.8 L1003.6,312.9 L1004.6,314.2 L1004.8,314.4 L1006.3,315.9 L1006.5,316.1 L1007.9,317.4 L1008.3,317.7 L1009.8,318.9 L1010.1,319.2 L1011.9,320.5 L1012.0,320.5 L1013.8,321.7 L1014.3,322.0 L1015.6,322.7 L1017.1,323.5 L1017.5,323.7 L1019.3,324.6 L1020.2,325.0 L1021.2,325.4 L1023.0,326.2 L1023.9,326.5 L1024.8,326.9 L1026.7,327.5 L1028.2,328.0 L1028.5,328.1 L1030.3,328.7 L1032.2,329.2 L1033.2,329.5 L1034.0,329.8 L1035.8,330.2 L1037.7,330.7 L1039.4,331.1 L1039.5,331.1 L1041.3,331.5 L1043.2,331.8 L1045.0,332.1 L1046.8,332.4 L1047.9,332.6 L1048.7,332.7" fill="none" stroke="#9090ff" stroke-width="1.5"/>
<path d="M1043.2,326.6 L1045.0,326.8 L1046.8,327.1 L1048.7,327.3 L1050.5,327.4 L1052.3,327.5 L1054.2,327.5 L1056.0,327.4 L1057.8,327.3 L1059.7,327.0 L1061.5,326.7 L1062.3,326.5 L1063.3,326.2 L1065.2,325.5 L1066.4,325.0 L1067.0,324.7 L1068.8,323.6 L1069.0,323.5 L1070.7,322.1 L1070.8,322.0 L1072.2,320.5 L1072.5,320.0 L1073.2,318.9 L1074.0,317.4 L1074.4,316.4 L1074.5,315.9 L1074.9,314.4 L1075.2,312.9 L1075.3,311.4 L1075.3,309.8 L1075.2,308.3 L1075.1,306.8 L1074.9,305.3 L1074.6,303.8 L1074.4,302.7 L1074.2,302.3 L1073.8,300.7 L1073.4,299.2 L1072.9,297.7 L1072.5,296.7 L1072.3,296.2 L1071.7,294.7 L1071.1,293.2 L1070.7,292.2 L1070.4,291.6 L1069.7,290.1 L1068.9,288.6 L1068.8,288.5 L1068.0,287.1 L1067.0,285.6 L1067.0,285.6 L1065.9,284.1 L1065.2,283.2 L1064.6,282.5 L1063.3,281.2 L1063.1,281.0 L1061.5,279.7 L1061.3,279.5 L1059.7,278.4 L1059.1,278.0 L1057.8,277.3 L1056.1,276.5 L1056.0,276.5 L1054.2,275.8 L1052.3,275.3 L1050.8,275.0 L1050.5,274.9 L1048.7,274.7 L1046.8,274.5 L1045.0,274.5 L1043.2,274.6 L1041.3,274.9 L1040.9,275.0 L1039.5,275.3 L1037.7,275.8 L1035.8,276.5 L1035.8,276.5 L1034.0,277.3 L1032.8,278.0 L1032.2,278.4 L1030.5,279.5 L1030.3,279.6 L1028.5,281.0 L1028.5,281.0 L1026.7,282.5 L1026.7,282.5 L1024.8,284.1 L1024.8,284.1 L1023.0,285.6 L1023.0,285.6 L1021.2,287.0 L1021.1,287.1 L1019.3,288.4 L1019.1,288.6 L1017.5,289.9 L1017.1,290.1 L1015.6,291.3 L1015.2,291.6 L1013.8,292.9 L1013.5,293.2 L1012.0,294.7 L1012.0,294.7 L1010.7,296.2 L1010.1,297.0 L1009.7,297.7 L1008.9,299.2 L1008.4,300.7 L1008.3,301.3 L1008.1,302.3 L1008.1,303.8 L1008.3,305.3 L1008.3,305.5 L1008.6,306.8 L1009.2,308.3 L1010.0,309.8 L1010.1,310.0 L1011.1,311.4 L1012.0,312.5 L1012.3,312.9 L1013.8,314.4 L1013.8,314.4 L1015.6,315.9 L1015.6,316.0 L1017.5,317.3 L1017.6,317.4 L1019.3,318.5 L1020.1,318.9 L1021.2,319.5 L1023.0,320.5 L1023.0,320.5 L1024.8,321.3 L1026.4,322.0 L1026.7,322.0 L1028.5,322.7 L1030.3,323.4 L1030.6,323.5 L1032.2,324.0 L1034.0,324.5 L1035.8,325.0 L1035.8,325.0 L1037.7,325.4 L1039.5,325.8 L1041.3,326.2 L1042.9,326.5 L1043.2,326.6" fill="none" stroke="#9090ff" stroke-width="1.5"/>
<path d="M1265.7,634.7 L1267.6,635.4 L1269.5,635.7 L1271.4,635.5 L1273.3,634.6 L1274.0,633.9 L1275.2,632.6 L1276.0,631.4 L1277.1,629.8 L1277.6,628.9 L1278.9,626.9 L1279.3,626.5 L1280.8,624.8 L1281.8,624.0 L1282.7,623.4 L1284.6,622.6 L1286.5,622.1 L1288.4,621.9 L1290.3,621.8 L1292.2,622.0 L1294.1,622.2 L1295.9,622.5 L1297.8,622.9 L1299.7,623.3 L1301.6,623.7 L1302.8,624.0 L1303.5,624.2 L1305.4,624.7 L1307.3,625.1 L1309.2,625.5 L1311.1,625.9 L1312.9,626.3 L1314.0,626.5 L1314.8,626.6 L1316.7,626.9 L1318.6,627.2 L1320.5,627.3 L1322.4,627.4 L1324.3,627.5 L1326.2,627.5 L1328.1,627.4 L1329.9,627.3 L1331.8,627.1 L1333.7,626.9 L1335.6,626.6 L1336.6,626.5 L1337.5,626.3 L1339.4,626.0 L1341.3,625.6 L1343.2,625.2 L1345.1,624.7 L1346.9,624.2 L1347.4,624.0 L1348.8,623.5 L1350.7,622.8 L1352.6,621.9 L1353.4,621.5 L1354.5,620.9 L1356.4,619.7 L1357.2,619.1 L1358.3,618.2 L1359.9,616.6 L1360.2,616.3 L1361.9,614.1 L1362.1,613.9 L1363.5,611.7 L1363.9,610.9 L1364.8,609.2 L1365.8,606.8 L1365.9,606.7 L1366.8,604.3 L1367.6,601.8 L1367.7,601.3 L1368.3,599.3 L1369.0,596.9 L1369.6,594.4 L1369.6,594.4 L1370.3,591.9 L1371.0,589.5 L1371.5,587.8 L1371.8,587.0 L1372.7,584.5 L1373.4,582.6 L1373.6,582.1 L1374.7,579.6 L1375.3,578.4 L1375.9,577.1 L1377.2,574.7 L1377.2,574.7 L1378.4,572.2 L1379.1,570.9 L1379.7,569.7 L1380.8,567.3 L1380.9,566.9 L1381.8,564.8 L1382.8,562.3 L1382.8,562.2 L1383.6,559.9 L1384.4,557.4 L1384.7,556.1 L1385.0,554.9 L1385.6,552.5 L1386.1,550.0 L1386.5,547.5 L1386.6,546.5 L1386.8,545.1 L1387.0,542.6 L1387.1,540.1 L1387.2,537.7 L1387.2,535.2 L1387.1,532.7 L1387.0,530.3 L1386.8,527.8 L1386.6,525.4 L1386.6,525.3 L1386.4,522.9 L1386.2,520.4 L1385.9,517.9 L1385.7,515.5 L1385.5,513.0 L1385.4,510.5 L1385.3,508.1 L1385.3,505.6 L1385.3,503.1 L1385.5,500.7 L1385.7,498.2 L1385.9,495.7 L1386.3,493.3 L1386.6,490.8 L1386.6,490.2 L1386.8,488.3 L1387.0,485.9 L1387.1,483.4 L1387.0,480.9 L1386.8,478.5 L1386.6,477.4 L1386.4,476.0 L1385.9,473.5 L1385.2,471.1 L1384.7,469.6 L1384.4,468.6 L1383.5,466.1 L1382.8,464.7 L1382.4,463.7 L1381.2,461.2 L1380.9,460.8 L1379.8,458.7 L1379.1,457.4 L1378.4,456.3 L1377.2,454.4 L1376.8,453.8 L1375.3,451.7 L1375.0,451.3 L1373.4,449.3 L1373.1,448.9 L1371.5,447.0 L1370.9,446.4 L1369.6,445.0 L1368.5,443.9 L1367.7,443.1 L1365.9,441.5 L1365.8,441.4 L1363.9,439.8 L1362.8,439.0 L1362.1,438.4 L1360.2,437.1 L1359.3,436.5 L1358.3,435.9 L1356.4,434.8 L1355.1,434.1 L1354.5,433.7 L1352.6,432.7 L1350.7,431.7 L1350.5,431.6 L1348.8,430.7 L1346.9,429.7 L1345.8,429.1 L1345.1,428.7 L1343.2,427.7 L1341.5,426.7 L1341.3,426.5 L1339.4,425.4 L1337.6,424.2 L1337.5,424.1 L1335.6,422.8 L1334.2,421.7 L1333.7,421.4 L1331.8,419.8 L1331.2,419.3 L1329.9,418.2 L1328.4,416.8 L1328.1,416.5 L1326.2,414.6 L1325.9,414.3 L1324.3,412.7 L1323.6,411.9 L1322.4,410.6 L1321.4,409.4 L1320.5,408.3 L1319.4,406.9 L1318.6,406.0 L1317.5,404.5 L1316.7,403.5 L1315.6,402.0 L1314.8,400.9 L1313.9,399.5 L1312.9,398.3 L1312.1,397.1 L1311.1,395.6 L1310.4,394.6 L1309.2,392.8 L1308.7,392.1 L1307.3,390.1 L1307.0,389.7 L1305.4,387.4 L1305.2,387.2 L1303.5,384.8 L1303.5,384.7 L1301.7,382.3 L1301.6,382.2 L1299.8,379.8 L1299.7,379.7 L1297.8,377.3 L1297.8,377.3 L1295.9,375.0 L1295.8,374.9 L1294.1,372.8 L1293.7,372.4 L1292.2,370.7 L1291.5,369.9 L1290.3,368.7 L1289.1,367.5 L1288.4,366.7 L1286.7,365.0 L1286.5,364.8 L1284.6,363.0 L1284.1,362.5 L1282.7,361.2 L1281.5,360.1 L1280.8,359.5 L1278.9,357.8 L1278.7,357.6 L1277.1,356.1 L1275.9,355.1 L1275.2,354.5 L1273.3,352.9 L1273.1,352.7 L1271.4,351.2 L1270.1,350.2 L1269.5,349.7 L1267.6,348.1 L1267.1,347.7 L1265.7,346.6 L1264.0,345.3 L1263.8,345.1 L1261.9,343.6 L1260.9,342.8 L1260.1,342.2 L1258.2,340.7 L1257.6,340.3 L1256.3,339.3 L1254.4,338.0 L1254.2,337.9 L1252.5,336.6 L1250.6,335.4 L1250.6,335.4 L1248.7,334.1 L1246.8,333.0 L1246.8,332.9 L1245.0,331.8 L1243.1,330.7 L1242.6,330.5 L1241.2,329.6 L1239.3,328.6 L1238.0,328.0 L1237.4,327.7 L1235.5,326.7 L1233.6,325.9 L1232.9,325.5 L1231.7,325.0 L1229.8,324.2 L1228.0,323.4 L1227.0,323.1 L1226.1,322.7 L1224.2,322.0 L1222.3,321.2 L1220.5,320.6 L1220.4,320.6 L1218.5,319.8 L1216.6,319.1 L1214.7,318.4 L1214.0,318.1 L1212.8,317.7 L1211.0,316.9 L1209.1,316.2 L1207.7,315.7 L1207.2,315.5 L1205.3,314.7 L1203.4,314.0 L1201.5,313.4 L1201.0,313.2 L1199.6,312.7 L1197.7,312.1 L1195.8,311.6 L1194.0,311.3 L1192.1,311.0 L1190.2,310.9 L1188.3,311.0 L1186.4,311.2 L1184.5,311.7 L1182.6,312.3 L1180.8,313.2 L1180.7,313.2 L1178.8,314.2 L1177.0,315.4 L1176.5,315.7 L1175.1,316.6 L1173.2,317.8 L1172.6,318.1 L1171.3,318.9 L1169.4,319.9 L1167.8,320.6 L1167.5,320.7 L1165.6,321.3 L1163.7,321.7 L1161.8,321.9 L1160.0,321.9 L1158.1,321.7 L1156.2,321.3 L1154.3,320.8 L1153.8,320.6 L1152.4,320.1 L1150.5,319.4 L1148.6,318.6 L1147.5,318.1 L1146.7,317.8 L1144.8,317.0 L1143.0,316.2 L1141.5,315.7 L1141.1,315.5 L1139.2,314.9 L1137.3,314.4 L1135.4,314.0 L1133.5,313.8 L1131.6,314.0 L1129.7,314.5 L1127.9,315.7 L1127.8,315.7 L1126.0,318.0 L1125.9,318.1 L1124.8,320.6 L1124.2,323.1 L1124.1,323.6 L1123.8,325.5 L1123.5,328.0 L1123.4,330.5 L1123.4,332.9 L1123.5,335.4 L1123.7,337.9 L1124.0,340.3 L1124.1,341.0 L1124.3,342.8 L1124.7,345.3 L1125.2,347.7 L1125.7,350.2 L1126.0,351.0 L1126.4,352.7 L1127.1,355.1 L1127.8,357.2 L1128.0,357.6 L1128.9,360.1 L1129.7,361.9 L1130.0,362.5 L1131.2,365.0 L1131.6,365.9 L1132.4,367.5 L1133.5,369.3 L1133.8,369.9 L1135.4,372.4 L1135.4,372.4 L1137.0,374.9 L1137.3,375.3 L1138.8,377.3 L1139.2,377.9 L1140.6,379.8 L1141.1,380.4 L1142.5,382.3 L1143.0,382.9 L1144.4,384.7 L1144.8,385.3 L1146.3,387.2 L1146.7,387.8 L1148.2,389.7 L1148.6,390.3 L1150.0,392.1 L1150.5,392.9 L1151.6,394.6 L1152.4,395.7 L1153.2,397.1 L1154.3,398.8 L1154.7,399.5 L1156.0,402.0 L1156.2,402.4 L1157.2,404.5 L1158.1,406.4 L1158.3,406.9 L1159.3,409.4 L1160.0,411.2 L1160.2,411.9 L1161.0,414.3 L1161.8,416.8 L1161.8,416.9 L1162.5,419.3 L1163.2,421.7 L1163.7,423.7 L1163.9,424.2 L1164.5,426.7 L1165.1,429.1 L1165.6,431.0 L1165.8,431.6 L1166.4,434.1 L1167.0,436.5 L1167.5,438.3 L1167.7,439.0 L1168.3,441.5 L1169.0,443.9 L1169.4,445.1 L1169.7,446.4 L1170.4,448.9 L1171.2,451.3 L1171.3,451.6 L1171.9,453.8 L1172.7,456.3 L1173.2,457.6 L1173.5,458.7 L1174.3,461.2 L1175.1,463.3 L1175.2,463.7 L1176.0,466.1 L1176.8,468.6 L1177.0,468.9 L1177.7,471.1 L1178.5,473.5 L1178.8,474.4 L1179.4,476.0 L1180.3,478.5 L1180.7,479.7 L1181.1,480.9 L1182.0,483.4 L1182.6,485.0 L1182.9,485.9 L1183.8,488.3 L1184.5,490.2 L1184.7,490.8 L1185.6,493.3 L1186.4,495.2 L1186.6,495.7 L1187.5,498.2 L1188.3,500.1 L1188.5,500.7 L1189.5,503.1 L1190.2,504.7 L1190.5,505.6 L1191.6,508.1 L1192.1,509.2 L1192.6,510.5 L1193.7,513.0 L1194.0,513.6 L1194.8,515.5 L1195.8,517.8 L1195.9,517.9 L1197.0,520.4 L1197.7,522.0 L1198.1,522.9 L1199.2,525.3 L1199.6,526.2 L1200.3,527.8 L1201.4,530.3 L1201.5,530.4 L1202.5,532.7 L1203.4,534.9 L1203.5,535.2 L1204.5,537.7 L1205.3,539.5 L1205.5,540.1 L1206.4,542.6 L1207.2,544.6 L1207.3,545.1 L1208.2,547.5 L1209.0,550.0 L1209.1,550.3 L1209.7,552.5 L1210.5,554.9 L1211.0,556.4 L1211.3,557.4 L1212.0,559.9 L1212.8,562.3 L1212.8,562.5 L1213.5,564.8 L1214.4,567.3 L1214.7,568.3 L1215.2,569.7 L1216.2,572.2 L1216.6,573.4 L1217.1,574.7 L1218.2,577.1 L1218.5,577.9 L1219.3,579.6 L1220.4,581.9 L1220.5,582.1 L1221.7,584.5 L1222.3,585.5 L1223.1,587.0 L1224.2,588.9 L1224.5,589.5 L1226.0,591.9 L1226.1,592.0 L1227.6,594.4 L1228.0,594.9 L1229.3,596.9 L1229.8,597.6 L1231.1,599.3 L1231.7,600.2 L1232.9,601.8 L1233.6,602.7 L1234.8,604.3 L1235.5,605.1 L1236.8,606.7 L1237.4,607.4 L1238.9,609.2 L1239.3,609.7 L1241.0,611.7 L1241.2,611.8 L1243.1,614.0 L1243.2,614.1 L1245.0,616.1 L1245.5,616.6 L1246.8,618.1 L1247.7,619.1 L1248.7,620.1 L1250.1,621.5 L1250.6,622.1 L1252.5,624.0 L1252.5,624.1 L1254.4,625.9 L1255.0,626.5 L1256.3,627.7 L1257.6,628.9 L1258.2,629.4 L1260.1,631.0 L1260.6,631.4 L1261.9,632.5 L1263.8,633.7 L1264.1,633.9 L1265.7,634.7" fill="none" stroke="#ff9090" stroke-width="1.5"/>
<path d="M1309.2,606.8 L1311.1,607.1 L1312.9,607.3 L1314.8,607.4 L1316.7,607.6 L1318.6,607.6 L1320.5,607.6 L1322.4,607.6 L1324.3,607.5 L1326.2,607.3 L1328.1,607.2 L1329.9,606.9 L1331.4,606.7 L1331.8,606.7 L1333.7,606.3 L1335.6,605.9 L1337.5,605.4 L1339.4,604.8 L1340.7,604.3 L1341.3,604.0 L1343.2,603.0 L1345.0,601.8 L1345.1,601.8 L1346.9,600.1 L1347.7,599.3 L1348.8,597.9 L1349.6,596.9 L1350.7,594.9 L1351.0,594.4 L1352.0,591.9 L1352.6,590.2 L1352.8,589.5 L1353.5,587.0 L1354.0,584.5 L1354.4,582.1 L1354.5,581.5 L1354.8,579.6 L1355.1,577.1 L1355.4,574.7 L1355.7,572.2 L1356.0,569.7 L1356.3,567.3 L1356.4,567.0 L1356.8,564.8 L1357.3,562.3 L1357.8,559.9 L1358.3,558.1 L1358.5,557.4 L1359.2,554.9 L1359.9,552.5 L1360.2,551.6 L1360.7,550.0 L1361.4,547.5 L1362.0,545.1 L1362.1,544.7 L1362.5,542.6 L1363.0,540.1 L1363.3,537.7 L1363.5,535.2 L1363.7,532.7 L1363.7,530.3 L1363.6,527.8 L1363.5,525.3 L1363.3,522.9 L1363.0,520.4 L1362.7,517.9 L1362.3,515.5 L1362.1,514.3 L1361.8,513.0 L1361.3,510.5 L1360.8,508.1 L1360.3,505.6 L1360.2,505.1 L1359.7,503.1 L1359.1,500.7 L1358.5,498.2 L1358.3,497.3 L1357.9,495.7 L1357.2,493.3 L1356.5,490.8 L1356.4,490.6 L1355.7,488.3 L1354.8,485.9 L1354.5,484.9 L1353.9,483.4 L1352.9,480.9 L1352.6,480.2 L1351.8,478.5 L1350.7,476.2 L1350.6,476.0 L1349.3,473.5 L1348.8,472.8 L1347.8,471.1 L1346.9,469.8 L1346.1,468.6 L1345.1,467.1 L1344.3,466.1 L1343.2,464.7 L1342.3,463.7 L1341.3,462.4 L1340.2,461.2 L1339.4,460.3 L1338.0,458.7 L1337.5,458.2 L1335.7,456.3 L1335.6,456.2 L1333.7,454.3 L1333.3,453.8 L1331.8,452.3 L1330.9,451.3 L1329.9,450.3 L1328.6,448.9 L1328.1,448.3 L1326.3,446.4 L1326.2,446.3 L1324.3,444.1 L1324.1,443.9 L1322.4,441.9 L1322.0,441.5 L1320.5,439.6 L1320.0,439.0 L1318.6,437.2 L1318.1,436.5 L1316.7,434.7 L1316.3,434.1 L1314.8,432.1 L1314.5,431.6 L1312.9,429.3 L1312.8,429.1 L1311.2,426.7 L1311.1,426.5 L1309.6,424.2 L1309.2,423.5 L1308.1,421.7 L1307.3,420.4 L1306.6,419.3 L1305.4,417.2 L1305.2,416.8 L1303.7,414.3 L1303.5,414.0 L1302.3,411.9 L1301.6,410.6 L1300.9,409.4 L1299.7,407.3 L1299.5,406.9 L1298.1,404.5 L1297.8,404.0 L1296.7,402.0 L1295.9,400.7 L1295.3,399.5 L1294.1,397.5 L1293.8,397.1 L1292.3,394.6 L1292.2,394.4 L1290.7,392.1 L1290.3,391.4 L1289.1,389.7 L1288.4,388.6 L1287.5,387.2 L1286.5,385.9 L1285.7,384.7 L1284.6,383.2 L1283.9,382.3 L1282.7,380.7 L1282.0,379.8 L1280.8,378.3 L1280.0,377.3 L1278.9,376.0 L1278.0,374.9 L1277.1,373.8 L1275.8,372.4 L1275.2,371.6 L1273.6,369.9 L1273.3,369.6 L1271.4,367.6 L1271.3,367.5 L1269.5,365.7 L1268.8,365.0 L1267.6,363.8 L1266.3,362.5 L1265.7,362.0 L1263.8,360.3 L1263.6,360.1 L1261.9,358.6 L1260.7,357.6 L1260.1,357.0 L1258.2,355.5 L1257.7,355.1 L1256.3,354.0 L1254.5,352.7 L1254.4,352.6 L1252.5,351.2 L1251.0,350.2 L1250.6,349.9 L1248.7,348.7 L1247.1,347.7 L1246.8,347.6 L1245.0,346.4 L1243.1,345.4 L1242.8,345.3 L1241.2,344.4 L1239.3,343.5 L1237.7,342.8 L1237.4,342.7 L1235.5,341.9 L1233.6,341.1 L1231.7,340.4 L1231.5,340.3 L1229.8,339.7 L1228.0,339.1 L1226.1,338.5 L1224.2,337.9 L1224.0,337.9 L1222.3,337.3 L1220.4,336.8 L1218.5,336.2 L1216.6,335.7 L1215.4,335.4 L1214.7,335.2 L1212.8,334.7 L1211.0,334.2 L1209.1,333.8 L1207.2,333.4 L1205.3,333.1 L1204.1,332.9 L1203.4,332.8 L1201.5,332.6 L1199.6,332.5 L1197.7,332.5 L1195.8,332.7 L1194.0,332.9 L1193.9,332.9 L1192.1,333.3 L1190.2,333.9 L1188.3,334.6 L1186.5,335.4 L1186.4,335.4 L1184.5,336.5 L1182.6,337.7 L1182.3,337.9 L1180.7,339.0 L1179.0,340.3 L1178.8,340.5 L1177.0,342.1 L1176.2,342.8 L1175.1,343.8 L1173.6,345.3 L1173.2,345.7 L1171.3,347.6 L1171.1,347.7 L1169.4,349.6 L1168.8,350.2 L1167.5,351.7 L1166.6,352.7 L1165.6,354.1 L1164.8,355.1 L1163.7,357.4 L1163.6,357.6 L1162.8,360.1 L1162.6,362.5 L1162.6,365.0 L1162.9,367.5 L1163.4,369.9 L1163.7,371.0 L1164.0,372.4 L1164.7,374.9 L1165.5,377.3 L1165.6,377.7 L1166.2,379.8 L1167.0,382.3 L1167.5,383.8 L1167.8,384.7 L1168.5,387.2 L1169.3,389.7 L1169.4,390.1 L1170.0,392.1 L1170.6,394.6 L1171.3,397.0 L1171.3,397.1 L1171.9,399.5 L1172.4,402.0 L1173.0,404.5 L1173.2,405.3 L1173.5,406.9 L1174.0,409.4 L1174.4,411.9 L1174.9,414.3 L1175.1,415.5 L1175.3,416.8 L1175.7,419.3 L1176.1,421.7 L1176.5,424.2 L1176.9,426.7 L1177.0,426.9 L1177.3,429.1 L1177.8,431.6 L1178.2,434.1 L1178.7,436.5 L1178.8,437.0 L1179.2,439.0 L1179.8,441.5 L1180.4,443.9 L1180.7,445.4 L1181.0,446.4 L1181.6,448.9 L1182.3,451.3 L1182.6,452.5 L1183.0,453.8 L1183.7,456.3 L1184.5,458.7 L1184.5,458.8 L1185.3,461.2 L1186.1,463.7 L1186.4,464.6 L1186.9,466.1 L1187.7,468.6 L1188.3,470.1 L1188.6,471.1 L1189.5,473.5 L1190.2,475.4 L1190.4,476.0 L1191.3,478.5 L1192.1,480.5 L1192.2,480.9 L1193.2,483.4 L1194.0,485.4 L1194.1,485.9 L1195.1,488.3 L1195.8,490.2 L1196.1,490.8 L1197.1,493.3 L1197.7,494.8 L1198.1,495.7 L1199.1,498.2 L1199.6,499.3 L1200.2,500.7 L1201.3,503.1 L1201.5,503.5 L1202.5,505.6 L1203.4,507.5 L1203.6,508.1 L1204.8,510.5 L1205.3,511.4 L1206.1,513.0 L1207.2,515.1 L1207.4,515.5 L1208.7,517.9 L1209.1,518.7 L1210.0,520.4 L1211.0,522.1 L1211.4,522.9 L1212.7,525.3 L1212.8,525.5 L1214.1,527.8 L1214.7,528.9 L1215.5,530.3 L1216.6,532.2 L1216.9,532.7 L1218.3,535.2 L1218.5,535.6 L1219.7,537.7 L1220.4,539.0 L1221.0,540.1 L1222.3,542.5 L1222.3,542.6 L1223.6,545.1 L1224.2,546.2 L1224.9,547.5 L1226.1,550.0 L1226.1,550.0 L1227.3,552.5 L1228.0,554.0 L1228.4,554.9 L1229.6,557.4 L1229.8,558.0 L1230.7,559.9 L1231.7,562.1 L1231.9,562.3 L1233.1,564.8 L1233.6,565.9 L1234.3,567.3 L1235.5,569.4 L1235.7,569.7 L1237.2,572.2 L1237.4,572.6 L1238.8,574.7 L1239.3,575.3 L1240.7,577.1 L1241.2,577.7 L1242.9,579.6 L1243.1,579.8 L1245.0,581.5 L1245.6,582.1 L1246.8,583.1 L1248.7,584.4 L1249.0,584.5 L1250.6,585.5 L1252.5,586.4 L1253.8,587.0 L1254.4,587.3 L1256.3,588.0 L1258.2,588.7 L1260.1,589.4 L1260.4,589.5 L1261.9,590.0 L1263.8,590.7 L1265.7,591.4 L1267.3,591.9 L1267.6,592.0 L1269.5,592.8 L1271.4,593.5 L1273.3,594.3 L1273.6,594.4 L1275.2,595.1 L1277.1,595.9 L1278.9,596.7 L1279.4,596.9 L1280.8,597.5 L1282.7,598.3 L1284.6,599.1 L1285.2,599.3 L1286.5,599.9 L1288.4,600.7 L1290.3,601.4 L1291.3,601.8 L1292.2,602.1 L1294.1,602.8 L1295.9,603.5 L1297.8,604.1 L1298.4,604.3 L1299.7,604.7 L1301.6,605.2 L1303.5,605.7 L1305.4,606.1 L1307.3,606.5 L1308.7,606.7 L1309.2,606.8" fill="none" stroke="#ff9090" stroke-width="1.5"/>
<path d="M1303.5,594.8 L1305.4,595.2 L1307.3,595.5 L1309.2,595.7 L1311.1,595.9 L1312.9,596.0 L1314.8,596.0 L1316.7,596.0 L1318.6,596.0 L1320.5,595.9 L1322.4,595.8 L1324.3,595.6 L1326.2,595.3 L1328.1,595.0 L1329.9,594.6 L1330.6,594.4 L1331.8,594.0 L1333.7,593.3 L1335.6,592.4 L1336.4,591.9 L1337.5,591.2 L1339.4,589.5 L1339.5,589.5 L1341.3,587.2 L1341.4,587.0 L1342.7,584.5 L1343.2,583.5 L1343.7,582.1 L1344.4,579.6 L1344.9,577.1 L1345.1,575.7 L1345.2,574.7 L1345.4,572.2 L1345.6,569.7 L1345.7,567.3 L1345.8,564.8 L1345.9,562.3 L1346.0,559.9 L1346.1,557.4 L1346.2,554.9 L1346.4,552.5 L1346.6,550.0 L1346.8,547.5 L1346.9,546.1 L1347.1,545.1 L1347.3,542.6 L1347.6,540.1 L1347.8,537.7 L1348.0,535.2 L1348.1,532.7 L1348.1,530.3 L1348.0,527.8 L1347.7,525.3 L1347.4,522.9 L1347.0,520.4 L1346.9,520.3 L1346.4,517.9 L1345.8,515.5 L1345.1,513.0 L1345.0,513.0 L1344.2,510.5 L1343.3,508.1 L1343.2,507.7 L1342.4,505.6 L1341.3,503.1 L1341.3,503.1 L1340.2,500.7 L1339.4,499.0 L1339.0,498.2 L1337.8,495.7 L1337.5,495.2 L1336.5,493.3 L1335.6,491.6 L1335.2,490.8 L1333.9,488.3 L1333.7,488.1 L1332.5,485.9 L1331.8,484.7 L1331.1,483.4 L1329.9,481.4 L1329.7,480.9 L1328.3,478.5 L1328.1,478.1 L1326.8,476.0 L1326.2,474.9 L1325.4,473.5 L1324.3,471.7 L1323.9,471.1 L1322.4,468.6 L1322.4,468.5 L1321.0,466.1 L1320.5,465.3 L1319.5,463.7 L1318.6,462.1 L1318.1,461.2 L1316.7,458.9 L1316.6,458.7 L1315.2,456.3 L1314.8,455.7 L1313.7,453.8 L1312.9,452.5 L1312.3,451.3 L1311.1,449.3 L1310.8,448.9 L1309.4,446.4 L1309.2,446.0 L1308.0,443.9 L1307.3,442.6 L1306.7,441.5 L1305.4,439.1 L1305.3,439.0 L1304.0,436.5 L1303.5,435.5 L1302.8,434.1 L1301.6,431.8 L1301.5,431.6 L1300.3,429.1 L1299.7,428.0 L1299.1,426.7 L1297.9,424.2 L1297.8,424.0 L1296.8,421.7 L1295.9,419.9 L1295.7,419.3 L1294.5,416.8 L1294.1,415.8 L1293.4,414.3 L1292.3,411.9 L1292.2,411.6 L1291.1,409.4 L1290.3,407.6 L1290.0,406.9 L1288.8,404.5 L1288.4,403.7 L1287.5,402.0 L1286.5,400.1 L1286.2,399.5 L1284.9,397.1 L1284.6,396.6 L1283.5,394.6 L1282.7,393.3 L1282.0,392.1 L1280.8,390.2 L1280.5,389.7 L1278.9,387.3 L1278.9,387.2 L1277.2,384.7 L1277.1,384.6 L1275.4,382.3 L1275.2,382.0 L1273.5,379.8 L1273.3,379.5 L1271.5,377.3 L1271.4,377.2 L1269.5,375.0 L1269.4,374.9 L1267.6,372.9 L1267.2,372.4 L1265.7,370.9 L1264.8,369.9 L1263.8,369.0 L1262.3,367.5 L1261.9,367.2 L1260.1,365.4 L1259.6,365.0 L1258.2,363.8 L1256.6,362.5 L1256.3,362.3 L1254.4,360.8 L1253.4,360.1 L1252.5,359.4 L1250.6,358.1 L1249.9,357.6 L1248.7,356.8 L1246.8,355.7 L1245.9,355.1 L1245.0,354.6 L1243.1,353.6 L1241.2,352.7 L1241.2,352.7 L1239.3,351.8 L1237.4,351.0 L1235.5,350.2 L1235.4,350.2 L1233.6,349.5 L1231.7,348.8 L1229.8,348.2 L1228.3,347.7 L1228.0,347.6 L1226.1,347.0 L1224.2,346.5 L1222.3,346.0 L1220.4,345.5 L1219.6,345.3 L1218.5,345.0 L1216.6,344.5 L1214.7,344.1 L1212.8,343.7 L1211.0,343.3 L1209.1,343.0 L1207.6,342.8 L1207.2,342.7 L1205.3,342.6 L1203.4,342.5 L1201.5,342.5 L1199.6,342.6 L1198.5,342.8 L1197.7,342.9 L1195.8,343.3 L1194.0,343.9 L1192.1,344.7 L1191.0,345.3 L1190.2,345.7 L1188.3,347.0 L1187.4,347.7 L1186.4,348.6 L1184.7,350.2 L1184.5,350.5 L1182.7,352.7 L1182.6,352.9 L1181.1,355.1 L1180.7,355.9 L1179.9,357.6 L1178.9,360.1 L1178.8,360.2 L1178.1,362.5 L1177.5,365.0 L1177.1,367.5 L1177.0,369.5 L1176.9,369.9 L1176.8,372.4 L1176.9,374.9 L1177.0,376.5 L1177.0,377.3 L1177.2,379.8 L1177.5,382.3 L1177.8,384.7 L1178.2,387.2 L1178.6,389.7 L1178.8,391.2 L1179.0,392.1 L1179.4,394.6 L1179.8,397.1 L1180.2,399.5 L1180.6,402.0 L1180.7,402.6 L1181.0,404.5 L1181.4,406.9 L1181.7,409.4 L1182.1,411.9 L1182.4,414.3 L1182.6,415.7 L1182.8,416.8 L1183.1,419.3 L1183.4,421.7 L1183.7,424.2 L1184.0,426.7 L1184.4,429.1 L1184.5,430.1 L1184.7,431.6 L1185.1,434.1 L1185.5,436.5 L1186.0,439.0 L1186.4,441.3 L1186.4,441.5 L1186.9,443.9 L1187.5,446.4 L1188.1,448.9 L1188.3,449.6 L1188.7,451.3 L1189.4,453.8 L1190.1,456.3 L1190.2,456.5 L1190.8,458.7 L1191.6,461.2 L1192.1,462.6 L1192.4,463.7 L1193.2,466.1 L1194.0,468.2 L1194.1,468.6 L1195.0,471.1 L1195.8,473.4 L1195.9,473.5 L1196.8,476.0 L1197.7,478.3 L1197.8,478.5 L1198.7,480.9 L1199.6,483.1 L1199.7,483.4 L1200.8,485.9 L1201.5,487.6 L1201.8,488.3 L1202.9,490.8 L1203.4,492.0 L1204.0,493.3 L1205.1,495.7 L1205.3,496.1 L1206.3,498.2 L1207.2,500.1 L1207.5,500.7 L1208.7,503.1 L1209.1,503.8 L1210.0,505.6 L1211.0,507.3 L1211.4,508.1 L1212.7,510.5 L1212.8,510.7 L1214.2,513.0 L1214.7,513.9 L1215.7,515.5 L1216.6,516.9 L1217.3,517.9 L1218.5,519.8 L1218.9,520.4 L1220.4,522.5 L1220.6,522.9 L1222.3,525.2 L1222.4,525.3 L1224.2,527.8 L1224.2,527.8 L1226.0,530.3 L1226.1,530.3 L1227.9,532.7 L1228.0,532.8 L1229.8,535.2 L1229.8,535.2 L1231.7,537.6 L1231.7,537.7 L1233.6,540.0 L1233.7,540.1 L1235.5,542.5 L1235.6,542.6 L1237.4,544.9 L1237.5,545.1 L1239.3,547.3 L1239.5,547.5 L1241.2,549.8 L1241.4,550.0 L1243.1,552.2 L1243.3,552.5 L1245.0,554.6 L1245.2,554.9 L1246.8,556.9 L1247.2,557.4 L1248.7,559.2 L1249.3,559.9 L1250.6,561.3 L1251.5,562.3 L1252.5,563.4 L1253.9,564.8 L1254.4,565.3 L1256.3,567.2 L1256.4,567.3 L1258.2,568.9 L1259.1,569.7 L1260.1,570.6 L1261.9,572.2 L1261.9,572.2 L1263.8,573.8 L1265.0,574.7 L1265.7,575.3 L1267.6,576.7 L1268.2,577.1 L1269.5,578.1 L1271.4,579.5 L1271.6,579.6 L1273.3,580.8 L1275.2,582.1 L1275.2,582.1 L1277.1,583.3 L1278.9,584.5 L1279.1,584.5 L1280.8,585.6 L1282.7,586.7 L1283.3,587.0 L1284.6,587.7 L1286.5,588.7 L1288.1,589.5 L1288.4,589.6 L1290.3,590.5 L1292.2,591.3 L1293.8,591.9 L1294.1,592.0 L1295.9,592.7 L1297.8,593.3 L1299.7,593.9 L1301.6,594.4 L1301.7,594.4 L1303.5,594.8" fill="none" stroke="#ff9090" stroke-width="1.5"/>
<path d="M1307.3,584.5 L1309.2,584.7 L1311.1,584.7 L1312.9,584.7 L1314.8,584.7 L1316.6,584.5 L1316.7,584.5 L1318.6,584.3 L1320.5,584.0 L1322.4,583.6 L1324.3,583.1 L1326.2,582.4 L1327.0,582.1 L1328.1,581.5 L1329.9,580.2 L1330.7,579.6 L1331.8,578.3 L1332.7,577.1 L1333.7,575.3 L1334.0,574.7 L1334.8,572.2 L1335.4,569.7 L1335.6,567.9 L1335.7,567.3 L1335.9,564.8 L1335.9,562.3 L1335.9,559.9 L1335.9,557.4 L1335.8,554.9 L1335.8,552.5 L1335.7,550.0 L1335.7,547.5 L1335.7,545.1 L1335.7,542.6 L1335.8,540.1 L1335.8,537.7 L1335.9,535.2 L1335.9,532.7 L1335.9,530.3 L1335.7,527.8 L1335.6,526.1 L1335.6,525.3 L1335.3,522.9 L1334.9,520.4 L1334.4,517.9 L1333.8,515.5 L1333.7,515.3 L1333.1,513.0 L1332.3,510.5 L1331.8,509.4 L1331.4,508.1 L1330.4,505.6 L1329.9,504.6 L1329.3,503.1 L1328.2,500.7 L1328.1,500.4 L1327.0,498.2 L1326.2,496.5 L1325.8,495.7 L1324.5,493.3 L1324.3,492.8 L1323.2,490.8 L1322.4,489.3 L1321.9,488.3 L1320.5,485.9 L1320.5,485.9 L1319.1,483.4 L1318.6,482.5 L1317.7,480.9 L1316.7,479.2 L1316.3,478.5 L1314.9,476.0 L1314.8,476.0 L1313.4,473.5 L1312.9,472.7 L1312.0,471.1 L1311.1,469.4 L1310.6,468.6 L1309.2,466.2 L1309.1,466.1 L1307.7,463.7 L1307.3,462.9 L1306.3,461.2 L1305.4,459.6 L1304.9,458.7 L1303.5,456.3 L1303.5,456.2 L1302.2,453.8 L1301.6,452.8 L1300.8,451.3 L1299.7,449.2 L1299.5,448.9 L1298.3,446.4 L1297.8,445.5 L1297.1,443.9 L1295.9,441.6 L1295.9,441.5 L1294.7,439.0 L1294.1,437.5 L1293.6,436.5 L1292.6,434.1 L1292.2,433.1 L1291.6,431.6 L1290.6,429.1 L1290.3,428.3 L1289.7,426.7 L1288.7,424.2 L1288.4,423.3 L1287.8,421.7 L1287.0,419.3 L1286.5,418.1 L1286.1,416.8 L1285.2,414.3 L1284.6,412.9 L1284.2,411.9 L1283.3,409.4 L1282.7,408.1 L1282.3,406.9 L1281.2,404.5 L1280.8,403.6 L1280.1,402.0 L1278.9,399.5 L1278.9,399.5 L1277.7,397.1 L1277.1,395.9 L1276.4,394.6 L1275.2,392.5 L1275.0,392.1 L1273.5,389.7 L1273.3,389.4 L1271.9,387.2 L1271.4,386.5 L1270.1,384.7 L1269.5,383.9 L1268.3,382.3 L1267.6,381.4 L1266.3,379.8 L1265.7,379.1 L1264.2,377.3 L1263.8,376.9 L1261.9,374.9 L1261.9,374.9 L1260.1,373.0 L1259.4,372.4 L1258.2,371.3 L1256.7,369.9 L1256.3,369.6 L1254.4,368.0 L1253.7,367.5 L1252.5,366.6 L1250.6,365.2 L1250.3,365.0 L1248.7,364.0 L1246.8,362.8 L1246.4,362.5 L1245.0,361.7 L1243.1,360.7 L1241.8,360.1 L1241.2,359.8 L1239.3,358.9 L1237.4,358.1 L1236.1,357.6 L1235.5,357.4 L1233.6,356.7 L1231.7,356.0 L1229.8,355.4 L1229.0,355.1 L1228.0,354.8 L1226.1,354.2 L1224.2,353.7 L1222.3,353.2 L1220.4,352.7 L1220.4,352.7 L1218.5,352.2 L1216.6,351.8 L1214.7,351.4 L1212.8,351.0 L1211.0,350.7 L1209.1,350.5 L1207.2,350.4 L1205.3,350.4 L1203.4,350.5 L1201.5,350.8 L1199.6,351.2 L1197.7,351.8 L1195.8,352.6 L1195.8,352.7 L1194.0,353.8 L1192.2,355.1 L1192.1,355.3 L1190.2,357.3 L1189.9,357.6 L1188.3,360.0 L1188.2,360.1 L1187.0,362.5 L1186.4,364.1 L1186.1,365.0 L1185.4,367.5 L1184.9,369.9 L1184.6,372.4 L1184.5,373.4 L1184.4,374.9 L1184.3,377.3 L1184.4,379.8 L1184.5,382.3 L1184.5,382.3 L1184.7,384.7 L1184.9,387.2 L1185.2,389.7 L1185.5,392.1 L1185.9,394.6 L1186.3,397.1 L1186.4,397.9 L1186.6,399.5 L1187.0,402.0 L1187.4,404.5 L1187.8,406.9 L1188.1,409.4 L1188.3,410.6 L1188.5,411.9 L1188.8,414.3 L1189.1,416.8 L1189.4,419.3 L1189.7,421.7 L1190.0,424.2 L1190.2,425.6 L1190.3,426.7 L1190.6,429.1 L1190.9,431.6 L1191.3,434.1 L1191.6,436.5 L1192.0,439.0 L1192.1,439.3 L1192.4,441.5 L1192.9,443.9 L1193.4,446.4 L1194.0,448.9 L1194.0,448.9 L1194.5,451.3 L1195.2,453.8 L1195.8,456.2 L1195.9,456.3 L1196.6,458.7 L1197.4,461.2 L1197.7,462.3 L1198.2,463.7 L1199.0,466.1 L1199.6,467.8 L1199.9,468.6 L1200.8,471.1 L1201.5,472.9 L1201.8,473.5 L1202.8,476.0 L1203.4,477.6 L1203.8,478.5 L1204.8,480.9 L1205.3,482.0 L1205.9,483.4 L1207.1,485.9 L1207.2,486.1 L1208.2,488.3 L1209.1,490.0 L1209.4,490.8 L1210.7,493.3 L1211.0,493.7 L1212.0,495.7 L1212.8,497.2 L1213.4,498.2 L1214.7,500.4 L1214.9,500.7 L1216.4,503.1 L1216.6,503.4 L1218.1,505.6 L1218.5,506.2 L1219.9,508.1 L1220.4,508.8 L1221.8,510.5 L1222.3,511.2 L1223.8,513.0 L1224.2,513.4 L1226.1,515.5 L1226.1,515.5 L1228.0,517.3 L1228.6,517.9 L1229.8,519.0 L1231.5,520.4 L1231.7,520.6 L1233.6,522.0 L1234.9,522.9 L1235.5,523.3 L1237.4,524.4 L1239.0,525.3 L1239.3,525.5 L1241.2,526.5 L1243.1,527.5 L1243.8,527.8 L1245.0,528.4 L1246.8,529.4 L1248.3,530.3 L1248.7,530.5 L1250.6,531.8 L1251.9,532.7 L1252.5,533.2 L1254.4,535.0 L1254.6,535.2 L1256.3,537.1 L1256.8,537.7 L1258.2,539.6 L1258.5,540.1 L1260.0,542.6 L1260.1,542.7 L1261.3,545.1 L1261.9,546.4 L1262.5,547.5 L1263.7,550.0 L1263.8,550.4 L1264.9,552.5 L1265.7,554.1 L1266.1,554.9 L1267.5,557.4 L1267.6,557.6 L1269.0,559.9 L1269.5,560.6 L1270.7,562.3 L1271.4,563.2 L1272.6,564.8 L1273.3,565.6 L1274.7,567.3 L1275.2,567.8 L1277.0,569.7 L1277.1,569.8 L1278.9,571.6 L1279.6,572.2 L1280.8,573.2 L1282.6,574.7 L1282.7,574.7 L1284.6,576.1 L1286.2,577.1 L1286.5,577.4 L1288.4,578.5 L1290.3,579.5 L1290.4,579.6 L1292.2,580.5 L1294.1,581.3 L1295.9,582.0 L1296.0,582.1 L1297.8,582.7 L1299.7,583.2 L1301.6,583.7 L1303.5,584.0 L1305.4,584.3 L1307.2,584.5 L1307.3,584.5" fill="none" stroke="#ff9090" stroke-width="1.5"/>
<path d="M1299.7,569.9 L1301.6,570.3 L1303.5,570.5 L1305.4,570.6 L1307.3,570.6 L1309.2,570.4 L1311.1,570.1 L1312.5,569.7 L1312.9,569.6 L1314.8,568.8 L1316.7,567.8 L1317.5,567.3 L1318.6,566.3 L1319.9,564.8 L1320.5,563.7 L1321.1,562.3 L1321.7,559.9 L1322.1,557.4 L1322.2,554.9 L1322.1,552.5 L1322.1,550.0 L1322.0,547.5 L1322.0,545.1 L1322.1,542.6 L1322.3,540.1 L1322.4,539.7 L1322.6,537.7 L1323.0,535.2 L1323.4,532.7 L1323.8,530.3 L1324.1,527.8 L1324.3,525.3 L1324.3,525.0 L1324.3,522.9 L1324.3,520.4 L1324.3,520.3 L1324.1,517.9 L1323.7,515.5 L1323.3,513.0 L1322.7,510.5 L1322.4,509.5 L1322.0,508.1 L1321.2,505.6 L1320.5,503.8 L1320.3,503.1 L1319.2,500.7 L1318.6,499.2 L1318.2,498.2 L1317.0,495.7 L1316.7,495.2 L1315.8,493.3 L1314.8,491.5 L1314.5,490.8 L1313.2,488.3 L1312.9,488.0 L1311.8,485.9 L1311.1,484.6 L1310.4,483.4 L1309.2,481.3 L1308.9,480.9 L1307.5,478.5 L1307.3,478.1 L1306.0,476.0 L1305.4,475.0 L1304.5,473.5 L1303.5,471.9 L1303.0,471.1 L1301.6,468.8 L1301.5,468.6 L1300.0,466.1 L1299.7,465.7 L1298.5,463.7 L1297.8,462.5 L1297.1,461.2 L1295.9,459.3 L1295.6,458.7 L1294.2,456.3 L1294.1,455.9 L1292.9,453.8 L1292.2,452.5 L1291.6,451.3 L1290.3,448.9 L1290.3,448.8 L1289.1,446.4 L1288.4,444.8 L1288.0,443.9 L1286.9,441.5 L1286.5,440.5 L1285.9,439.0 L1285.0,436.5 L1284.6,435.6 L1284.1,434.1 L1283.2,431.6 L1282.7,430.0 L1282.5,429.1 L1281.7,426.7 L1281.0,424.2 L1280.8,423.7 L1280.3,421.7 L1279.6,419.3 L1278.9,417.1 L1278.9,416.8 L1278.1,414.3 L1277.4,411.9 L1277.1,410.9 L1276.6,409.4 L1275.7,406.9 L1275.2,405.5 L1274.8,404.5 L1273.8,402.0 L1273.3,400.9 L1272.7,399.5 L1271.5,397.1 L1271.4,396.8 L1270.2,394.6 L1269.5,393.3 L1268.8,392.1 L1267.6,390.2 L1267.3,389.7 L1265.7,387.3 L1265.6,387.2 L1263.8,384.7 L1263.8,384.7 L1261.9,382.4 L1261.9,382.3 L1260.1,380.2 L1259.7,379.8 L1258.2,378.2 L1257.3,377.3 L1256.3,376.4 L1254.6,374.9 L1254.4,374.7 L1252.5,373.1 L1251.6,372.4 L1250.6,371.7 L1248.7,370.4 L1248.1,369.9 L1246.8,369.2 L1245.0,368.0 L1243.9,367.5 L1243.1,367.0 L1241.2,366.0 L1239.3,365.2 L1238.9,365.0 L1237.4,364.3 L1235.5,363.6 L1233.6,362.9 L1232.7,362.5 L1231.7,362.2 L1229.8,361.5 L1228.0,360.9 L1226.1,360.3 L1225.2,360.1 L1224.2,359.8 L1222.3,359.2 L1220.4,358.7 L1218.5,358.3 L1216.6,357.9 L1215.2,357.6 L1214.7,357.5 L1212.8,357.2 L1211.0,357.1 L1209.1,357.0 L1207.2,357.0 L1205.3,357.2 L1203.4,357.5 L1203.2,357.6 L1201.5,358.1 L1199.6,358.9 L1197.8,360.1 L1197.7,360.1 L1195.8,361.8 L1195.1,362.5 L1194.0,364.1 L1193.4,365.0 L1192.1,367.5 L1192.1,367.6 L1191.3,369.9 L1190.6,372.4 L1190.2,374.9 L1190.2,375.4 L1190.0,377.3 L1189.9,379.8 L1189.9,382.3 L1190.0,384.7 L1190.2,387.2 L1190.2,387.4 L1190.4,389.7 L1190.7,392.1 L1191.0,394.6 L1191.4,397.1 L1191.7,399.5 L1192.1,401.5 L1192.1,402.0 L1192.5,404.5 L1193.0,406.9 L1193.4,409.4 L1193.8,411.9 L1194.0,413.1 L1194.2,414.3 L1194.5,416.8 L1194.9,419.3 L1195.2,421.7 L1195.6,424.2 L1195.8,426.3 L1195.9,426.7 L1196.2,429.1 L1196.5,431.6 L1196.9,434.1 L1197.2,436.5 L1197.6,439.0 L1197.7,440.0 L1198.0,441.5 L1198.4,443.9 L1198.9,446.4 L1199.4,448.9 L1199.6,449.8 L1200.0,451.3 L1200.6,453.8 L1201.2,456.3 L1201.5,457.2 L1202.0,458.7 L1202.7,461.2 L1203.4,463.2 L1203.6,463.7 L1204.4,466.1 L1205.3,468.4 L1205.4,468.6 L1206.4,471.1 L1207.2,473.0 L1207.4,473.5 L1208.5,476.0 L1209.1,477.3 L1209.6,478.5 L1210.8,480.9 L1211.0,481.2 L1212.1,483.4 L1212.8,484.8 L1213.4,485.9 L1214.7,488.2 L1214.8,488.3 L1216.4,490.8 L1216.6,491.2 L1218.0,493.3 L1218.5,494.0 L1219.8,495.7 L1220.4,496.6 L1221.7,498.2 L1222.3,498.9 L1224.0,500.7 L1224.2,500.9 L1226.1,502.7 L1226.5,503.1 L1228.0,504.4 L1229.6,505.6 L1229.8,505.8 L1231.7,507.1 L1233.4,508.1 L1233.6,508.2 L1235.5,509.2 L1237.4,510.1 L1238.3,510.5 L1239.3,511.0 L1241.2,511.9 L1243.1,512.7 L1243.8,513.0 L1245.0,513.5 L1246.8,514.4 L1248.7,515.3 L1249.1,515.5 L1250.6,516.3 L1252.5,517.3 L1253.7,517.9 L1254.4,518.4 L1256.3,519.5 L1257.7,520.4 L1258.2,520.7 L1260.1,522.0 L1261.3,522.9 L1261.9,523.4 L1263.8,524.9 L1264.5,525.3 L1265.7,526.4 L1267.3,527.8 L1267.6,528.1 L1269.5,529.9 L1269.8,530.3 L1271.4,532.0 L1272.1,532.7 L1273.3,534.4 L1273.9,535.2 L1275.2,537.1 L1275.5,537.7 L1276.9,540.1 L1277.1,540.6 L1278.0,542.6 L1278.9,545.1 L1278.9,545.2 L1279.8,547.5 L1280.7,550.0 L1280.8,550.4 L1281.6,552.5 L1282.7,554.9 L1282.7,555.0 L1284.0,557.4 L1284.6,558.4 L1285.6,559.9 L1286.5,561.1 L1287.5,562.3 L1288.4,563.3 L1290.0,564.8 L1290.3,565.0 L1292.2,566.4 L1293.4,567.3 L1294.1,567.6 L1295.9,568.6 L1297.8,569.3 L1299.0,569.7 L1299.7,569.9" fill="none" stroke="#ff9090" stroke-width="1.5"/>
<path d="M1277.1,520.8 L1278.9,521.2 L1280.8,521.4 L1282.7,521.5 L1284.6,521.3 L1286.5,520.9 L1288.4,520.4 L1288.4,520.4 L1290.3,519.8 L1292.2,519.2 L1294.1,518.7 L1295.9,518.1 L1296.9,517.9 L1297.8,517.7 L1299.7,517.3 L1301.6,517.0 L1303.5,516.6 L1305.4,516.0 L1306.5,515.5 L1307.3,515.0 L1309.2,513.2 L1309.3,513.0 L1310.3,510.5 L1310.6,508.1 L1310.6,505.6 L1310.2,503.1 L1309.6,500.7 L1309.2,499.3 L1308.8,498.2 L1307.9,495.7 L1307.3,494.3 L1306.9,493.3 L1305.7,490.8 L1305.4,490.2 L1304.5,488.3 L1303.5,486.5 L1303.2,485.9 L1301.8,483.4 L1301.6,483.0 L1300.4,480.9 L1299.7,479.8 L1299.0,478.5 L1297.8,476.6 L1297.5,476.0 L1296.0,473.5 L1295.9,473.5 L1294.5,471.1 L1294.1,470.4 L1293.0,468.6 L1292.2,467.2 L1291.5,466.1 L1290.3,464.1 L1290.0,463.7 L1288.6,461.2 L1288.4,460.9 L1287.2,458.7 L1286.5,457.5 L1285.8,456.3 L1284.6,454.0 L1284.5,453.8 L1283.2,451.3 L1282.7,450.3 L1282.1,448.9 L1280.9,446.4 L1280.8,446.2 L1279.9,443.9 L1278.9,441.5 L1278.9,441.5 L1278.0,439.0 L1277.2,436.5 L1277.1,436.0 L1276.5,434.1 L1275.8,431.6 L1275.2,429.1 L1275.2,429.0 L1274.6,426.7 L1274.1,424.2 L1273.5,421.7 L1273.3,420.7 L1273.0,419.3 L1272.4,416.8 L1271.8,414.3 L1271.4,412.5 L1271.2,411.9 L1270.5,409.4 L1269.8,406.9 L1269.5,406.1 L1269.0,404.5 L1268.0,402.0 L1267.6,401.0 L1267.0,399.5 L1265.9,397.1 L1265.7,396.8 L1264.6,394.6 L1263.8,393.3 L1263.1,392.1 L1261.9,390.3 L1261.5,389.7 L1260.1,387.6 L1259.8,387.2 L1258.2,385.2 L1257.8,384.7 L1256.3,383.1 L1255.5,382.3 L1254.4,381.2 L1252.9,379.8 L1252.5,379.4 L1250.6,377.8 L1250.0,377.3 L1248.7,376.4 L1246.8,375.0 L1246.6,374.9 L1245.0,373.8 L1243.1,372.7 L1242.5,372.4 L1241.2,371.7 L1239.3,370.8 L1237.5,369.9 L1237.4,369.9 L1235.5,369.1 L1233.6,368.3 L1231.7,367.6 L1231.5,367.5 L1229.8,366.9 L1228.0,366.2 L1226.1,365.6 L1224.2,365.0 L1224.2,365.0 L1222.3,364.5 L1220.4,364.0 L1218.5,363.5 L1216.6,363.1 L1214.7,362.8 L1212.8,362.6 L1211.0,362.6 L1209.1,362.6 L1207.2,362.9 L1205.3,363.3 L1203.4,364.1 L1201.7,365.0 L1201.5,365.1 L1199.6,366.8 L1199.0,367.5 L1197.7,369.2 L1197.3,369.9 L1196.1,372.4 L1195.8,373.2 L1195.4,374.9 L1194.8,377.3 L1194.5,379.8 L1194.4,382.3 L1194.4,384.7 L1194.5,387.2 L1194.7,389.7 L1194.9,392.1 L1195.2,394.6 L1195.6,397.1 L1195.8,398.7 L1196.0,399.5 L1196.4,402.0 L1196.9,404.5 L1197.3,406.9 L1197.7,409.0 L1197.8,409.4 L1198.3,411.9 L1198.8,414.3 L1199.2,416.8 L1199.6,419.0 L1199.7,419.3 L1200.1,421.7 L1200.5,424.2 L1200.9,426.7 L1201.3,429.1 L1201.5,430.4 L1201.7,431.6 L1202.1,434.1 L1202.4,436.5 L1202.8,439.0 L1203.2,441.5 L1203.4,442.6 L1203.6,443.9 L1204.1,446.4 L1204.6,448.9 L1205.1,451.3 L1205.3,451.9 L1205.8,453.8 L1206.4,456.3 L1207.1,458.7 L1207.2,458.8 L1207.9,461.2 L1208.8,463.7 L1209.1,464.4 L1209.7,466.1 L1210.7,468.6 L1211.0,469.2 L1211.8,471.1 L1212.8,473.3 L1212.9,473.5 L1214.2,476.0 L1214.7,477.0 L1215.5,478.5 L1216.6,480.4 L1217.0,480.9 L1218.5,483.4 L1218.5,483.4 L1220.2,485.9 L1220.4,486.1 L1222.2,488.3 L1222.3,488.5 L1224.2,490.7 L1224.3,490.8 L1226.1,492.6 L1226.8,493.3 L1228.0,494.3 L1229.6,495.7 L1229.8,495.9 L1231.7,497.3 L1233.0,498.2 L1233.6,498.6 L1235.5,499.8 L1236.9,500.7 L1237.4,500.9 L1239.3,502.0 L1241.2,503.0 L1241.4,503.1 L1243.1,504.1 L1245.0,505.0 L1246.0,505.6 L1246.8,506.0 L1248.7,507.1 L1250.6,508.0 L1250.7,508.1 L1252.5,509.1 L1254.4,510.1 L1255.2,510.5 L1256.3,511.1 L1258.2,512.1 L1259.8,513.0 L1260.1,513.2 L1261.9,514.2 L1263.8,515.2 L1264.4,515.5 L1265.7,516.2 L1267.6,517.1 L1269.4,517.9 L1269.5,518.0 L1271.4,518.9 L1273.3,519.6 L1275.2,520.3 L1275.7,520.4 L1277.1,520.8" fill="none" stroke="#ff9090" stroke-width="1.5"/>
<path d="M1267.6,506.0 L1269.5,506.3 L1271.4,506.4 L1273.3,506.3 L1275.2,506.0 L1276.8,505.6 L1277.1,505.5 L1278.9,504.7 L1280.8,503.7 L1281.6,503.1 L1282.7,502.3 L1284.5,500.7 L1284.6,500.5 L1286.4,498.2 L1286.5,498.1 L1287.7,495.7 L1288.4,493.5 L1288.5,493.3 L1288.7,490.8 L1288.6,488.3 L1288.4,487.0 L1288.2,485.9 L1287.6,483.4 L1286.7,480.9 L1286.5,480.4 L1285.8,478.5 L1284.7,476.0 L1284.6,475.9 L1283.5,473.5 L1282.7,472.1 L1282.2,471.1 L1280.9,468.6 L1280.8,468.5 L1279.5,466.1 L1278.9,465.1 L1278.2,463.7 L1277.1,461.7 L1276.8,461.2 L1275.4,458.7 L1275.2,458.4 L1274.0,456.3 L1273.3,454.9 L1272.7,453.8 L1271.4,451.3 L1271.4,451.3 L1270.2,448.9 L1269.5,447.2 L1269.1,446.4 L1268.2,443.9 L1267.6,442.3 L1267.3,441.5 L1266.6,439.0 L1266.0,436.5 L1265.7,435.2 L1265.5,434.1 L1265.1,431.6 L1264.7,429.1 L1264.4,426.7 L1264.2,424.2 L1263.9,421.7 L1263.8,421.4 L1263.6,419.3 L1263.3,416.8 L1262.9,414.3 L1262.5,411.9 L1262.0,409.4 L1261.9,409.4 L1261.3,406.9 L1260.6,404.5 L1260.1,402.9 L1259.7,402.0 L1258.7,399.5 L1258.2,398.4 L1257.5,397.1 L1256.3,394.8 L1256.2,394.6 L1254.5,392.1 L1254.4,391.9 L1252.7,389.7 L1252.5,389.5 L1250.6,387.3 L1250.5,387.2 L1248.7,385.5 L1247.9,384.7 L1246.8,383.8 L1245.0,382.3 L1244.9,382.3 L1243.1,381.0 L1241.3,379.8 L1241.2,379.7 L1239.3,378.6 L1237.4,377.6 L1237.0,377.3 L1235.5,376.6 L1233.6,375.7 L1231.9,374.9 L1231.7,374.8 L1229.8,374.0 L1228.0,373.3 L1226.1,372.6 L1225.6,372.4 L1224.2,371.9 L1222.3,371.4 L1220.4,370.9 L1218.5,370.5 L1216.6,370.2 L1214.7,370.0 L1212.8,370.0 L1211.0,370.2 L1209.1,370.6 L1207.2,371.4 L1205.6,372.4 L1205.3,372.7 L1203.4,374.7 L1203.3,374.9 L1201.9,377.3 L1201.5,378.4 L1201.1,379.8 L1200.5,382.3 L1200.3,384.7 L1200.2,387.2 L1200.2,389.7 L1200.4,392.1 L1200.7,394.6 L1201.0,397.1 L1201.4,399.5 L1201.5,400.0 L1201.9,402.0 L1202.4,404.5 L1203.0,406.9 L1203.4,408.6 L1203.6,409.4 L1204.2,411.9 L1204.8,414.3 L1205.3,416.1 L1205.5,416.8 L1206.1,419.3 L1206.8,421.7 L1207.2,423.5 L1207.4,424.2 L1208.0,426.7 L1208.5,429.1 L1209.1,431.6 L1209.1,431.6 L1209.6,434.1 L1210.1,436.5 L1210.5,439.0 L1211.0,441.3 L1211.0,441.5 L1211.5,443.9 L1211.9,446.4 L1212.4,448.9 L1212.8,450.8 L1213.0,451.3 L1213.6,453.8 L1214.2,456.3 L1214.7,457.9 L1215.0,458.7 L1215.8,461.2 L1216.6,463.4 L1216.7,463.7 L1217.8,466.1 L1218.5,467.7 L1218.9,468.6 L1220.2,471.1 L1220.4,471.5 L1221.6,473.5 L1222.3,474.7 L1223.2,476.0 L1224.2,477.5 L1224.9,478.5 L1226.1,480.0 L1226.9,480.9 L1228.0,482.2 L1229.1,483.4 L1229.8,484.2 L1231.5,485.9 L1231.7,486.0 L1233.6,487.7 L1234.3,488.3 L1235.5,489.3 L1237.4,490.7 L1237.5,490.8 L1239.3,492.1 L1241.0,493.3 L1241.2,493.4 L1243.1,494.6 L1244.8,495.7 L1245.0,495.8 L1246.8,497.0 L1248.7,498.1 L1249.0,498.2 L1250.6,499.1 L1252.5,500.1 L1253.6,500.7 L1254.4,501.1 L1256.3,502.0 L1258.2,502.9 L1258.8,503.1 L1260.1,503.7 L1261.9,504.4 L1263.8,505.0 L1265.7,505.6 L1265.8,505.6 L1267.6,506.0" fill="none" stroke="#ff9090" stroke-width="1.5"/>
<path d="M1260.1,493.7 L1261.9,493.9 L1263.8,494.0 L1265.7,493.8 L1267.6,493.3 L1267.7,493.3 L1269.5,492.2 L1271.0,490.8 L1271.4,490.2 L1272.4,488.3 L1273.1,485.9 L1273.2,483.4 L1273.0,480.9 L1272.5,478.5 L1271.7,476.0 L1271.4,475.2 L1270.7,473.5 L1269.6,471.1 L1269.5,470.9 L1268.3,468.6 L1267.6,467.5 L1266.8,466.1 L1265.7,464.5 L1265.2,463.7 L1263.8,461.7 L1263.5,461.2 L1261.9,459.0 L1261.7,458.7 L1260.1,456.5 L1259.9,456.3 L1258.2,453.9 L1258.1,453.8 L1256.3,451.3 L1256.3,451.2 L1254.7,448.9 L1254.4,448.3 L1253.3,446.4 L1252.5,444.8 L1252.1,443.9 L1251.2,441.5 L1250.8,439.0 L1250.6,437.3 L1250.6,436.5 L1250.6,434.1 L1250.6,434.0 L1250.8,431.6 L1251.2,429.1 L1251.5,426.7 L1251.9,424.2 L1252.1,421.7 L1252.3,419.3 L1252.4,416.8 L1252.3,414.3 L1252.1,411.9 L1251.8,409.4 L1251.3,406.9 L1250.7,404.5 L1250.6,404.3 L1249.8,402.0 L1248.7,399.6 L1248.7,399.5 L1247.3,397.1 L1246.8,396.3 L1245.7,394.6 L1245.0,393.7 L1243.7,392.1 L1243.1,391.5 L1241.3,389.7 L1241.2,389.6 L1239.3,387.9 L1238.4,387.2 L1237.4,386.5 L1235.5,385.1 L1235.0,384.7 L1233.6,383.9 L1231.7,382.8 L1230.8,382.3 L1229.8,381.8 L1228.0,380.9 L1226.1,380.1 L1225.3,379.8 L1224.2,379.4 L1222.3,378.8 L1220.4,378.4 L1218.5,378.1 L1216.6,378.0 L1214.7,378.2 L1212.8,378.6 L1211.0,379.6 L1210.7,379.8 L1209.1,381.4 L1208.5,382.3 L1207.3,384.7 L1207.2,385.1 L1206.7,387.2 L1206.4,389.7 L1206.4,392.1 L1206.5,394.6 L1206.8,397.1 L1207.2,399.5 L1207.2,399.5 L1207.7,402.0 L1208.3,404.5 L1209.0,406.9 L1209.1,407.1 L1209.8,409.4 L1210.6,411.9 L1211.0,412.8 L1211.5,414.3 L1212.4,416.8 L1212.8,417.9 L1213.4,419.3 L1214.4,421.7 L1214.7,422.5 L1215.5,424.2 L1216.5,426.7 L1216.6,427.0 L1217.5,429.1 L1218.5,431.6 L1218.5,431.7 L1219.4,434.1 L1220.2,436.5 L1220.4,437.2 L1221.0,439.0 L1221.6,441.5 L1222.1,443.9 L1222.3,445.0 L1222.5,446.4 L1223.0,448.9 L1223.4,451.3 L1223.9,453.8 L1224.2,455.1 L1224.4,456.3 L1225.1,458.7 L1225.8,461.2 L1226.1,461.8 L1226.8,463.7 L1227.8,466.1 L1228.0,466.4 L1229.1,468.6 L1229.8,470.0 L1230.5,471.1 L1231.7,473.0 L1232.1,473.5 L1233.6,475.6 L1233.9,476.0 L1235.5,477.8 L1236.1,478.5 L1237.4,479.9 L1238.5,480.9 L1239.3,481.7 L1241.2,483.4 L1241.2,483.4 L1243.1,484.9 L1244.3,485.9 L1245.0,486.3 L1246.8,487.6 L1247.9,488.3 L1248.7,488.8 L1250.6,489.9 L1252.2,490.8 L1252.5,490.9 L1254.4,491.8 L1256.3,492.5 L1258.2,493.2 L1258.4,493.3 L1260.1,493.7" fill="none" stroke="#ff9090" stroke-width="1.5"/>
<path d="M1250.6,476.3 L1252.5,476.7 L1254.4,476.3 L1254.6,476.0 L1254.7,473.5 L1254.4,472.8 L1253.5,471.1 L1252.5,469.8 L1251.5,468.6 L1250.6,467.8 L1248.7,466.5 L1248.0,466.1 L1246.8,465.7 L1245.0,465.8 L1244.6,466.1 L1244.2,468.6 L1245.0,470.7 L1245.1,471.1 L1246.8,473.5 L1246.9,473.5 L1248.7,475.0 L1250.1,476.0 L1250.6,476.3" fill="none" stroke="#ff9090" stroke-width="1.5"/>
<path d="M1226.1,421.9 L1228.0,423.0 L1229.8,423.6 L1231.7,423.8 L1233.6,423.4 L1235.5,422.5 L1236.4,421.7 L1237.4,420.8 L1238.5,419.3 L1239.3,418.0 L1239.9,416.8 L1240.7,414.3 L1241.1,411.9 L1241.2,409.9 L1241.2,409.4 L1241.2,409.2 L1241.0,406.9 L1240.4,404.5 L1239.6,402.0 L1239.3,401.4 L1238.4,399.5 L1237.4,397.9 L1236.8,397.1 L1235.5,395.4 L1234.8,394.6 L1233.6,393.4 L1232.3,392.1 L1231.7,391.7 L1229.8,390.3 L1228.9,389.7 L1228.0,389.1 L1226.1,388.1 L1224.2,387.3 L1223.7,387.2 L1222.3,386.8 L1220.4,386.6 L1218.5,386.7 L1217.0,387.2 L1216.6,387.4 L1214.7,389.1 L1214.3,389.7 L1213.4,392.1 L1213.0,394.6 L1213.1,397.1 L1213.4,399.5 L1213.9,402.0 L1214.6,404.5 L1214.7,404.8 L1215.5,406.9 L1216.6,409.4 L1216.6,409.5 L1217.9,411.9 L1218.5,413.1 L1219.3,414.3 L1220.4,416.0 L1221.0,416.8 L1222.3,418.4 L1223.1,419.3 L1224.2,420.4 L1225.9,421.7 L1226.1,421.9" fill="none" stroke="#ff9090" stroke-width="1.5"/>
<circle cx="1033.3" cy="177.3" r="4.65" fill="#0000ff" stroke="#fff" stroke-width="0.6"/>
<circle cx="1040.5" cy="177.3" r="4.65" fill="#0000ff" stroke="#fff" stroke-width="0.6"/>
<circle cx="1041.7" cy="186.7" r="4.65" fill="#0000ff" stroke="#fff" stroke-width="0.6"/>
<circle cx="1055.0" cy="186.2" r="4.65" fill="#0000ff" stroke="#fff" stroke-width="0.6"/>
<circle cx="1027.2" cy="194.5" r="4.65" fill="#0000ff" stroke="#fff" stroke-width="0.6"/>
<circle cx="1058.0" cy="194.1" r="4.65" fill="#0000ff" stroke="#fff" stroke-width="0.6"/>
<circle cx="1051.3" cy="203.7" r="4.65" fill="#0000ff" stroke="#fff" stroke-width="0.6"/>
<circle cx="1049.1" cy="209.6" r="4.65" fill="#0000ff" stroke="#fff" stroke-width="0.6"/>
<circle cx="1056.8" cy="209.3" r="4.65" fill="#0000ff" stroke="#fff" stroke-width="0.6"/>
<circle cx="1066.2" cy="210.1" r="4.65" fill="#0000ff" stroke="#fff" stroke-width="0.6"/>
<circle cx="1035.0" cy="215.3" r="4.65" fill="#0000ff" stroke="#fff" stroke-width="0.6"/>
<circle cx="1033.5" cy="234.1" r="4.65" fill="#0000ff" stroke="#fff" stroke-width="0.6"/>
<circle cx="1047.2" cy="234.1" r="4.65" fill="#0000ff" stroke="#fff" stroke-width="0.6"/>
<circle cx="987.6" cy="243.3" r="4.65" fill="#0000ff" stroke="#fff" stroke-width="0.6"/>
<circle cx="1001.2" cy="246.0" r="4.65" fill="#0000ff" stroke="#fff" stroke-width="0.6"/>
<circle cx="1014.7" cy="242.2" r="4.65" fill="#0000ff" stroke="#fff" stroke-width="0.6"/>
<circle cx="1014.7" cy="246.0" r="4.65" fill="#0000ff" stroke="#fff" stroke-width="0.6"/>
<circle cx="1061.3" cy="243.7" r="4.65" fill="#0000ff" stroke="#fff" stroke-width="0.6"/>
<circle cx="1042.9" cy="248.5" r="4.65" fill="#0000ff" stroke="#fff" stroke-width="0.6"/>
<circle cx="1037.7" cy="252.2" r="4.65" fill="#0000ff" stroke="#fff" stroke-width="0.6"/>
<circle cx="986.1" cy="257.1" r="4.65" fill="#0000ff" stroke="#fff" stroke-width="0.6"/>
<circle cx="999.0" cy="257.4" r="4.65" fill="#0000ff" stroke="#fff" stroke-width="0.6"/>
<circle cx="1015.0" cy="254.1" r="4.65" fill="#0000ff" stroke="#fff" stroke-width="0.6"/>
<circle cx="1022.4" cy="254.1" r="4.65" fill="#0000ff" stroke="#fff" stroke-width="0.6"/>
<circle cx="1061.0" cy="250.7" r="4.65" fill="#0000ff" stroke="#fff" stroke-width="0.6"/>
<circle cx="954.0" cy="260.5" r="4.65" fill="#0000ff" stroke="#fff" stroke-width="0.6"/>
<circle cx="1008.7" cy="262.0" r="4.65" fill="#0000ff" stroke="#fff" stroke-width="0.6"/>
<circle cx="1016.1" cy="262.3" r="4.65" fill="#0000ff" stroke="#fff" stroke-width="0.6"/>
<circle cx="1027.2" cy="263.3" r="4.65" fill="#0000ff" stroke="#fff" stroke-width="0.6"/>
<circle cx="1059.2" cy="257.8" r="4.65" fill="#0000ff" stroke="#fff" stroke-width="0.6"/>
<circle cx="1058.7" cy="263.7" r="4.65" fill="#0000ff" stroke="#fff" stroke-width="0.6"/>
<circle cx="1072.2" cy="193.6" r="4.65" fill="#0000ff" stroke="#fff" stroke-width="0.6"/>
<circle cx="1072.2" cy="204.0" r="4.65" fill="#0000ff" stroke="#fff" stroke-width="0.6"/>
<circle cx="1087.9" cy="210.4" r="4.65" fill="#0000ff" stroke="#fff" stroke-width="0.6"/>
<circle cx="1101.2" cy="238.8" r="4.65" fill="#0000ff" stroke="#fff" stroke-width="0.6"/>
<circle cx="1130.7" cy="238.5" r="4.65" fill="#0000ff" stroke="#fff" stroke-width="0.6"/>
<circle cx="1097.8" cy="250.7" r="4.65" fill="#0000ff" stroke="#fff" stroke-width="0.6"/>
<circle cx="1094.8" cy="252.2" r="4.65" fill="#0000ff" stroke="#fff" stroke-width="0.6"/>
<circle cx="1108.9" cy="259.3" r="4.65" fill="#0000ff" stroke="#fff" stroke-width="0.6"/>
<circle cx="1118.5" cy="263.4" r="4.65" fill="#0000ff" stroke="#fff" stroke-width="0.6"/>
<circle cx="1081.2" cy="263.3" r="4.65" fill="#0000ff" stroke="#fff" stroke-width="0.6"/>
<circle cx="1068.2" cy="263.0" r="4.65" fill="#0000ff" stroke="#fff" stroke-width="0.6"/>
<circle cx="986.1" cy="266.4" r="4.65" fill="#0000ff" stroke="#fff" stroke-width="0.6"/>
<circle cx="995.5" cy="270.2" r="4.65" fill="#0000ff" stroke="#fff" stroke-width="0.6"/>
<circle cx="1002.9" cy="267.6" r="4.65" fill="#0000ff" stroke="#fff" stroke-width="0.6"/>
<circle cx="1023.6" cy="267.6" r="4.65" fill="#0000ff" stroke="#fff" stroke-width="0.6"/>
<circle cx="1025.7" cy="271.6" r="4.65" fill="#0000ff" stroke="#fff" stroke-width="0.6"/>
<circle cx="1031.0" cy="270.2" r="4.65" fill="#0000ff" stroke="#fff" stroke-width="0.6"/>
<circle cx="1039.9" cy="271.6" r="4.65" fill="#0000ff" stroke="#fff" stroke-width="0.6"/>
<circle cx="1053.6" cy="271.6" r="4.65" fill="#0000ff" stroke="#fff" stroke-width="0.6"/>
<circle cx="1066.2" cy="269.4" r="4.65" fill="#0000ff" stroke="#fff" stroke-width="0.6"/>
<circle cx="1061.0" cy="275.3" r="4.65" fill="#0000ff" stroke="#fff" stroke-width="0.6"/>
<circle cx="1052.1" cy="267.9" r="4.65" fill="#0000ff" stroke="#fff" stroke-width="0.6"/>
<circle cx="954.0" cy="279.5" r="4.65" fill="#0000ff" stroke="#fff" stroke-width="0.6"/>
<circle cx="954.0" cy="289.4" r="4.65" fill="#0000ff" stroke="#fff" stroke-width="0.6"/>
<circle cx="972.8" cy="290.6" r="4.65" fill="#0000ff" stroke="#fff" stroke-width="0.6"/>
<circle cx="988.6" cy="283.9" r="4.65" fill="#0000ff" stroke="#fff" stroke-width="0.6"/>
<circle cx="986.1" cy="290.2" r="4.65" fill="#0000ff" stroke="#fff" stroke-width="0.6"/>
<circle cx="992.8" cy="290.9" r="4.65" fill="#0000ff" stroke="#fff" stroke-width="0.6"/>
<circle cx="999.9" cy="284.2" r="4.65" fill="#0000ff" stroke="#fff" stroke-width="0.6"/>
<circle cx="1000.2" cy="289.9" r="4.65" fill="#0000ff" stroke="#fff" stroke-width="0.6"/>
<circle cx="1010.3" cy="287.5" r="4.65" fill="#0000ff" stroke="#fff" stroke-width="0.6"/>
<circle cx="1016.5" cy="283.9" r="4.65" fill="#0000ff" stroke="#fff" stroke-width="0.6"/>
<circle cx="1012.1" cy="296.8" r="4.65" fill="#0000ff" stroke="#fff" stroke-width="0.6"/>
<circle cx="1006.4" cy="299.0" r="4.65" fill="#0000ff" stroke="#fff" stroke-width="0.6"/>
<circle cx="992.8" cy="299.0" r="4.65" fill="#0000ff" stroke="#fff" stroke-width="0.6"/>
<circle cx="992.8" cy="302.3" r="4.65" fill="#0000ff" stroke="#fff" stroke-width="0.6"/>
<circle cx="1025.7" cy="294.9" r="4.65" fill="#0000ff" stroke="#fff" stroke-width="0.6"/>
<circle cx="1034.0" cy="298.3" r="4.65" fill="#0000ff" stroke="#fff" stroke-width="0.6"/>
<circle cx="1032.8" cy="284.2" r="4.65" fill="#0000ff" stroke="#fff" stroke-width="0.6"/>
<circle cx="1039.5" cy="281.3" r="4.65" fill="#0000ff" stroke="#fff" stroke-width="0.6"/>
<circle cx="1039.5" cy="287.9" r="4.65" fill="#0000ff" stroke="#fff" stroke-width="0.6"/>
<circle cx="1047.3" cy="281.3" r="4.65" fill="#0000ff" stroke="#fff" stroke-width="0.6"/>
<circle cx="1047.2" cy="288.4" r="4.65" fill="#0000ff" stroke="#fff" stroke-width="0.6"/>
<circle cx="1049.1" cy="293.1" r="4.65" fill="#0000ff" stroke="#fff" stroke-width="0.6"/>
<circle cx="1055.8" cy="293.1" r="4.65" fill="#0000ff" stroke="#fff" stroke-width="0.6"/>
<circle cx="1053.6" cy="285.0" r="4.65" fill="#0000ff" stroke="#fff" stroke-width="0.6"/>
<circle cx="1062.7" cy="284.2" r="4.65" fill="#0000ff" stroke="#fff" stroke-width="0.6"/>
<circle cx="1069.1" cy="299.0" r="4.65" fill="#0000ff" stroke="#fff" stroke-width="0.6"/>
<circle cx="972.8" cy="311.6" r="4.65" fill="#0000ff" stroke="#fff" stroke-width="0.6"/>
<circle cx="980.6" cy="306.5" r="4.65" fill="#0000ff" stroke="#fff" stroke-width="0.6"/>
<circle cx="980.6" cy="311.6" r="4.65" fill="#0000ff" stroke="#fff" stroke-width="0.6"/>
<circle cx="986.9" cy="315.4" r="4.65" fill="#0000ff" stroke="#fff" stroke-width="0.6"/>
<circle cx="994.0" cy="315.4" r="4.65" fill="#0000ff" stroke="#fff" stroke-width="0.6"/>
<circle cx="1000.6" cy="320.5" r="4.65" fill="#0000ff" stroke="#fff" stroke-width="0.6"/>
<circle cx="1006.9" cy="308.0" r="4.65" fill="#0000ff" stroke="#fff" stroke-width="0.6"/>
<circle cx="1013.5" cy="311.6" r="4.65" fill="#0000ff" stroke="#fff" stroke-width="0.6"/>
<circle cx="1012.1" cy="316.8" r="4.65" fill="#0000ff" stroke="#fff" stroke-width="0.6"/>
<circle cx="1020.7" cy="306.2" r="4.65" fill="#0000ff" stroke="#fff" stroke-width="0.6"/>
<circle cx="1021.4" cy="316.1" r="4.65" fill="#0000ff" stroke="#fff" stroke-width="0.6"/>
<circle cx="1017.2" cy="303.2" r="4.65" fill="#0000ff" stroke="#fff" stroke-width="0.6"/>
<circle cx="1026.9" cy="310.9" r="4.65" fill="#0000ff" stroke="#fff" stroke-width="0.6"/>
<circle cx="1027.6" cy="316.1" r="4.65" fill="#0000ff" stroke="#fff" stroke-width="0.6"/>
<circle cx="1035.0" cy="308.2" r="4.65" fill="#0000ff" stroke="#fff" stroke-width="0.6"/>
<circle cx="1035.5" cy="316.1" r="4.65" fill="#0000ff" stroke="#fff" stroke-width="0.6"/>
<circle cx="1043.9" cy="304.7" r="4.65" fill="#0000ff" stroke="#fff" stroke-width="0.6"/>
<circle cx="1046.9" cy="315.4" r="4.65" fill="#0000ff" stroke="#fff" stroke-width="0.6"/>
<circle cx="1048.4" cy="320.5" r="4.65" fill="#0000ff" stroke="#fff" stroke-width="0.6"/>
<circle cx="1056.2" cy="311.6" r="4.65" fill="#0000ff" stroke="#fff" stroke-width="0.6"/>
<circle cx="1058.0" cy="316.1" r="4.65" fill="#0000ff" stroke="#fff" stroke-width="0.6"/>
<circle cx="1064.7" cy="307.9" r="4.65" fill="#0000ff" stroke="#fff" stroke-width="0.6"/>
<circle cx="1066.2" cy="315.4" r="4.65" fill="#0000ff" stroke="#fff" stroke-width="0.6"/>
<circle cx="1041.0" cy="318.3" r="4.65" fill="#0000ff" stroke="#fff" stroke-width="0.6"/>
<circle cx="1007.3" cy="327.2" r="4.65" fill="#0000ff" stroke="#fff" stroke-width="0.6"/>
<circle cx="1008.8" cy="331.7" r="4.65" fill="#0000ff" stroke="#fff" stroke-width="0.6"/>
<circle cx="999.9" cy="335.7" r="4.65" fill="#0000ff" stroke="#fff" stroke-width="0.6"/>
<circle cx="1009.1" cy="334.6" r="4.65" fill="#0000ff" stroke="#fff" stroke-width="0.6"/>
<circle cx="1021.4" cy="332.4" r="4.65" fill="#0000ff" stroke="#fff" stroke-width="0.6"/>
<circle cx="1025.4" cy="340.5" r="4.65" fill="#0000ff" stroke="#fff" stroke-width="0.6"/>
<circle cx="1031.0" cy="325.0" r="4.65" fill="#0000ff" stroke="#fff" stroke-width="0.6"/>
<circle cx="1035.0" cy="332.8" r="4.65" fill="#0000ff" stroke="#fff" stroke-width="0.6"/>
<circle cx="1039.5" cy="336.1" r="4.65" fill="#0000ff" stroke="#fff" stroke-width="0.6"/>
<circle cx="1044.4" cy="329.4" r="4.65" fill="#0000ff" stroke="#fff" stroke-width="0.6"/>
<circle cx="1051.8" cy="334.3" r="4.65" fill="#0000ff" stroke="#fff" stroke-width="0.6"/>
<circle cx="1056.8" cy="330.9" r="4.65" fill="#0000ff" stroke="#fff" stroke-width="0.6"/>
<circle cx="1053.6" cy="336.1" r="4.65" fill="#0000ff" stroke="#fff" stroke-width="0.6"/>
<circle cx="1066.9" cy="324.2" r="4.65" fill="#0000ff" stroke="#fff" stroke-width="0.6"/>
<circle cx="1067.6" cy="338.8" r="4.65" fill="#0000ff" stroke="#fff" stroke-width="0.6"/>
<circle cx="1066.2" cy="346.8" r="4.65" fill="#0000ff" stroke="#fff" stroke-width="0.6"/>
<circle cx="1042.9" cy="360.1" r="4.65" fill="#0000ff" stroke="#fff" stroke-width="0.6"/>
<circle cx="1056.2" cy="360.1" r="4.65" fill="#0000ff" stroke="#fff" stroke-width="0.6"/>
<circle cx="1063.3" cy="361.0" r="4.65" fill="#0000ff" stroke="#fff" stroke-width="0.6"/>
<circle cx="1080.7" cy="264.2" r="4.65" fill="#0000ff" stroke="#fff" stroke-width="0.6"/>
<circle cx="1080.7" cy="269.4" r="4.65" fill="#0000ff" stroke="#fff" stroke-width="0.6"/>
<circle cx="1098.2" cy="268.7" r="4.65" fill="#0000ff" stroke="#fff" stroke-width="0.6"/>
<circle cx="1118.5" cy="269.4" r="4.65" fill="#0000ff" stroke="#fff" stroke-width="0.6"/>
<circle cx="1136.3" cy="268.7" r="4.65" fill="#0000ff" stroke="#fff" stroke-width="0.6"/>
<circle cx="1079.6" cy="278.6" r="4.65" fill="#0000ff" stroke="#fff" stroke-width="0.6"/>
<circle cx="1086.4" cy="282.0" r="4.65" fill="#0000ff" stroke="#fff" stroke-width="0.6"/>
<circle cx="1125.9" cy="276.1" r="4.65" fill="#0000ff" stroke="#fff" stroke-width="0.6"/>
<circle cx="1123.7" cy="282.0" r="4.65" fill="#0000ff" stroke="#fff" stroke-width="0.6"/>
<circle cx="1134.4" cy="279.0" r="4.65" fill="#0000ff" stroke="#fff" stroke-width="0.6"/>
<circle cx="1166.0" cy="279.0" r="4.65" fill="#0000ff" stroke="#fff" stroke-width="0.6"/>
<circle cx="1070.1" cy="287.2" r="4.65" fill="#0000ff" stroke="#fff" stroke-width="0.6"/>
<circle cx="1077.5" cy="288.7" r="4.65" fill="#0000ff" stroke="#fff" stroke-width="0.6"/>
<circle cx="1075.6" cy="294.9" r="4.65" fill="#0000ff" stroke="#fff" stroke-width="0.6"/>
<circle cx="1071.6" cy="299.8" r="4.65" fill="#0000ff" stroke="#fff" stroke-width="0.6"/>
<circle cx="1083.7" cy="300.2" r="4.65" fill="#0000ff" stroke="#fff" stroke-width="0.6"/>
<circle cx="1098.5" cy="300.8" r="4.65" fill="#0000ff" stroke="#fff" stroke-width="0.6"/>
<circle cx="1081.5" cy="305.0" r="4.65" fill="#0000ff" stroke="#fff" stroke-width="0.6"/>
<circle cx="1076.3" cy="306.5" r="4.65" fill="#0000ff" stroke="#fff" stroke-width="0.6"/>
<circle cx="1087.9" cy="313.1" r="4.65" fill="#0000ff" stroke="#fff" stroke-width="0.6"/>
<circle cx="1092.3" cy="308.7" r="4.65" fill="#0000ff" stroke="#fff" stroke-width="0.6"/>
<circle cx="1076.0" cy="317.6" r="4.65" fill="#0000ff" stroke="#fff" stroke-width="0.6"/>
<circle cx="1089.6" cy="322.5" r="4.65" fill="#0000ff" stroke="#fff" stroke-width="0.6"/>
<circle cx="1075.6" cy="322.8" r="4.65" fill="#0000ff" stroke="#fff" stroke-width="0.6"/>
<circle cx="1077.8" cy="331.7" r="4.65" fill="#0000ff" stroke="#fff" stroke-width="0.6"/>
<circle cx="1072.6" cy="334.6" r="4.65" fill="#0000ff" stroke="#fff" stroke-width="0.6"/>
<circle cx="1082.2" cy="330.2" r="4.65" fill="#0000ff" stroke="#fff" stroke-width="0.6"/>
<circle cx="1074.1" cy="342.0" r="4.65" fill="#0000ff" stroke="#fff" stroke-width="0.6"/>
<circle cx="1083.0" cy="341.3" r="4.65" fill="#0000ff" stroke="#fff" stroke-width="0.6"/>
<circle cx="1091.9" cy="337.6" r="4.65" fill="#0000ff" stroke="#fff" stroke-width="0.6"/>
<circle cx="1118.5" cy="303.8" r="4.65" fill="#0000ff" stroke="#fff" stroke-width="0.6"/>
<circle cx="1121.5" cy="299.8" r="4.65" fill="#0000ff" stroke="#fff" stroke-width="0.6"/>
<circle cx="1131.9" cy="307.2" r="4.65" fill="#0000ff" stroke="#fff" stroke-width="0.6"/>
<circle cx="1139.3" cy="306.5" r="4.65" fill="#0000ff" stroke="#fff" stroke-width="0.6"/>
<circle cx="1128.5" cy="318.6" r="4.65" fill="#0000ff" stroke="#fff" stroke-width="0.6"/>
<circle cx="1137.1" cy="316.1" r="4.65" fill="#0000ff" stroke="#fff" stroke-width="0.6"/>
<circle cx="1141.5" cy="312.4" r="4.65" fill="#0000ff" stroke="#fff" stroke-width="0.6"/>
<circle cx="1147.1" cy="315.1" r="4.65" fill="#0000ff" stroke="#fff" stroke-width="0.6"/>
<circle cx="1145.7" cy="322.5" r="4.65" fill="#0000ff" stroke="#fff" stroke-width="0.6"/>
<circle cx="1113.3" cy="323.9" r="4.65" fill="#0000ff" stroke="#fff" stroke-width="0.6"/>
<circle cx="1121.5" cy="324.5" r="4.65" fill="#0000ff" stroke="#fff" stroke-width="0.6"/>
<circle cx="1118.5" cy="330.5" r="4.65" fill="#0000ff" stroke="#fff" stroke-width="0.6"/>
<circle cx="1108.6" cy="338.8" r="4.65" fill="#0000ff" stroke="#fff" stroke-width="0.6"/>
<circle cx="1114.1" cy="336.8" r="4.65" fill="#0000ff" stroke="#fff" stroke-width="0.6"/>
<circle cx="1113.3" cy="342.0" r="4.65" fill="#0000ff" stroke="#fff" stroke-width="0.6"/>
<circle cx="1128.9" cy="336.1" r="4.65" fill="#0000ff" stroke="#fff" stroke-width="0.6"/>
<circle cx="1140.8" cy="333.9" r="4.65" fill="#0000ff" stroke="#fff" stroke-width="0.6"/>
<circle cx="1139.3" cy="339.4" r="4.65" fill="#0000ff" stroke="#fff" stroke-width="0.6"/>
<circle cx="1161.2" cy="334.6" r="4.65" fill="#0000ff" stroke="#fff" stroke-width="0.6"/>
<circle cx="1168.5" cy="331.7" r="4.65" fill="#0000ff" stroke="#fff" stroke-width="0.6"/>
<circle cx="1177.8" cy="325.0" r="4.65" fill="#0000ff" stroke="#fff" stroke-width="0.6"/>
<circle cx="1189.2" cy="334.3" r="4.65" fill="#0000ff" stroke="#fff" stroke-width="0.6"/>
<circle cx="1128.2" cy="357.6" r="4.65" fill="#0000ff" stroke="#fff" stroke-width="0.6"/>
<circle cx="1123.7" cy="371.1" r="4.65" fill="#0000ff" stroke="#fff" stroke-width="0.6"/>
<circle cx="1125.5" cy="310.2" r="4.65" fill="#ff0000" stroke="#fff" stroke-width="0.6"/>
<circle cx="1189.7" cy="310.2" r="4.65" fill="#ff0000" stroke="#fff" stroke-width="0.6"/>
<circle cx="1154.1" cy="346.5" r="4.65" fill="#ff0000" stroke="#fff" stroke-width="0.6"/>
<circle cx="1157.8" cy="349.7" r="4.65" fill="#ff0000" stroke="#fff" stroke-width="0.6"/>
<circle cx="1148.6" cy="353.6" r="4.65" fill="#ff0000" stroke="#fff" stroke-width="0.6"/>
<circle cx="1145.7" cy="357.1" r="4.65" fill="#ff0000" stroke="#fff" stroke-width="0.6"/>
<circle cx="1189.7" cy="356.8" r="4.65" fill="#ff0000" stroke="#fff" stroke-width="0.6"/>
<circle cx="1128.2" cy="366.9" r="4.65" fill="#ff0000" stroke="#fff" stroke-width="0.6"/>
<circle cx="1161.2" cy="382.7" r="4.65" fill="#ff0000" stroke="#fff" stroke-width="0.6"/>
<circle cx="1207.8" cy="350.7" r="4.65" fill="#ff0000" stroke="#fff" stroke-width="0.6"/>
<circle cx="1241.1" cy="354.4" r="4.65" fill="#ff0000" stroke="#fff" stroke-width="0.6"/>
<circle cx="1185.3" cy="375.5" r="4.65" fill="#ff0000" stroke="#fff" stroke-width="0.6"/>
<circle cx="1197.4" cy="372.5" r="4.65" fill="#ff0000" stroke="#fff" stroke-width="0.6"/>
<circle cx="1201.9" cy="371.9" r="4.65" fill="#ff0000" stroke="#fff" stroke-width="0.6"/>
<circle cx="1213.0" cy="367.5" r="4.65" fill="#ff0000" stroke="#fff" stroke-width="0.6"/>
<circle cx="1212.2" cy="374.0" r="4.65" fill="#ff0000" stroke="#fff" stroke-width="0.6"/>
<circle cx="1217.4" cy="377.0" r="4.65" fill="#ff0000" stroke="#fff" stroke-width="0.6"/>
<circle cx="1221.1" cy="380.8" r="4.65" fill="#ff0000" stroke="#fff" stroke-width="0.6"/>
<circle cx="1224.8" cy="368.5" r="4.65" fill="#ff0000" stroke="#fff" stroke-width="0.6"/>
<circle cx="1228.5" cy="372.5" r="4.65" fill="#ff0000" stroke="#fff" stroke-width="0.6"/>
<circle cx="1236.2" cy="367.0" r="4.65" fill="#ff0000" stroke="#fff" stroke-width="0.6"/>
<circle cx="1241.1" cy="369.0" r="4.65" fill="#ff0000" stroke="#fff" stroke-width="0.6"/>
<circle cx="1196.7" cy="382.6" r="4.65" fill="#ff0000" stroke="#fff" stroke-width="0.6"/>
<circle cx="1204.8" cy="382.9" r="4.65" fill="#ff0000" stroke="#fff" stroke-width="0.6"/>
<circle cx="1246.0" cy="381.1" r="4.65" fill="#ff0000" stroke="#fff" stroke-width="0.6"/>
<circle cx="1253.7" cy="378.9" r="4.65" fill="#ff0000" stroke="#fff" stroke-width="0.6"/>
<circle cx="1254.5" cy="381.9" r="4.65" fill="#ff0000" stroke="#fff" stroke-width="0.6"/>
<circle cx="1259.7" cy="375.5" r="4.65" fill="#ff0000" stroke="#fff" stroke-width="0.6"/>
<circle cx="1264.8" cy="385.6" r="4.65" fill="#ff0000" stroke="#fff" stroke-width="0.6"/>
<circle cx="1270.8" cy="390.0" r="4.65" fill="#ff0000" stroke="#fff" stroke-width="0.6"/>
<circle cx="1278.9" cy="390.3" r="4.65" fill="#ff0000" stroke="#fff" stroke-width="0.6"/>
<circle cx="1259.7" cy="392.2" r="4.65" fill="#ff0000" stroke="#fff" stroke-width="0.6"/>
<circle cx="1265.6" cy="394.5" r="4.65" fill="#ff0000" stroke="#fff" stroke-width="0.6"/>
<circle cx="1261.9" cy="398.2" r="4.65" fill="#ff0000" stroke="#fff" stroke-width="0.6"/>
<circle cx="1193.3" cy="401.9" r="4.65" fill="#ff0000" stroke="#fff" stroke-width="0.6"/>
<circle cx="1201.1" cy="405.6" r="4.65" fill="#ff0000" stroke="#fff" stroke-width="0.6"/>
<circle cx="1209.0" cy="396.2" r="4.65" fill="#ff0000" stroke="#fff" stroke-width="0.6"/>
<circle cx="1213.7" cy="397.4" r="4.65" fill="#ff0000" stroke="#fff" stroke-width="0.6"/>
<circle cx="1221.9" cy="397.4" r="4.65" fill="#ff0000" stroke="#fff" stroke-width="0.6"/>
<circle cx="1225.6" cy="395.2" r="4.65" fill="#ff0000" stroke="#fff" stroke-width="0.6"/>
<circle cx="1234.2" cy="392.2" r="4.65" fill="#ff0000" stroke="#fff" stroke-width="0.6"/>
<circle cx="1237.4" cy="397.4" r="4.65" fill="#ff0000" stroke="#fff" stroke-width="0.6"/>
<circle cx="1243.1" cy="391.8" r="4.65" fill="#ff0000" stroke="#fff" stroke-width="0.6"/>
<circle cx="1246.0" cy="397.7" r="4.65" fill="#ff0000" stroke="#fff" stroke-width="0.6"/>
<circle cx="1252.0" cy="392.2" r="4.65" fill="#ff0000" stroke="#fff" stroke-width="0.6"/>
<circle cx="1212.2" cy="400.4" r="4.65" fill="#ff0000" stroke="#fff" stroke-width="0.6"/>
<circle cx="1207.8" cy="408.5" r="4.65" fill="#ff0000" stroke="#fff" stroke-width="0.6"/>
<circle cx="1216.7" cy="409.3" r="4.65" fill="#ff0000" stroke="#fff" stroke-width="0.6"/>
<circle cx="1225.6" cy="409.3" r="4.65" fill="#ff0000" stroke="#fff" stroke-width="0.6"/>
<circle cx="1233.0" cy="406.3" r="4.65" fill="#ff0000" stroke="#fff" stroke-width="0.6"/>
<circle cx="1238.6" cy="410.0" r="4.65" fill="#ff0000" stroke="#fff" stroke-width="0.6"/>
<circle cx="1215.2" cy="414.5" r="4.65" fill="#ff0000" stroke="#fff" stroke-width="0.6"/>
<circle cx="1222.6" cy="415.2" r="4.65" fill="#ff0000" stroke="#fff" stroke-width="0.6"/>
<circle cx="1230.8" cy="415.2" r="4.65" fill="#ff0000" stroke="#fff" stroke-width="0.6"/>
<circle cx="1251.1" cy="406.0" r="4.65" fill="#ff0000" stroke="#fff" stroke-width="0.6"/>
<circle cx="1267.1" cy="404.5" r="4.65" fill="#ff0000" stroke="#fff" stroke-width="0.6"/>
<circle cx="1280.7" cy="409.3" r="4.65" fill="#ff0000" stroke="#fff" stroke-width="0.6"/>
<circle cx="1193.3" cy="415.2" r="4.65" fill="#ff0000" stroke="#fff" stroke-width="0.6"/>
<circle cx="1244.1" cy="420.8" r="4.65" fill="#ff0000" stroke="#fff" stroke-width="0.6"/>
<circle cx="1252.3" cy="420.8" r="4.65" fill="#ff0000" stroke="#fff" stroke-width="0.6"/>
<circle cx="1197.1" cy="429.7" r="4.65" fill="#ff0000" stroke="#fff" stroke-width="0.6"/>
<circle cx="1204.1" cy="429.3" r="4.65" fill="#ff0000" stroke="#fff" stroke-width="0.6"/>
<circle cx="1212.2" cy="430.0" r="4.65" fill="#ff0000" stroke="#fff" stroke-width="0.6"/>
<circle cx="1220.4" cy="430.0" r="4.65" fill="#ff0000" stroke="#fff" stroke-width="0.6"/>
<circle cx="1215.2" cy="434.2" r="4.65" fill="#ff0000" stroke="#fff" stroke-width="0.6"/>
<circle cx="1238.6" cy="433.7" r="4.65" fill="#ff0000" stroke="#fff" stroke-width="0.6"/>
<circle cx="1236.7" cy="438.2" r="4.65" fill="#ff0000" stroke="#fff" stroke-width="0.6"/>
<circle cx="1257.9" cy="430.0" r="4.65" fill="#ff0000" stroke="#fff" stroke-width="0.6"/>
<circle cx="1264.8" cy="434.5" r="4.65" fill="#ff0000" stroke="#fff" stroke-width="0.6"/>
<circle cx="1273.0" cy="435.2" r="4.65" fill="#ff0000" stroke="#fff" stroke-width="0.6"/>
<circle cx="1279.7" cy="437.4" r="4.65" fill="#ff0000" stroke="#fff" stroke-width="0.6"/>
<circle cx="1283.4" cy="441.1" r="4.65" fill="#ff0000" stroke="#fff" stroke-width="0.6"/>
<circle cx="1193.3" cy="437.7" r="4.65" fill="#ff0000" stroke="#fff" stroke-width="0.6"/>
<circle cx="1200.4" cy="444.8" r="4.65" fill="#ff0000" stroke="#fff" stroke-width="0.6"/>
<circle cx="1207.8" cy="444.8" r="4.65" fill="#ff0000" stroke="#fff" stroke-width="0.6"/>
<circle cx="1215.2" cy="448.5" r="4.65" fill="#ff0000" stroke="#fff" stroke-width="0.6"/>
<circle cx="1223.4" cy="443.4" r="4.65" fill="#ff0000" stroke="#fff" stroke-width="0.6"/>
<circle cx="1231.2" cy="447.1" r="4.65" fill="#ff0000" stroke="#fff" stroke-width="0.6"/>
<circle cx="1260.0" cy="443.4" r="4.65" fill="#ff0000" stroke="#fff" stroke-width="0.6"/>
<circle cx="1267.8" cy="442.6" r="4.65" fill="#ff0000" stroke="#fff" stroke-width="0.6"/>
<circle cx="1270.8" cy="453.0" r="4.65" fill="#ff0000" stroke="#fff" stroke-width="0.6"/>
<circle cx="1193.0" cy="448.5" r="4.65" fill="#ff0000" stroke="#fff" stroke-width="0.6"/>
<circle cx="1193.3" cy="457.4" r="4.65" fill="#ff0000" stroke="#fff" stroke-width="0.6"/>
<circle cx="1207.8" cy="457.4" r="4.65" fill="#ff0000" stroke="#fff" stroke-width="0.6"/>
<circle cx="1239.7" cy="459.7" r="4.65" fill="#ff0000" stroke="#fff" stroke-width="0.6"/>
<circle cx="1271.2" cy="458.2" r="4.65" fill="#ff0000" stroke="#fff" stroke-width="0.6"/>
<circle cx="1297.0" cy="380.1" r="4.65" fill="#ff0000" stroke="#fff" stroke-width="0.6"/>
<circle cx="1293.4" cy="404.5" r="4.65" fill="#ff0000" stroke="#fff" stroke-width="0.6"/>
<circle cx="1303.6" cy="424.4" r="4.65" fill="#ff0000" stroke="#fff" stroke-width="0.6"/>
<circle cx="1359.7" cy="432.2" r="4.65" fill="#ff0000" stroke="#fff" stroke-width="0.6"/>
<circle cx="1335.2" cy="440.1" r="4.65" fill="#ff0000" stroke="#fff" stroke-width="0.6"/>
<circle cx="1317.1" cy="443.1" r="4.65" fill="#ff0000" stroke="#fff" stroke-width="0.6"/>
<circle cx="1299.3" cy="443.1" r="4.65" fill="#ff0000" stroke="#fff" stroke-width="0.6"/>
<circle cx="1286.6" cy="439.7" r="4.65" fill="#ff0000" stroke="#fff" stroke-width="0.6"/>
<circle cx="1302.6" cy="456.4" r="4.65" fill="#ff0000" stroke="#fff" stroke-width="0.6"/>
<circle cx="1310.8" cy="458.9" r="4.65" fill="#ff0000" stroke="#fff" stroke-width="0.6"/>
<circle cx="1208.1" cy="466.9" r="4.65" fill="#ff0000" stroke="#fff" stroke-width="0.6"/>
<circle cx="1208.1" cy="472.0" r="4.65" fill="#ff0000" stroke="#fff" stroke-width="0.6"/>
<circle cx="1208.1" cy="475.7" r="4.65" fill="#ff0000" stroke="#fff" stroke-width="0.6"/>
<circle cx="1212.2" cy="485.4" r="4.65" fill="#ff0000" stroke="#fff" stroke-width="0.6"/>
<circle cx="1219.6" cy="476.9" r="4.65" fill="#ff0000" stroke="#fff" stroke-width="0.6"/>
<circle cx="1223.7" cy="471.3" r="4.65" fill="#ff0000" stroke="#fff" stroke-width="0.6"/>
<circle cx="1230.0" cy="466.1" r="4.65" fill="#ff0000" stroke="#fff" stroke-width="0.6"/>
<circle cx="1231.8" cy="472.0" r="4.65" fill="#ff0000" stroke="#fff" stroke-width="0.6"/>
<circle cx="1231.2" cy="475.7" r="4.65" fill="#ff0000" stroke="#fff" stroke-width="0.6"/>
<circle cx="1239.7" cy="463.9" r="4.65" fill="#ff0000" stroke="#fff" stroke-width="0.6"/>
<circle cx="1247.5" cy="463.9" r="4.65" fill="#ff0000" stroke="#fff" stroke-width="0.6"/>
<circle cx="1255.5" cy="463.9" r="4.65" fill="#ff0000" stroke="#fff" stroke-width="0.6"/>
<circle cx="1242.6" cy="476.5" r="4.65" fill="#ff0000" stroke="#fff" stroke-width="0.6"/>
<circle cx="1250.8" cy="476.5" r="4.65" fill="#ff0000" stroke="#fff" stroke-width="0.6"/>
<circle cx="1256.7" cy="469.5" r="4.65" fill="#ff0000" stroke="#fff" stroke-width="0.6"/>
<circle cx="1253.7" cy="472.8" r="4.65" fill="#ff0000" stroke="#fff" stroke-width="0.6"/>
<circle cx="1264.8" cy="466.9" r="4.65" fill="#ff0000" stroke="#fff" stroke-width="0.6"/>
<circle cx="1265.3" cy="472.0" r="4.65" fill="#ff0000" stroke="#fff" stroke-width="0.6"/>
<circle cx="1273.0" cy="472.0" r="4.65" fill="#ff0000" stroke="#fff" stroke-width="0.6"/>
<circle cx="1278.2" cy="463.9" r="4.65" fill="#ff0000" stroke="#fff" stroke-width="0.6"/>
<circle cx="1259.7" cy="480.5" r="4.65" fill="#ff0000" stroke="#fff" stroke-width="0.6"/>
<circle cx="1265.9" cy="480.5" r="4.65" fill="#ff0000" stroke="#fff" stroke-width="0.6"/>
<circle cx="1237.1" cy="484.3" r="4.65" fill="#ff0000" stroke="#fff" stroke-width="0.6"/>
<circle cx="1231.5" cy="487.6" r="4.65" fill="#ff0000" stroke="#fff" stroke-width="0.6"/>
<circle cx="1247.4" cy="487.3" r="4.65" fill="#ff0000" stroke="#fff" stroke-width="0.6"/>
<circle cx="1251.5" cy="490.6" r="4.65" fill="#ff0000" stroke="#fff" stroke-width="0.6"/>
<circle cx="1260.4" cy="489.4" r="4.65" fill="#ff0000" stroke="#fff" stroke-width="0.6"/>
<circle cx="1242.2" cy="492.3" r="4.65" fill="#ff0000" stroke="#fff" stroke-width="0.6"/>
<circle cx="1258.5" cy="495.8" r="4.65" fill="#ff0000" stroke="#fff" stroke-width="0.6"/>
<circle cx="1254.5" cy="499.5" r="4.65" fill="#ff0000" stroke="#fff" stroke-width="0.6"/>
<circle cx="1269.7" cy="489.8" r="4.65" fill="#ff0000" stroke="#fff" stroke-width="0.6"/>
<circle cx="1275.7" cy="489.8" r="4.65" fill="#ff0000" stroke="#fff" stroke-width="0.6"/>
<circle cx="1278.2" cy="483.9" r="4.65" fill="#ff0000" stroke="#fff" stroke-width="0.6"/>
<circle cx="1275.2" cy="480.2" r="4.65" fill="#ff0000" stroke="#fff" stroke-width="0.6"/>
<circle cx="1284.1" cy="490.6" r="4.65" fill="#ff0000" stroke="#fff" stroke-width="0.6"/>
<circle cx="1278.2" cy="499.5" r="4.65" fill="#ff0000" stroke="#fff" stroke-width="0.6"/>
<circle cx="1218.9" cy="503.9" r="4.65" fill="#ff0000" stroke="#fff" stroke-width="0.6"/>
<circle cx="1211.5" cy="506.9" r="4.65" fill="#ff0000" stroke="#fff" stroke-width="0.6"/>
<circle cx="1225.6" cy="503.9" r="4.65" fill="#ff0000" stroke="#fff" stroke-width="0.6"/>
<circle cx="1226.3" cy="507.6" r="4.65" fill="#ff0000" stroke="#fff" stroke-width="0.6"/>
<circle cx="1211.5" cy="515.8" r="4.65" fill="#ff0000" stroke="#fff" stroke-width="0.6"/>
<circle cx="1224.8" cy="515.8" r="4.65" fill="#ff0000" stroke="#fff" stroke-width="0.6"/>
<circle cx="1232.2" cy="513.5" r="4.65" fill="#ff0000" stroke="#fff" stroke-width="0.6"/>
<circle cx="1224.1" cy="520.2" r="4.65" fill="#ff0000" stroke="#fff" stroke-width="0.6"/>
<circle cx="1247.1" cy="528.8" r="4.65" fill="#ff0000" stroke="#fff" stroke-width="0.6"/>
<circle cx="1270.0" cy="513.5" r="4.65" fill="#ff0000" stroke="#fff" stroke-width="0.6"/>
<circle cx="1278.2" cy="511.0" r="4.65" fill="#ff0000" stroke="#fff" stroke-width="0.6"/>
<circle cx="1270.3" cy="518.4" r="4.65" fill="#ff0000" stroke="#fff" stroke-width="0.6"/>
<circle cx="1278.2" cy="520.5" r="4.65" fill="#ff0000" stroke="#fff" stroke-width="0.6"/>
<circle cx="1246.6" cy="546.1" r="4.65" fill="#ff0000" stroke="#fff" stroke-width="0.6"/>
<circle cx="1257.4" cy="555.5" r="4.65" fill="#ff0000" stroke="#fff" stroke-width="0.6"/>
<circle cx="1265.3" cy="555.5" r="4.65" fill="#ff0000" stroke="#fff" stroke-width="0.6"/>
<circle cx="1275.7" cy="551.3" r="4.65" fill="#ff0000" stroke="#fff" stroke-width="0.6"/>
<circle cx="1274.5" cy="556.5" r="4.65" fill="#ff0000" stroke="#fff" stroke-width="0.6"/>
<circle cx="1238.2" cy="562.4" r="4.65" fill="#ff0000" stroke="#fff" stroke-width="0.6"/>
<circle cx="1253.0" cy="562.4" r="4.65" fill="#ff0000" stroke="#fff" stroke-width="0.6"/>
<circle cx="1282.6" cy="566.0" r="4.65" fill="#ff0000" stroke="#fff" stroke-width="0.6"/>
<circle cx="1297.0" cy="469.5" r="4.65" fill="#ff0000" stroke="#fff" stroke-width="0.6"/>
<circle cx="1306.3" cy="472.0" r="4.65" fill="#ff0000" stroke="#fff" stroke-width="0.6"/>
<circle cx="1297.0" cy="480.2" r="4.65" fill="#ff0000" stroke="#fff" stroke-width="0.6"/>
<circle cx="1301.4" cy="483.2" r="4.65" fill="#ff0000" stroke="#fff" stroke-width="0.6"/>
<circle cx="1298.2" cy="489.1" r="4.65" fill="#ff0000" stroke="#fff" stroke-width="0.6"/>
<circle cx="1306.3" cy="489.1" r="4.65" fill="#ff0000" stroke="#fff" stroke-width="0.6"/>
<circle cx="1293.7" cy="502.1" r="4.65" fill="#ff0000" stroke="#fff" stroke-width="0.6"/>
<circle cx="1307.0" cy="502.4" r="4.65" fill="#ff0000" stroke="#fff" stroke-width="0.6"/>
<circle cx="1315.2" cy="502.7" r="4.65" fill="#ff0000" stroke="#fff" stroke-width="0.6"/>
<circle cx="1321.1" cy="499.0" r="4.65" fill="#ff0000" stroke="#fff" stroke-width="0.6"/>
<circle cx="1301.1" cy="512.1" r="4.65" fill="#ff0000" stroke="#fff" stroke-width="0.6"/>
<circle cx="1294.5" cy="515.5" r="4.65" fill="#ff0000" stroke="#fff" stroke-width="0.6"/>
<circle cx="1310.8" cy="510.6" r="4.65" fill="#ff0000" stroke="#fff" stroke-width="0.6"/>
<circle cx="1310.8" cy="518.0" r="4.65" fill="#ff0000" stroke="#fff" stroke-width="0.6"/>
<circle cx="1321.6" cy="510.6" r="4.65" fill="#ff0000" stroke="#fff" stroke-width="0.6"/>
<circle cx="1327.8" cy="515.5" r="4.65" fill="#ff0000" stroke="#fff" stroke-width="0.6"/>
<circle cx="1322.6" cy="520.2" r="4.65" fill="#ff0000" stroke="#fff" stroke-width="0.6"/>
<circle cx="1321.6" cy="525.4" r="4.65" fill="#ff0000" stroke="#fff" stroke-width="0.6"/>
<circle cx="1331.5" cy="472.5" r="4.65" fill="#ff0000" stroke="#fff" stroke-width="0.6"/>
<circle cx="1338.5" cy="470.3" r="4.65" fill="#ff0000" stroke="#fff" stroke-width="0.6"/>
<circle cx="1350.8" cy="473.1" r="4.65" fill="#ff0000" stroke="#fff" stroke-width="0.6"/>
<circle cx="1354.5" cy="475.0" r="4.65" fill="#ff0000" stroke="#fff" stroke-width="0.6"/>
<circle cx="1378.2" cy="473.5" r="4.65" fill="#ff0000" stroke="#fff" stroke-width="0.6"/>
<circle cx="1381.4" cy="470.1" r="4.65" fill="#ff0000" stroke="#fff" stroke-width="0.6"/>
<circle cx="1348.5" cy="489.1" r="4.65" fill="#ff0000" stroke="#fff" stroke-width="0.6"/>
<circle cx="1338.5" cy="510.6" r="4.65" fill="#ff0000" stroke="#fff" stroke-width="0.6"/>
<circle cx="1355.7" cy="510.6" r="4.65" fill="#ff0000" stroke="#fff" stroke-width="0.6"/>
<circle cx="1345.9" cy="526.1" r="4.65" fill="#ff0000" stroke="#fff" stroke-width="0.6"/>
<circle cx="1347.8" cy="525.4" r="4.65" fill="#ff0000" stroke="#fff" stroke-width="0.6"/>
<circle cx="1364.4" cy="525.4" r="4.65" fill="#ff0000" stroke="#fff" stroke-width="0.6"/>
<circle cx="1380.4" cy="526.1" r="4.65" fill="#ff0000" stroke="#fff" stroke-width="0.6"/>
<circle cx="1289.0" cy="543.9" r="4.65" fill="#ff0000" stroke="#fff" stroke-width="0.6"/>
<circle cx="1304.8" cy="544.2" r="4.65" fill="#ff0000" stroke="#fff" stroke-width="0.6"/>
<circle cx="1291.5" cy="551.6" r="4.65" fill="#ff0000" stroke="#fff" stroke-width="0.6"/>
<circle cx="1290.7" cy="557.0" r="4.65" fill="#ff0000" stroke="#fff" stroke-width="0.6"/>
<circle cx="1299.3" cy="557.0" r="4.65" fill="#ff0000" stroke="#fff" stroke-width="0.6"/>
<circle cx="1325.6" cy="547.6" r="4.65" fill="#ff0000" stroke="#fff" stroke-width="0.6"/>
<circle cx="1333.4" cy="548.1" r="4.65" fill="#ff0000" stroke="#fff" stroke-width="0.6"/>
<circle cx="1321.6" cy="551.3" r="4.65" fill="#ff0000" stroke="#fff" stroke-width="0.6"/>
<circle cx="1355.7" cy="551.3" r="4.65" fill="#ff0000" stroke="#fff" stroke-width="0.6"/>
<circle cx="1364.4" cy="551.3" r="4.65" fill="#ff0000" stroke="#fff" stroke-width="0.6"/>
<circle cx="1325.1" cy="562.4" r="4.65" fill="#ff0000" stroke="#fff" stroke-width="0.6"/>
<circle cx="1333.7" cy="562.4" r="4.65" fill="#ff0000" stroke="#fff" stroke-width="0.6"/>
<circle cx="1304.8" cy="563.9" r="4.65" fill="#ff0000" stroke="#fff" stroke-width="0.6"/>
<circle cx="1317.1" cy="564.7" r="4.65" fill="#ff0000" stroke="#fff" stroke-width="0.6"/>
<circle cx="1229.3" cy="580.0" r="4.65" fill="#ff0000" stroke="#fff" stroke-width="0.6"/>
<circle cx="1235.9" cy="580.0" r="4.65" fill="#ff0000" stroke="#fff" stroke-width="0.6"/>
<circle cx="1240.7" cy="580.0" r="4.65" fill="#ff0000" stroke="#fff" stroke-width="0.6"/>
<circle cx="1248.1" cy="580.0" r="4.65" fill="#ff0000" stroke="#fff" stroke-width="0.6"/>
<circle cx="1270.3" cy="579.3" r="4.65" fill="#ff0000" stroke="#fff" stroke-width="0.6"/>
<circle cx="1273.0" cy="576.3" r="4.65" fill="#ff0000" stroke="#fff" stroke-width="0.6"/>
<circle cx="1284.1" cy="579.3" r="4.65" fill="#ff0000" stroke="#fff" stroke-width="0.6"/>
<circle cx="1265.3" cy="634.4" r="4.65" fill="#ff0000" stroke="#fff" stroke-width="0.6"/>
<circle cx="1273.0" cy="634.4" r="4.65" fill="#ff0000" stroke="#fff" stroke-width="0.6"/>
<circle cx="1291.5" cy="566.7" r="4.65" fill="#ff0000" stroke="#fff" stroke-width="0.6"/>
<circle cx="1298.9" cy="567.1" r="4.65" fill="#ff0000" stroke="#fff" stroke-width="0.6"/>
<circle cx="1325.1" cy="569.6" r="4.65" fill="#ff0000" stroke="#fff" stroke-width="0.6"/>
<circle cx="1333.4" cy="569.6" r="4.65" fill="#ff0000" stroke="#fff" stroke-width="0.6"/>
<circle cx="1341.9" cy="570.1" r="4.65" fill="#ff0000" stroke="#fff" stroke-width="0.6"/>
<circle cx="1288.1" cy="576.0" r="4.65" fill="#ff0000" stroke="#fff" stroke-width="0.6"/>
<circle cx="1293.4" cy="582.2" r="4.65" fill="#ff0000" stroke="#fff" stroke-width="0.6"/>
<circle cx="1304.8" cy="574.1" r="4.65" fill="#ff0000" stroke="#fff" stroke-width="0.6"/>
<circle cx="1313.0" cy="574.1" r="4.65" fill="#ff0000" stroke="#fff" stroke-width="0.6"/>
<circle cx="1318.9" cy="584.0" r="4.65" fill="#ff0000" stroke="#fff" stroke-width="0.6"/>
<circle cx="1327.1" cy="584.0" r="4.65" fill="#ff0000" stroke="#fff" stroke-width="0.6"/>
<circle cx="1334.0" cy="583.0" r="4.65" fill="#ff0000" stroke="#fff" stroke-width="0.6"/>
<circle cx="1341.9" cy="583.0" r="4.65" fill="#ff0000" stroke="#fff" stroke-width="0.6"/>
<circle cx="1313.0" cy="607.4" r="4.65" fill="#ff0000" stroke="#fff" stroke-width="0.6"/>
<circle cx="1217.9" cy="393.6" r="4.65" fill="#ff0000" stroke="#fff" stroke-width="0.6"/>
<circle cx="1208.0" cy="411.5" r="4.65" fill="#ff0000" stroke="#fff" stroke-width="0.6"/>
<circle cx="1224.9" cy="403.9" r="4.65" fill="#ff0000" stroke="#fff" stroke-width="0.6"/>
<circle cx="1243.5" cy="404.7" r="4.65" fill="#ff0000" stroke="#fff" stroke-width="0.6"/>
<circle cx="1252.4" cy="399.6" r="4.65" fill="#ff0000" stroke="#fff" stroke-width="0.6"/>
<circle cx="1237.0" cy="415.7" r="4.65" fill="#ff0000" stroke="#fff" stroke-width="0.6"/>
<circle cx="1237.8" cy="475.4" r="4.65" fill="#ff0000" stroke="#fff" stroke-width="0.6"/>
<circle cx="1250.0" cy="484.3" r="4.65" fill="#ff0000" stroke="#fff" stroke-width="0.6"/>
<circle cx="1202.3" cy="376.6" r="4.65" fill="#ff0000" stroke="#fff" stroke-width="0.6"/>
<circle cx="1207.6" cy="376.0" r="4.65" fill="#ff0000" stroke="#fff" stroke-width="0.6"/>
<circle cx="1219.0" cy="369.6" r="4.65" fill="#ff0000" stroke="#fff" stroke-width="0.6"/>
</g>
<circle cx="954.4" cy="325.2" r="5.4" fill="#000" stroke="#fff" stroke-width="0.6"/>
<path d="M911.4,154.3 L911.4,680.4 L1403.0,680.4" fill="none" stroke="#222" stroke-width="1.1" stroke-linecap="square"/>
<line x1="954.4" y1="680.4" x2="954.4" y2="685.3" stroke="#222" stroke-width="1.1"/>
<text x="954.4" y="703.5" text-anchor="middle" class="mpl" font-size="20.2">1.0</text>
<line x1="1050.0" y1="680.4" x2="1050.0" y2="685.3" stroke="#222" stroke-width="1.1"/>
<text x="1050.0" y="703.5" text-anchor="middle" class="mpl" font-size="20.2">1.2</text>
<line x1="1145.7" y1="680.4" x2="1145.7" y2="685.3" stroke="#222" stroke-width="1.1"/>
<text x="1145.7" y="703.5" text-anchor="middle" class="mpl" font-size="20.2">1.4</text>
<line x1="1241.3" y1="680.4" x2="1241.3" y2="685.3" stroke="#222" stroke-width="1.1"/>
<text x="1241.3" y="703.5" text-anchor="middle" class="mpl" font-size="20.2">1.6</text>
<line x1="1337.0" y1="680.4" x2="1337.0" y2="685.3" stroke="#222" stroke-width="1.1"/>
<text x="1337.0" y="703.5" text-anchor="middle" class="mpl" font-size="20.2">1.8</text>
<line x1="906.5" y1="214.9" x2="911.4" y2="214.9" stroke="#222" stroke-width="1.1"/>
<text x="904" y="222.3" text-anchor="end" class="mpl" font-size="20.2">0.15</text>
<line x1="906.5" y1="283.9" x2="911.4" y2="283.9" stroke="#222" stroke-width="1.1"/>
<text x="904" y="291.3" text-anchor="end" class="mpl" font-size="20.2">0.10</text>
<line x1="906.5" y1="352.8" x2="911.4" y2="352.8" stroke="#222" stroke-width="1.1"/>
<text x="904" y="360.2" text-anchor="end" class="mpl" font-size="20.2">0.05</text>
<line x1="906.5" y1="421.8" x2="911.4" y2="421.8" stroke="#222" stroke-width="1.1"/>
<text x="904" y="429.2" text-anchor="end" class="mpl" font-size="20.2">0.00</text>
<line x1="906.5" y1="490.8" x2="911.4" y2="490.8" stroke="#222" stroke-width="1.1"/>
<text x="904" y="498.2" text-anchor="end" class="mpl" font-size="20.2">−0.05</text>
<line x1="906.5" y1="559.7" x2="911.4" y2="559.7" stroke="#222" stroke-width="1.1"/>
<text x="904" y="567.1" text-anchor="end" class="mpl" font-size="20.2">−0.10</text>
<line x1="906.5" y1="628.7" x2="911.4" y2="628.7" stroke="#222" stroke-width="1.1"/>
<text x="904" y="636.1" text-anchor="end" class="mpl" font-size="20.2">−0.15</text>
<text x="1158" y="736.2" text-anchor="middle" class="mpl" font-size="25">GA score ratio between X and Fe</text>
<text transform="translate(829.2,411.5) rotate(-90)" x="0" y="0" text-anchor="middle" class="mpl" font-size="25">Formation Energy (eV atom<tspan font-size="14.5" dy="-10.5">-1</tspan><tspan dy="10.5" dx="1">)</tspan></text>
<rect x="1189.3" y="159.3" width="209.3" height="90.4" rx="4" fill="#fff" fill-opacity="0.8" stroke="#cccccc" stroke-width="1"/>
<circle cx="1209.1" cy="173.5" r="4.7" fill="#0000ff"/>
<circle cx="1209.1" cy="204.6" r="4.7" fill="#ff0000"/>
<circle cx="1209.1" cy="235.5" r="5.6" fill="#000"/>
<text x="1226.6" y="179.2" class="mpl" font-size="21" textLength="144.8" lengthAdjust="spacingAndGlyphs">X=Cu, Zn, Mo</text>
<text x="1226.6" y="210.4" class="mpl" font-size="21" textLength="167.3" lengthAdjust="spacingAndGlyphs">X=Al, Ti, Co, Ga</text>
<text x="1226.6" y="241.1" class="mpl" font-size="21">SmFe<tspan font-size="14.7" dy="3.5">12</tspan></text>
</svg>
</body></html>
